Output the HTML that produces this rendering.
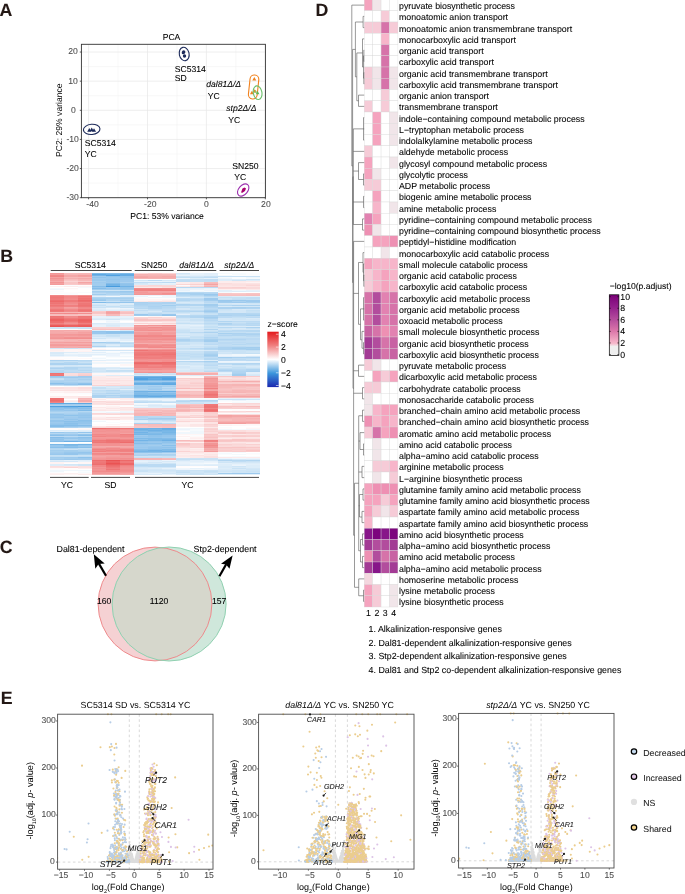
<!DOCTYPE html>
<html><head><meta charset="utf-8"><title>Figure</title><style>
html,body{margin:0;padding:0;background:#fff;width:685px;height:894px;overflow:hidden;}
svg{display:block;font-family:"Liberation Sans",sans-serif;will-change:transform;text-rendering:geometricPrecision;}
text{stroke-width:0.08px;}
</style></head><body>
<svg width="685" height="894" viewBox="0 0 685 894">
<text x="-0.4" y="16.2" font-size="17.8" text-anchor="start" fill="#231815" stroke="#231815" font-weight="bold">A</text>
<text x="0.2" y="262" font-size="17.8" text-anchor="start" fill="#231815" stroke="#231815" font-weight="bold">B</text>
<text x="-0.3" y="552.8" font-size="17.8" text-anchor="start" fill="#231815" stroke="#231815" font-weight="bold">C</text>
<text x="315.6" y="16.2" font-size="17.8" text-anchor="start" fill="#231815" stroke="#231815" font-weight="bold">D</text>
<text x="0.8" y="704" font-size="17.8" text-anchor="start" fill="#231815" stroke="#231815" font-weight="bold">E</text>
<line x1="118.05" y1="44.3" x2="118.05" y2="197.7" stroke="#f0f0f0" stroke-width="0.5"/>
<line x1="176.95" y1="44.3" x2="176.95" y2="197.7" stroke="#f0f0f0" stroke-width="0.5"/>
<line x1="235.85" y1="44.3" x2="235.85" y2="197.7" stroke="#f0f0f0" stroke-width="0.5"/>
<line x1="81.4" y1="66.6" x2="265.4" y2="66.6" stroke="#f0f0f0" stroke-width="0.5"/>
<line x1="81.4" y1="95.73" x2="265.4" y2="95.73" stroke="#f0f0f0" stroke-width="0.5"/>
<line x1="81.4" y1="124.86" x2="265.4" y2="124.86" stroke="#f0f0f0" stroke-width="0.5"/>
<line x1="81.4" y1="154" x2="265.4" y2="154" stroke="#f0f0f0" stroke-width="0.5"/>
<line x1="81.4" y1="183.12" x2="265.4" y2="183.12" stroke="#f0f0f0" stroke-width="0.5"/>
<line x1="88.6" y1="44.3" x2="88.6" y2="197.7" stroke="#e6e6e6" stroke-width="0.7"/>
<line x1="147.5" y1="44.3" x2="147.5" y2="197.7" stroke="#e6e6e6" stroke-width="0.7"/>
<line x1="206.4" y1="44.3" x2="206.4" y2="197.7" stroke="#e6e6e6" stroke-width="0.7"/>
<line x1="265.3" y1="44.3" x2="265.3" y2="197.7" stroke="#e6e6e6" stroke-width="0.7"/>
<line x1="81.4" y1="52.04" x2="265.4" y2="52.04" stroke="#e6e6e6" stroke-width="0.7"/>
<line x1="81.4" y1="81.17" x2="265.4" y2="81.17" stroke="#e6e6e6" stroke-width="0.7"/>
<line x1="81.4" y1="110.3" x2="265.4" y2="110.3" stroke="#e6e6e6" stroke-width="0.7"/>
<line x1="81.4" y1="139.43" x2="265.4" y2="139.43" stroke="#e6e6e6" stroke-width="0.7"/>
<line x1="81.4" y1="168.56" x2="265.4" y2="168.56" stroke="#e6e6e6" stroke-width="0.7"/>
<line x1="81.4" y1="197.69" x2="265.4" y2="197.69" stroke="#e6e6e6" stroke-width="0.7"/>
<rect x="81.4" y="44.3" width="183.99999999999997" height="153.39999999999998" fill="none" stroke="#333" stroke-width="0.9"/>
<line x1="79.8" y1="52.04" x2="81.4" y2="52.04" stroke="#333" stroke-width="0.8"/>
<text x="77.72" y="54.44" font-size="8.6" text-anchor="end" fill="#4d4d4d" stroke="#4d4d4d">20</text>
<line x1="79.8" y1="81.17" x2="81.4" y2="81.17" stroke="#333" stroke-width="0.8"/>
<text x="77.72" y="83.57" font-size="8.6" text-anchor="end" fill="#4d4d4d" stroke="#4d4d4d">10</text>
<line x1="79.8" y1="110.3" x2="81.4" y2="110.3" stroke="#333" stroke-width="0.8"/>
<text x="75.81" y="112.7" font-size="8.6" text-anchor="end" fill="#4d4d4d" stroke="#4d4d4d">0</text>
<line x1="79.8" y1="139.43" x2="81.4" y2="139.43" stroke="#333" stroke-width="0.8"/>
<text x="78.87" y="141.83" font-size="8.6" text-anchor="end" fill="#4d4d4d" stroke="#4d4d4d">-10</text>
<line x1="79.8" y1="168.56" x2="81.4" y2="168.56" stroke="#333" stroke-width="0.8"/>
<text x="78.87" y="170.96" font-size="8.6" text-anchor="end" fill="#4d4d4d" stroke="#4d4d4d">-20</text>
<line x1="79.8" y1="197.69" x2="81.4" y2="197.69" stroke="#333" stroke-width="0.8"/>
<text x="78.87" y="200.09" font-size="8.6" text-anchor="end" fill="#4d4d4d" stroke="#4d4d4d">-30</text>
<line x1="88.6" y1="197.7" x2="88.6" y2="199.3" stroke="#333" stroke-width="0.8"/>
<text x="92.5" y="207.2" font-size="8.6" text-anchor="middle" fill="#4d4d4d" stroke="#4d4d4d">-40</text>
<line x1="147.5" y1="197.7" x2="147.5" y2="199.3" stroke="#333" stroke-width="0.8"/>
<text x="150.3" y="207.2" font-size="8.6" text-anchor="middle" fill="#4d4d4d" stroke="#4d4d4d">-20</text>
<line x1="206.4" y1="197.7" x2="206.4" y2="199.3" stroke="#333" stroke-width="0.8"/>
<text x="206.5" y="207.2" font-size="8.6" text-anchor="middle" fill="#4d4d4d" stroke="#4d4d4d">0</text>
<line x1="265.3" y1="197.7" x2="265.3" y2="199.3" stroke="#333" stroke-width="0.8"/>
<text x="265.9" y="207.2" font-size="8.6" text-anchor="middle" fill="#4d4d4d" stroke="#4d4d4d">20</text>
<text x="171.5" y="40.4" font-size="8.6" text-anchor="middle" fill="#000" stroke="#000">PCA</text>
<text x="167" y="219" font-size="8.6" text-anchor="middle" fill="#000" stroke="#000">PC1: 53% variance</text>
<text transform="translate(61.6,120.2) rotate(-90)" font-size="8.6" text-anchor="middle" fill="#000">PC2: 29% variance</text>
<ellipse cx="184.2" cy="54" rx="4.9" ry="6.8" fill="none" stroke="#1c2a5a" stroke-width="1.1" transform="rotate(-12 184.2 54)"/>
<circle cx="183.7" cy="51.9" r="1.7" fill="#1c2a5a"/><circle cx="184.5" cy="56" r="1.7" fill="#1c2a5a"/><circle cx="183.2" cy="52.8" r="1.5" fill="#1c2a5a"/>
<ellipse cx="91.7" cy="129.4" rx="8.3" ry="5.1" fill="none" stroke="#1c2a5a" stroke-width="1.1" transform="rotate(-5 91.7 129.4)"/>
<path d="M89.3 128.12L87.2 131.75L91.4 131.75Z" fill="#1c2a5a"/>
<path d="M91.7 127.62L89.6 131.25L93.8 131.25Z" fill="#1c2a5a"/>
<path d="M94 128.22L91.9 131.85L96.1 131.85Z" fill="#1c2a5a"/>
<rect x="249.2" y="75" width="8.8" height="24" rx="4.4" fill="none" stroke="#f0821e" stroke-width="1.1" transform="rotate(6 253.6 87)"/>
<path d="M254.3 76.92L252.3 80.39L256.3 80.39Z" fill="#f0821e"/>
<path d="M251.9 90.72L249.9 94.19L253.9 94.19Z" fill="#f0821e"/>
<path d="M254.6 89.13L252.8 92.25L256.4 92.25Z" fill="#f0821e"/>
<ellipse cx="257.6" cy="92.7" rx="4.3" ry="6.9" fill="none" stroke="#6cc06c" stroke-width="1.1" transform="rotate(-10 257.6 92.7)"/>
<path d="M257.6 91.03L255.7 94.32L259.5 94.32Z" fill="#5cb85c"/>
<path d="M255.6 89.83L253.9 92.78L257.3 92.78Z" fill="#9ab860"/>
<ellipse cx="243.2" cy="190" rx="7" ry="4.6" fill="none" stroke="#9b2fae" stroke-width="1.1" transform="rotate(-50 243.2 190)"/>
<path d="M241 192.5 L242.5 188.5 L244.5 187.5 L246 188.5 L245 191 L242.5 192.8Z" fill="#a8006e"/>
<text x="174.8" y="71.9" font-size="8.6" text-anchor="start" fill="#000" stroke="#000">SC5314</text>
<text x="174.8" y="81.1" font-size="8.6" text-anchor="start" fill="#000" stroke="#000">SD</text>
<text x="206.2" y="87.2" font-size="8.6" text-anchor="start" fill="#000" stroke="#000" font-style="italic">dal81Δ/Δ</text>
<text x="207.7" y="98.7" font-size="8.6" text-anchor="start" fill="#000" stroke="#000">YC</text>
<text x="226.3" y="111.3" font-size="8.6" text-anchor="start" fill="#000" stroke="#000" font-style="italic">stp2Δ/Δ</text>
<text x="228.3" y="123.3" font-size="8.6" text-anchor="start" fill="#000" stroke="#000">YC</text>
<text x="84.8" y="146.1" font-size="8.6" text-anchor="start" fill="#000" stroke="#000">SC5314</text>
<text x="84.8" y="156.8" font-size="8.6" text-anchor="start" fill="#000" stroke="#000">YC</text>
<text x="232.3" y="169.1" font-size="8.6" text-anchor="start" fill="#000" stroke="#000">SN250</text>
<text x="234.2" y="179.7" font-size="8.6" text-anchor="start" fill="#000" stroke="#000">YC</text>
<g fill="none" shape-rendering="crispEdges">
<path d="M50.2 273.6h14.03M50.2 334.5h14.03M50.2 337.5h14.03M64.18 334.5h14.03M78.16 335.5h14.03M78.16 345.5h14.03M92.14 432.5h14.03M92.14 433.5h14.03M92.14 437.5h14.03M92.14 458.5h14.03M92.14 472.5h14.03M92.14 473.5h14.03M106.12 432.5h14.03M106.12 437.5h14.03M106.12 457.5h14.03M106.12 473.5h14.03M120.1 431.5h14.03M120.1 432.5h14.03M120.1 438.5h14.03M120.1 472.5h14.03M134.08 292.5h14.03M134.08 325.5h14.03M134.08 327.5h14.03M134.08 340.5h14.03M148.06 293.5h14.03M148.06 294.5h14.03M148.06 328.5h14.03M148.06 329.5h14.03M148.06 332.5h14.03M148.06 344.5h14.03M148.06 349.5h14.03M162.04 330.5h14.03M203.98 383.5h14.03M203.98 384.5h14.03" stroke="#f39898"/>
<path d="M50.2 274.5h14.03M50.2 279.5h14.03M50.2 280.5h14.03M50.2 336.5h14.03M50.2 344.5h14.03M64.18 342.5h14.03M78.16 275.5h14.03M78.16 342.5h14.03M92.14 452.5h14.03M92.14 455.5h14.03M92.14 457.5h14.03M106.12 456.5h14.03M120.1 452.5h14.03M134.08 291.5h14.03M148.06 340.5h14.03M162.04 332.5h14.03M203.98 379.5h14.03M203.98 380.5h14.03M203.98 381.5h14.03M217.96 423.5h14.03M231.94 423.5h14.03" stroke="#f39e9e"/>
<path d="M50.2 275.5h14.03M50.2 295.5h14.03M50.2 308.5h14.03M64.18 297.5h14.03M64.18 302.5h14.03M64.18 313.5h14.03M64.18 322.5h14.03M78.16 307.5h14.03M92.14 434.5h14.03M92.14 450.5h14.03M92.14 453.5h14.03M92.14 465.5h14.03M92.14 466.5h14.03M106.12 451.5h14.03M106.12 454.5h14.03M106.12 470.5h14.03M106.12 471.5h14.03M120.1 435.5h14.03M120.1 436.5h14.03M120.1 439.5h14.03M134.08 335.5h14.03M134.08 351.5h14.03M148.06 335.5h14.03M148.06 336.5h14.03M148.06 347.5h14.03M148.06 365.5h14.03M162.04 335.5h14.03M162.04 347.5h14.03M162.04 351.5h14.03" stroke="#f18888"/>
<path d="M50.2 276.5h14.03M50.2 402.5h14.03M64.18 296.5h14.03M64.18 310.5h14.03M92.14 436.5h14.03M106.12 453.5h14.03M134.08 336.5h14.03M148.06 351.5h14.03M162.04 289.5h14.03M162.04 336.5h14.03M203.98 391.5h14.03M203.98 408.5h14.03" stroke="#f08585"/>
<path d="M50.2 277.5h14.03M50.2 283.5h14.03M50.2 342.5h14.03M64.18 307.5h14.03M64.18 344.5h14.03M78.16 276.5h14.03M78.16 332.5h14.03M78.16 336.5h14.03M106.12 312.5h14.03M106.12 455.5h14.03M120.1 433.5h14.03M120.1 473.5h14.03M134.08 371.5h14.03M148.06 292.5h14.03M148.06 370.5h14.03M148.06 371.5h14.03M162.04 292.5h14.03M162.04 334.5h14.03M162.04 370.5h14.03M162.04 371.5h14.03M203.98 382.5h14.03M203.98 389.5h14.03M217.96 415.5h14.03M245.92 416.5h14.03" stroke="#f4a1a1"/>
<path d="M50.2 278.5h14.03M64.18 304.5h14.03M64.18 323.5h14.03M64.18 337.5h14.03M78.16 295.5h14.03M92.14 431.5h14.03M92.14 443.5h14.03M92.14 444.5h14.03M92.14 445.5h14.03M92.14 448.5h14.03M92.14 470.5h14.03M106.12 430.5h14.03M106.12 444.5h14.03M106.12 445.5h14.03M106.12 458.5h14.03M120.1 429.5h14.03M120.1 437.5h14.03M120.1 445.5h14.03M120.1 448.5h14.03M120.1 459.5h14.03M120.1 468.5h14.03M134.08 330.5h14.03M134.08 338.5h14.03M134.08 347.5h14.03M134.08 369.5h14.03M134.08 372.5h14.03M148.06 337.5h14.03M148.06 359.5h14.03M148.06 360.5h14.03M148.06 368.5h14.03M162.04 329.5h14.03M162.04 338.5h14.03M162.04 344.5h14.03M162.04 346.5h14.03M162.04 359.5h14.03M162.04 368.5h14.03M203.98 385.5h14.03M203.98 386.5h14.03" stroke="#f29292"/>
<path d="M50.2 281.5h14.03M50.2 330.5h14.03M50.2 331.5h14.03M50.2 332.5h14.03M64.18 346.5h14.03M64.18 347.5h14.03M78.16 331.5h14.03M78.16 400.5h14.03M78.16 401.5h14.03M106.12 311.5h14.03M106.12 446.5h14.03M106.12 474.05h14.03M134.08 331.5h14.03M148.06 277.5h14.03M148.06 331.5h14.03M148.06 343.5h14.03M162.04 277.5h14.03M203.98 442.5h14.03M231.94 381.5h14.03" stroke="#f5abab"/>
<path d="M50.2 282.5h14.03M50.2 338.5h14.03M78.16 334.5h14.03M78.16 337.5h14.03M92.14 430.5h14.03M92.14 438.5h14.03M92.14 459.5h14.03M92.14 467.5h14.03M92.14 469.5h14.03M106.12 431.5h14.03M106.12 433.5h14.03M106.12 438.5h14.03M106.12 459.5h14.03M120.1 443.5h14.03M120.1 444.5h14.03M134.08 294.5h14.03M134.08 328.5h14.03M134.08 329.5h14.03M134.08 337.5h14.03M134.08 349.5h14.03M134.08 360.5h14.03M134.08 368.5h14.03M148.06 325.5h14.03M148.06 333.5h14.03M148.06 334.5h14.03M148.06 338.5h14.03M148.06 361.5h14.03M162.04 294.5h14.03M162.04 327.5h14.03M162.04 328.5h14.03M162.04 337.5h14.03M162.04 349.5h14.03M162.04 369.5h14.03M162.04 372.5h14.03M203.98 378.5h14.03M203.98 443.5h14.03M203.98 444.5h14.03M203.98 446.5h14.03M203.98 447.5h14.03" stroke="#f29595"/>
<path d="M50.2 284.5h14.03M50.2 335.5h14.03M50.2 345.5h14.03M64.18 295.5h14.03M64.18 308.5h14.03M64.18 335.5h14.03M64.18 345.5h14.03M106.12 447.5h14.03M106.12 452.5h14.03M106.12 472.5h14.03M120.1 430.5h14.03M120.1 455.5h14.03M120.1 456.5h14.03M120.1 457.5h14.03M134.08 293.5h14.03M134.08 332.5h14.03M134.08 333.5h14.03M134.08 334.5h14.03M134.08 341.5h14.03M134.08 342.5h14.03M148.06 341.5h14.03M148.06 342.5h14.03M162.04 333.5h14.03M162.04 340.5h14.03M162.04 342.5h14.03M203.98 387.5h14.03M203.98 451.5h14.03" stroke="#f39b9b"/>
<path d="M50.2 285.5h14.03M50.2 287.5h14.03M50.2 294.5h14.03M50.2 386.5h14.03M64.18 287.5h14.03M64.18 290.5h14.03M64.18 291.5h14.03M64.18 399.5h14.03M64.18 471.5h14.03M64.18 472.5h14.03M78.16 288.5h14.03M78.16 289.5h14.03M78.16 290.5h14.03M78.16 291.5h14.03M78.16 293.5h14.03M78.16 294.5h14.03M78.16 357.5h14.03M78.16 359.5h14.03M78.16 395.5h14.03M78.16 442.5h14.03M78.16 469.5h14.03M92.14 356.5h14.03M92.14 422.5h14.03M92.14 423.5h14.03M106.12 348.5h14.03M106.12 358.5h14.03M106.12 364.5h14.03M106.12 421.5h14.03M106.12 423.5h14.03M120.1 321.5h14.03M120.1 348.5h14.03M120.1 358.5h14.03M120.1 422.5h14.03M134.08 316.5h14.03M148.06 296.5h14.03M176.02 427.5h14.03M190 427.5h14.03M190 467.5h14.03M217.96 274.5h14.03M217.96 402.5h14.03M217.96 410.5h14.03M217.96 426.5h14.03M217.96 455.5h14.03M231.94 292.5h14.03M231.94 426.5h14.03M231.94 427.5h14.03M231.94 428.5h14.03M231.94 453.5h14.03M231.94 455.5h14.03M245.92 292.5h14.03M245.92 410.5h14.03M245.92 426.5h14.03M245.92 452.5h14.03M245.92 455.5h14.03" stroke="#ffffff"/>
<path d="M50.2 286.5h14.03M50.2 349.5h14.03M50.2 351.5h14.03M50.2 392.5h14.03M50.2 462.5h14.03M50.2 463.5h14.03M50.2 473.5h14.03M64.18 391.5h14.03M78.16 286.5h14.03M78.16 349.5h14.03M78.16 351.5h14.03M78.16 391.5h14.03M92.14 349.5h14.03M92.14 408.5h14.03M106.12 400.5h14.03M106.12 406.5h14.03M120.1 416.5h14.03M148.06 322.5h14.03M176.02 423.5h14.03M176.02 436.5h14.03M190 422.5h14.03M190 423.5h14.03M190 437.5h14.03M190 454.5h14.03M217.96 425.5h14.03M245.92 282.5h14.03" stroke="#fef2f2"/>
<path d="M50.2 288.5h14.03M50.2 443.5h14.03M78.16 287.5h14.03M78.16 472.5h14.03M92.14 320.5h14.03M92.14 351.5h14.03M92.14 411.5h14.03M92.14 412.5h14.03M106.12 352.5h14.03M120.1 320.5h14.03M120.1 354.5h14.03M134.08 403.5h14.03M148.06 403.5h14.03M162.04 403.5h14.03M176.02 430.5h14.03M190 290.5h14.03M190 399.5h14.03M190 429.5h14.03M190 430.5h14.03M203.98 291.5h14.03M203.98 398.5h14.03M203.98 463.5h14.03M217.96 273.6h14.03M217.96 275.5h14.03M217.96 277.5h14.03M217.96 292.5h14.03M217.96 400.5h14.03M217.96 453.5h14.03M231.94 273.6h14.03M231.94 274.5h14.03M231.94 402.5h14.03M231.94 429.5h14.03M231.94 452.5h14.03M231.94 454.5h14.03M231.94 456.5h14.03M245.92 278.5h14.03M245.92 354.5h14.03M245.92 400.5h14.03M245.92 401.5h14.03M245.92 402.5h14.03M245.92 413.5h14.03" stroke="#f5fafd"/>
<path d="M50.2 289.5h14.03M50.2 442.5h14.03M50.2 470.5h14.03M50.2 471.5h14.03M64.18 353.5h14.03M64.18 356.5h14.03M64.18 470.5h14.03M78.16 353.5h14.03M78.16 443.5h14.03M78.16 470.5h14.03M92.14 353.5h14.03M92.14 355.5h14.03M92.14 358.5h14.03M92.14 362.5h14.03M92.14 363.5h14.03M92.14 421.5h14.03M106.12 296.5h14.03M106.12 308.5h14.03M106.12 320.5h14.03M106.12 322.5h14.03M106.12 356.5h14.03M106.12 359.5h14.03M106.12 362.5h14.03M120.1 341.5h14.03M120.1 356.5h14.03M120.1 363.5h14.03M120.1 411.5h14.03M134.08 295.5h14.03M134.08 404.5h14.03M134.08 406.5h14.03M148.06 297.5h14.03M162.04 296.5h14.03M162.04 297.5h14.03M162.04 404.5h14.03M176.02 291.5h14.03M176.02 398.5h14.03M176.02 399.5h14.03M176.02 428.5h14.03M176.02 432.5h14.03M176.02 433.5h14.03M176.02 468.5h14.03M190 291.5h14.03M190 428.5h14.03M190 431.5h14.03M190 432.5h14.03M190 433.5h14.03M190 463.5h14.03M190 469.5h14.03M203.98 289.5h14.03M203.98 399.5h14.03M217.96 429.5h14.03M231.94 290.5h14.03M231.94 354.5h14.03M231.94 355.5h14.03M231.94 458.5h14.03M245.92 277.5h14.03M245.92 355.5h14.03M245.92 429.5h14.03" stroke="#f0f7fc"/>
<path d="M50.2 290.5h14.03M50.2 292.5h14.03M50.2 329.5h14.03M50.2 357.5h14.03M50.2 358.5h14.03M50.2 393.5h14.03M50.2 394.5h14.03M50.2 395.5h14.03M50.2 428.5h14.03M50.2 429.5h14.03M64.18 289.5h14.03M64.18 292.5h14.03M64.18 329.5h14.03M64.18 357.5h14.03M64.18 359.5h14.03M64.18 394.5h14.03M64.18 395.5h14.03M64.18 429.5h14.03M64.18 463.5h14.03M64.18 468.5h14.03M64.18 469.5h14.03M78.16 285.5h14.03M78.16 394.5h14.03M92.14 348.5h14.03M92.14 364.5h14.03M92.14 365.5h14.03M92.14 366.5h14.03M92.14 424.5h14.03M92.14 425.5h14.03M106.12 361.5h14.03M106.12 365.5h14.03M106.12 366.5h14.03M106.12 399.5h14.03M106.12 415.5h14.03M106.12 420.5h14.03M106.12 425.5h14.03M120.1 361.5h14.03M120.1 366.5h14.03M120.1 374.5h14.03M120.1 406.5h14.03M120.1 420.5h14.03M120.1 424.5h14.03M120.1 425.5h14.03M148.06 298.5h14.03M162.04 298.5h14.03M176.02 431.5h14.03M176.02 435.5h14.03M176.02 437.5h14.03M176.02 466.5h14.03M176.02 467.5h14.03M190 466.5h14.03M203.98 466.5h14.03M217.96 413.5h14.03M217.96 428.5h14.03M231.94 409.5h14.03M231.94 410.5h14.03M245.92 427.5h14.03M245.92 454.5h14.03" stroke="#fffcfc"/>
<path d="M50.2 291.5h14.03M50.2 293.5h14.03M50.2 469.5h14.03M50.2 472.5h14.03M64.18 285.5h14.03M64.18 293.5h14.03M64.18 294.5h14.03M64.18 358.5h14.03M64.18 386.5h14.03M64.18 442.5h14.03M64.18 443.5h14.03M78.16 292.5h14.03M78.16 393.5h14.03M78.16 471.5h14.03M92.14 321.5h14.03M92.14 322.5h14.03M92.14 357.5h14.03M92.14 359.5h14.03M92.14 420.5h14.03M106.12 351.5h14.03M106.12 357.5h14.03M106.12 411.5h14.03M106.12 422.5h14.03M120.1 322.5h14.03M120.1 351.5h14.03M120.1 355.5h14.03M120.1 357.5h14.03M120.1 405.5h14.03M120.1 421.5h14.03M134.08 279.5h14.03M134.08 297.5h14.03M148.06 279.5h14.03M162.04 279.5h14.03M190 398.5h14.03M190 435.5h14.03M203.98 467.5h14.03M217.96 401.5h14.03M217.96 409.5h14.03M217.96 427.5h14.03M217.96 452.5h14.03M217.96 454.5h14.03M217.96 456.5h14.03M231.94 275.5h14.03M231.94 277.5h14.03M231.94 278.5h14.03M231.94 401.5h14.03M231.94 413.5h14.03M245.92 273.6h14.03M245.92 274.5h14.03M245.92 275.5h14.03M245.92 409.5h14.03M245.92 453.5h14.03M245.92 456.5h14.03" stroke="#fafcfe"/>
<path d="M50.2 296.5h14.03M50.2 298.5h14.03M50.2 309.5h14.03M50.2 311.5h14.03M50.2 374.5h14.03M64.18 300.5h14.03M64.18 301.5h14.03M78.16 309.5h14.03M78.16 311.5h14.03M78.16 317.5h14.03M92.14 461.5h14.03M106.12 467.5h14.03M120.1 461.5h14.03M120.1 462.5h14.03M134.08 353.5h14.03M134.08 355.5h14.03M134.08 364.5h14.03M148.06 353.5h14.03M148.06 364.5h14.03M162.04 352.5h14.03M203.98 404.5h14.03" stroke="#ef7a7a"/>
<path d="M50.2 297.5h14.03M50.2 302.5h14.03M50.2 317.5h14.03M50.2 375.5h14.03M64.18 321.5h14.03M78.16 299.5h14.03M78.16 303.5h14.03M78.16 304.5h14.03M78.16 306.5h14.03M78.16 316.5h14.03M78.16 318.5h14.03M92.14 440.5h14.03M92.14 442.5h14.03M92.14 462.5h14.03M106.12 469.5h14.03M120.1 428.5h14.03M120.1 440.5h14.03M120.1 441.5h14.03M134.08 354.5h14.03M162.04 353.5h14.03M203.98 395.5h14.03M203.98 405.5h14.03M203.98 411.5h14.03" stroke="#ee7777"/>
<path d="M50.2 299.5h14.03M50.2 306.5h14.03M64.18 318.5h14.03M78.16 297.5h14.03M92.14 441.5h14.03M134.08 352.5h14.03M134.08 357.5h14.03M148.06 352.5h14.03M148.06 355.5h14.03M162.04 355.5h14.03M162.04 356.5h14.03M162.04 366.5h14.03" stroke="#ef7c7c"/>
<path d="M50.2 300.5h14.03M50.2 318.5h14.03M50.2 322.5h14.03M64.18 320.5h14.03M78.16 301.5h14.03M78.16 324.5h14.03M92.14 428.5h14.03M92.14 460.5h14.03M92.14 464.5h14.03M134.08 362.5h14.03M148.06 362.5h14.03M162.04 363.5h14.03" stroke="#ed6f6f"/>
<path d="M50.2 301.5h14.03M78.16 300.5h14.03M120.1 460.5h14.03M120.1 463.5h14.03M120.1 464.5h14.03M134.08 363.5h14.03M148.06 363.5h14.03" stroke="#ed6969"/>
<path d="M50.2 303.5h14.03M50.2 305.5h14.03M50.2 310.5h14.03M50.2 316.5h14.03M50.2 324.5h14.03M50.2 373.5h14.03M50.2 399.5h14.03M78.16 296.5h14.03M78.16 298.5h14.03M78.16 310.5h14.03M92.14 463.5h14.03M106.12 428.5h14.03M106.12 441.5h14.03M106.12 442.5h14.03M134.08 350.5h14.03M148.06 354.5h14.03M162.04 364.5h14.03M203.98 407.5h14.03" stroke="#ee7474"/>
<path d="M50.2 304.5h14.03M64.18 305.5h14.03M64.18 324.5h14.03M78.16 302.5h14.03M78.16 323.5h14.03M92.14 451.5h14.03M106.12 450.5h14.03M120.1 450.5h14.03M134.08 365.5h14.03M134.08 366.5h14.03M134.08 367.5h14.03M148.06 289.5h14.03M148.06 290.5h14.03M148.06 350.5h14.03M148.06 357.5h14.03M148.06 358.5h14.03M148.06 367.5h14.03M162.04 290.5h14.03M162.04 350.5h14.03M162.04 357.5h14.03M162.04 365.5h14.03M203.98 393.5h14.03M203.98 396.5h14.03M203.98 397.5h14.03M203.98 440.5h14.03" stroke="#f07f7f"/>
<path d="M50.2 307.5h14.03M50.2 313.5h14.03M64.18 298.5h14.03M64.18 303.5h14.03M64.18 309.5h14.03M64.18 311.5h14.03M64.18 316.5h14.03M64.18 317.5h14.03M78.16 308.5h14.03M92.14 454.5h14.03M92.14 471.5h14.03M106.12 435.5h14.03M106.12 436.5h14.03M106.12 448.5h14.03M106.12 449.5h14.03M120.1 466.5h14.03M120.1 470.5h14.03M134.08 288.5h14.03M134.08 345.5h14.03M134.08 346.5h14.03M148.06 288.5h14.03M148.06 339.5h14.03M148.06 346.5h14.03M162.04 288.5h14.03M162.04 339.5h14.03M162.04 345.5h14.03M203.98 445.5h14.03" stroke="#f18b8b"/>
<path d="M50.2 312.5h14.03M64.18 274.5h14.03M64.18 312.5h14.03M64.18 340.5h14.03M78.16 273.6h14.03M78.16 280.5h14.03M78.16 339.5h14.03M134.08 410.5h14.03M134.08 415.5h14.03M134.08 424.5h14.03M148.06 274.5h14.03M148.06 413.5h14.03M148.06 415.5h14.03M162.04 274.5h14.03M162.04 415.5h14.03M162.04 424.5h14.03M162.04 459.5h14.03M176.02 409.5h14.03M203.98 283.5h14.03M203.98 376.5h14.03M217.96 384.5h14.03M217.96 385.5h14.03M217.96 392.5h14.03M217.96 394.5h14.03M217.96 418.5h14.03M231.94 390.5h14.03M231.94 391.5h14.03M231.94 418.5h14.03M231.94 419.5h14.03M231.94 420.5h14.03M245.92 390.5h14.03M245.92 391.5h14.03M245.92 394.5h14.03M245.92 395.5h14.03M245.92 419.5h14.03" stroke="#f6b7b7"/>
<path d="M50.2 314.5h14.03M50.2 315.5h14.03M50.2 340.5h14.03M64.18 279.5h14.03M78.16 312.5h14.03M78.16 315.5h14.03M134.08 412.5h14.03M148.06 410.5h14.03M148.06 425.5h14.03M148.06 426.5h14.03M162.04 412.5h14.03M162.04 426.5h14.03M176.02 391.5h14.03M176.02 397.5h14.03M190 394.5h14.03M190 397.5h14.03M190 406.5h14.03M203.98 282.5h14.03M217.96 419.5h14.03M217.96 420.5h14.03M231.94 386.5h14.03M231.94 394.5h14.03M245.92 295.5h14.03M245.92 386.5h14.03M245.92 406.5h14.03" stroke="#f7bdbd"/>
<path d="M50.2 319.5h14.03M50.2 320.5h14.03M64.18 325.5h14.03M78.16 320.5h14.03M106.12 462.5h14.03" stroke="#ec6161"/>
<path d="M50.2 321.5h14.03M50.2 400.5h14.03M78.16 322.5h14.03M106.12 465.5h14.03M120.1 442.5h14.03M162.04 362.5h14.03M203.98 410.5h14.03" stroke="#ed6c6c"/>
<path d="M50.2 323.5h14.03M64.18 306.5h14.03M92.14 449.5h14.03M106.12 439.5h14.03M106.12 468.5h14.03M120.1 434.5h14.03M120.1 449.5h14.03M120.1 451.5h14.03M120.1 453.5h14.03M120.1 454.5h14.03M120.1 465.5h14.03M134.08 289.5h14.03M134.08 290.5h14.03M134.08 356.5h14.03M134.08 358.5h14.03M148.06 356.5h14.03M148.06 366.5h14.03M162.04 358.5h14.03M162.04 367.5h14.03M203.98 388.5h14.03M203.98 392.5h14.03M203.98 441.5h14.03" stroke="#f08282"/>
<path d="M50.2 325.5h14.03M78.16 326.5h14.03" stroke="#eb5c5c"/>
<path d="M50.2 326.5h14.03M106.12 460.5h14.03M106.12 463.5h14.03" stroke="#ea5353"/>
<path d="M50.2 327.5h14.03M50.2 348.5h14.03M50.2 461.5h14.03M64.18 328.5h14.03M64.18 365.5h14.03M64.18 461.5h14.03M64.18 464.5h14.03M78.16 348.5h14.03M92.14 304.5h14.03M92.14 306.5h14.03M92.14 335.5h14.03M92.14 350.5h14.03M92.14 369.5h14.03M92.14 370.5h14.03M92.14 389.5h14.03M106.12 303.5h14.03M106.12 307.5h14.03M106.12 350.5h14.03M106.12 386.5h14.03M106.12 389.5h14.03M120.1 336.5h14.03M120.1 337.5h14.03M120.1 338.5h14.03M120.1 350.5h14.03M120.1 386.5h14.03M120.1 387.5h14.03M134.08 283.5h14.03M134.08 400.5h14.03M134.08 463.5h14.03M134.08 467.5h14.03M134.08 469.5h14.03M148.06 421.5h14.03M148.06 422.5h14.03M148.06 462.5h14.03M148.06 467.5h14.03M148.06 469.5h14.03M148.06 471.5h14.03M162.04 280.5h14.03M162.04 467.5h14.03M162.04 471.5h14.03M162.04 473.5h14.03M176.02 273.6h14.03M176.02 308.5h14.03M176.02 309.5h14.03M176.02 313.5h14.03M176.02 319.5h14.03M176.02 322.5h14.03M176.02 333.5h14.03M176.02 346.5h14.03M176.02 347.5h14.03M176.02 366.5h14.03M176.02 367.5h14.03M176.02 460.5h14.03M176.02 473.5h14.03M190 276.5h14.03M190 297.5h14.03M190 302.5h14.03M190 303.5h14.03M190 313.5h14.03M190 321.5h14.03M190 329.5h14.03M190 330.5h14.03M190 331.5h14.03M190 334.5h14.03M190 335.5h14.03M190 344.5h14.03M190 347.5h14.03M190 363.5h14.03M190 369.5h14.03M190 370.5h14.03M190 371.5h14.03M203.98 402.5h14.03M203.98 403.5h14.03M203.98 460.5h14.03M203.98 473.5h14.03M217.96 303.5h14.03M217.96 311.5h14.03M217.96 312.5h14.03M217.96 318.5h14.03M217.96 319.5h14.03M217.96 320.5h14.03M217.96 329.5h14.03M217.96 352.5h14.03M217.96 367.5h14.03M217.96 461.5h14.03M217.96 470.5h14.03M231.94 304.5h14.03M231.94 306.5h14.03M231.94 310.5h14.03M231.94 311.5h14.03M231.94 312.5h14.03M231.94 320.5h14.03M231.94 329.5h14.03M231.94 459.5h14.03M231.94 462.5h14.03M245.92 304.5h14.03M245.92 306.5h14.03M245.92 309.5h14.03M245.92 319.5h14.03M245.92 320.5h14.03M245.92 329.5h14.03M245.92 356.5h14.03M245.92 367.5h14.03M245.92 375.5h14.03M245.92 462.5h14.03M245.92 468.5h14.03" stroke="#d3e7f7"/>
<path d="M50.2 328.5h14.03M50.2 365.5h14.03M64.18 366.5h14.03M78.16 327.5h14.03M78.16 366.5h14.03M78.16 385.5h14.03M78.16 464.5h14.03M78.16 465.5h14.03M92.14 301.5h14.03M92.14 336.5h14.03M92.14 338.5h14.03M92.14 344.5h14.03M92.14 368.5h14.03M92.14 371.5h14.03M106.12 290.5h14.03M106.12 319.5h14.03M106.12 388.5h14.03M120.1 306.5h14.03M120.1 334.5h14.03M120.1 335.5h14.03M120.1 368.5h14.03M134.08 280.5h14.03M134.08 309.5h14.03M134.08 311.5h14.03M134.08 312.5h14.03M134.08 373.5h14.03M134.08 456.5h14.03M148.06 456.5h14.03M148.06 470.5h14.03M162.04 373.5h14.03M162.04 401.5h14.03M162.04 421.5h14.03M162.04 463.5h14.03M162.04 470.5h14.03M176.02 276.5h14.03M176.02 303.5h14.03M176.02 318.5h14.03M176.02 320.5h14.03M176.02 329.5h14.03M176.02 335.5h14.03M176.02 342.5h14.03M176.02 362.5h14.03M176.02 363.5h14.03M176.02 364.5h14.03M176.02 403.5h14.03M176.02 474.05h14.03M190 306.5h14.03M190 309.5h14.03M190 312.5h14.03M190 314.5h14.03M190 318.5h14.03M190 333.5h14.03M190 342.5h14.03M190 343.5h14.03M190 346.5h14.03M190 359.5h14.03M190 364.5h14.03M190 402.5h14.03M190 471.5h14.03M190 472.5h14.03M203.98 325.5h14.03M203.98 328.5h14.03M203.98 330.5h14.03M203.98 345.5h14.03M203.98 369.5h14.03M203.98 474.05h14.03M217.96 298.5h14.03M217.96 304.5h14.03M217.96 310.5h14.03M217.96 328.5h14.03M217.96 353.5h14.03M217.96 462.5h14.03M217.96 471.5h14.03M231.94 280.5h14.03M231.94 318.5h14.03M231.94 319.5h14.03M231.94 365.5h14.03M231.94 366.5h14.03M231.94 466.5h14.03M231.94 470.5h14.03M231.94 471.5h14.03M231.94 472.5h14.03M245.92 279.5h14.03M245.92 303.5h14.03M245.92 351.5h14.03M245.92 352.5h14.03M245.92 365.5h14.03M245.92 399.5h14.03M245.92 469.5h14.03M245.92 470.5h14.03M245.92 472.5h14.03" stroke="#cee5f6"/>
<path d="M50.2 333.5h14.03M50.2 346.5h14.03M50.2 347.5h14.03M64.18 275.5h14.03M64.18 276.5h14.03M64.18 330.5h14.03M64.18 332.5h14.03M64.18 333.5h14.03M78.16 278.5h14.03M92.14 446.5h14.03M120.1 446.5h14.03M120.1 474.05h14.03M134.08 276.5h14.03M162.04 276.5h14.03M162.04 331.5h14.03M203.98 390.5h14.03M203.98 449.5h14.03M217.96 396.5h14.03M231.94 415.5h14.03M231.94 416.5h14.03M245.92 415.5h14.03" stroke="#f4a8a8"/>
<path d="M50.2 339.5h14.03M64.18 331.5h14.03M134.08 274.5h14.03M134.08 458.5h14.03M148.06 278.5h14.03M148.06 348.5h14.03M148.06 412.5h14.03M176.02 374.5h14.03M176.02 406.5h14.03M176.02 410.5h14.03M190 373.5h14.03M190 395.5h14.03M203.98 286.5h14.03M203.98 374.5h14.03M217.96 421.5h14.03M231.94 421.5h14.03M245.92 384.5h14.03M245.92 385.5h14.03M245.92 418.5h14.03M245.92 423.5h14.03" stroke="#f6b1b1"/>
<path d="M50.2 341.5h14.03M64.18 339.5h14.03M64.18 341.5h14.03M78.16 274.5h14.03M78.16 279.5h14.03M78.16 283.5h14.03M78.16 341.5h14.03M78.16 398.5h14.03M134.08 275.5h14.03M134.08 278.5h14.03M134.08 413.5h14.03M134.08 414.5h14.03M134.08 459.5h14.03M148.06 275.5h14.03M148.06 458.5h14.03M148.06 459.5h14.03M162.04 275.5h14.03M162.04 413.5h14.03M176.02 394.5h14.03M176.02 396.5h14.03M176.02 405.5h14.03M176.02 407.5h14.03M190 407.5h14.03M217.96 381.5h14.03M231.94 384.5h14.03M231.94 385.5h14.03M231.94 392.5h14.03M231.94 395.5h14.03M231.94 417.5h14.03" stroke="#f6b4b4"/>
<path d="M50.2 343.5h14.03M64.18 278.5h14.03M64.18 343.5h14.03M78.16 330.5h14.03M78.16 340.5h14.03M78.16 343.5h14.03M78.16 346.5h14.03M92.14 474.05h14.03M134.08 343.5h14.03M148.06 276.5h14.03M148.06 326.5h14.03M148.06 414.5h14.03M162.04 278.5h14.03M162.04 343.5h14.03M162.04 348.5h14.03M176.02 373.5h14.03M176.02 395.5h14.03M190 374.5h14.03M203.98 373.5h14.03M203.98 377.5h14.03M203.98 448.5h14.03M203.98 450.5h14.03M217.96 417.5h14.03M245.92 381.5h14.03M245.92 421.5h14.03" stroke="#f5aeae"/>
<path d="M50.2 350.5h14.03M50.2 397.5h14.03M50.2 474.05h14.03M64.18 392.5h14.03M64.18 398.5h14.03M64.18 400.5h14.03M64.18 473.5h14.03M78.16 468.5h14.03M106.12 377.5h14.03M106.12 398.5h14.03M106.12 407.5h14.03M106.12 409.5h14.03M120.1 399.5h14.03M134.08 322.5h14.03M134.08 324.5h14.03M162.04 300.5h14.03M176.02 418.5h14.03M176.02 422.5h14.03M176.02 424.5h14.03M176.02 426.5h14.03M176.02 454.5h14.03M176.02 457.5h14.03M190 438.5h14.03M190 442.5h14.03M190 448.5h14.03M217.96 289.5h14.03M231.94 289.5h14.03M245.92 412.5h14.03" stroke="#fdefef"/>
<path d="M50.2 352.5h14.03M50.2 353.5h14.03M50.2 355.5h14.03M50.2 366.5h14.03M64.18 465.5h14.03M78.16 365.5h14.03M92.14 310.5h14.03M92.14 319.5h14.03M92.14 323.5h14.03M106.12 305.5h14.03M106.12 325.5h14.03M106.12 337.5h14.03M106.12 344.5h14.03M106.12 368.5h14.03M106.12 387.5h14.03M120.1 310.5h14.03M120.1 330.5h14.03M134.08 284.5h14.03M134.08 375.5h14.03M134.08 398.5h14.03M134.08 468.5h14.03M134.08 474.05h14.03M148.06 311.5h14.03M148.06 374.5h14.03M148.06 375.5h14.03M148.06 405.5h14.03M148.06 463.5h14.03M148.06 472.5h14.03M148.06 474.05h14.03M162.04 406.5h14.03M162.04 461.5h14.03M162.04 469.5h14.03M162.04 472.5h14.03M176.02 302.5h14.03M176.02 321.5h14.03M176.02 328.5h14.03M176.02 334.5h14.03M176.02 336.5h14.03M176.02 345.5h14.03M176.02 350.5h14.03M176.02 368.5h14.03M176.02 370.5h14.03M176.02 371.5h14.03M190 322.5h14.03M190 324.5h14.03M190 327.5h14.03M190 345.5h14.03M190 365.5h14.03M190 367.5h14.03M190 368.5h14.03M203.98 350.5h14.03M217.96 296.5h14.03M217.96 306.5h14.03M217.96 326.5h14.03M217.96 365.5h14.03M217.96 374.5h14.03M217.96 466.5h14.03M217.96 467.5h14.03M217.96 469.5h14.03M217.96 472.5h14.03M231.94 303.5h14.03M231.94 309.5h14.03M231.94 326.5h14.03M231.94 328.5h14.03M231.94 467.5h14.03M231.94 469.5h14.03M245.92 318.5h14.03M245.92 366.5h14.03M245.92 374.5h14.03M245.92 459.5h14.03" stroke="#d8eaf8"/>
<path d="M50.2 354.5h14.03M50.2 430.5h14.03M50.2 460.5h14.03M50.2 464.5h14.03M50.2 465.5h14.03M64.18 352.5h14.03M64.18 430.5h14.03M78.16 431.5h14.03M92.14 303.5h14.03M92.14 309.5h14.03M92.14 318.5h14.03M92.14 330.5h14.03M92.14 337.5h14.03M92.14 372.5h14.03M92.14 386.5h14.03M106.12 304.5h14.03M106.12 310.5h14.03M106.12 316.5h14.03M106.12 318.5h14.03M106.12 323.5h14.03M106.12 324.5h14.03M106.12 326.5h14.03M106.12 338.5h14.03M106.12 345.5h14.03M106.12 367.5h14.03M106.12 375.5h14.03M120.1 295.5h14.03M120.1 303.5h14.03M120.1 304.5h14.03M120.1 318.5h14.03M120.1 323.5h14.03M120.1 375.5h14.03M134.08 405.5h14.03M134.08 420.5h14.03M134.08 422.5h14.03M134.08 462.5h14.03M134.08 472.5h14.03M148.06 284.5h14.03M148.06 398.5h14.03M148.06 400.5h14.03M148.06 406.5h14.03M148.06 460.5h14.03M148.06 468.5h14.03M162.04 375.5h14.03M162.04 398.5h14.03M162.04 405.5h14.03M162.04 407.5h14.03M162.04 422.5h14.03M176.02 274.5h14.03M176.02 297.5h14.03M176.02 324.5h14.03M176.02 326.5h14.03M176.02 327.5h14.03M176.02 365.5h14.03M176.02 369.5h14.03M176.02 465.5h14.03M190 278.5h14.03M190 326.5h14.03M190 328.5h14.03M190 350.5h14.03M190 366.5h14.03M190 375.5h14.03M203.98 360.5h14.03M203.98 465.5h14.03M217.96 279.5h14.03M217.96 280.5h14.03M217.96 375.5h14.03M217.96 464.5h14.03M217.96 465.5h14.03M217.96 468.5h14.03M217.96 474.05h14.03M231.94 279.5h14.03M231.94 291.5h14.03M231.94 296.5h14.03M231.94 463.5h14.03M231.94 474.05h14.03M245.92 280.5h14.03M245.92 326.5h14.03M245.92 463.5h14.03M245.92 465.5h14.03M245.92 466.5h14.03M245.92 467.5h14.03" stroke="#ddedf9"/>
<path d="M50.2 356.5h14.03M64.18 402.5h14.03M92.14 341.5h14.03M92.14 375.5h14.03M106.12 321.5h14.03M106.12 330.5h14.03M106.12 339.5h14.03M106.12 347.5h14.03M106.12 354.5h14.03M106.12 355.5h14.03M106.12 363.5h14.03M106.12 412.5h14.03M120.1 308.5h14.03M120.1 347.5h14.03M120.1 353.5h14.03M120.1 359.5h14.03M120.1 362.5h14.03M120.1 412.5h14.03M134.08 296.5h14.03M134.08 399.5h14.03M148.06 281.5h14.03M148.06 295.5h14.03M148.06 399.5h14.03M162.04 295.5h14.03M162.04 399.5h14.03M162.04 400.5h14.03M162.04 460.5h14.03M176.02 278.5h14.03M176.02 289.5h14.03M176.02 360.5h14.03M176.02 429.5h14.03M176.02 469.5h14.03M190 289.5h14.03M190 360.5h14.03M203.98 288.5h14.03M203.98 290.5h14.03M203.98 462.5h14.03M203.98 468.5h14.03M217.96 278.5h14.03M217.96 355.5h14.03M217.96 361.5h14.03M217.96 458.5h14.03M231.94 361.5h14.03M231.94 400.5h14.03M231.94 465.5h14.03M245.92 458.5h14.03" stroke="#ecf4fc"/>
<path d="M50.2 359.5h14.03M50.2 391.5h14.03M64.18 288.5h14.03M64.18 349.5h14.03M64.18 350.5h14.03M64.18 351.5h14.03M64.18 462.5h14.03M64.18 474.05h14.03M78.16 350.5h14.03M78.16 429.5h14.03M78.16 462.5h14.03M78.16 463.5h14.03M78.16 473.5h14.03M92.14 373.5h14.03M92.14 374.5h14.03M92.14 398.5h14.03M92.14 400.5h14.03M92.14 416.5h14.03M106.12 373.5h14.03M106.12 374.5h14.03M106.12 424.5h14.03M120.1 349.5h14.03M120.1 364.5h14.03M120.1 365.5h14.03M120.1 400.5h14.03M120.1 423.5h14.03M134.08 299.5h14.03M134.08 300.5h14.03M148.06 299.5h14.03M148.06 300.5h14.03M148.06 316.5h14.03M162.04 299.5h14.03M176.02 376.5h14.03M176.02 377.5h14.03M176.02 434.5h14.03M190 376.5h14.03M190 418.5h14.03M190 434.5h14.03M190 439.5h14.03M217.96 424.5h14.03M231.94 425.5h14.03M245.92 424.5h14.03M245.92 428.5h14.03" stroke="#fef6f6"/>
<path d="M50.2 360.5h14.03M50.2 363.5h14.03M50.2 364.5h14.03M50.2 368.5h14.03M50.2 381.5h14.03M50.2 405.5h14.03M64.18 360.5h14.03M64.18 364.5h14.03M64.18 380.5h14.03M64.18 411.5h14.03M64.18 413.5h14.03M64.18 427.5h14.03M78.16 364.5h14.03M78.16 382.5h14.03M78.16 450.5h14.03M92.14 292.5h14.03M92.14 346.5h14.03M92.14 395.5h14.03M92.14 396.5h14.03M106.12 342.5h14.03M106.12 395.5h14.03M120.1 282.5h14.03M120.1 293.5h14.03M120.1 396.5h14.03M134.08 303.5h14.03M134.08 304.5h14.03M134.08 385.5h14.03M134.08 423.5h14.03M134.08 455.5h14.03M148.06 303.5h14.03M148.06 306.5h14.03M148.06 314.5h14.03M148.06 385.5h14.03M148.06 390.5h14.03M148.06 419.5h14.03M148.06 423.5h14.03M162.04 302.5h14.03M162.04 303.5h14.03M162.04 385.5h14.03M162.04 388.5h14.03M162.04 419.5h14.03M162.04 454.5h14.03M176.02 304.5h14.03M176.02 339.5h14.03M176.02 340.5h14.03M203.98 306.5h14.03M203.98 315.5h14.03M203.98 316.5h14.03M203.98 318.5h14.03M203.98 332.5h14.03M203.98 356.5h14.03M217.96 307.5h14.03M217.96 308.5h14.03M217.96 315.5h14.03M217.96 323.5h14.03M217.96 347.5h14.03M217.96 348.5h14.03M217.96 349.5h14.03M217.96 370.5h14.03M231.94 301.5h14.03M231.94 305.5h14.03M231.94 308.5h14.03M231.94 333.5h14.03M231.94 349.5h14.03M231.94 357.5h14.03M231.94 373.5h14.03M245.92 305.5h14.03M245.92 307.5h14.03M245.92 327.5h14.03M245.92 334.5h14.03M245.92 357.5h14.03M245.92 371.5h14.03" stroke="#acd2f0"/>
<path d="M50.2 361.5h14.03M50.2 362.5h14.03M50.2 378.5h14.03M50.2 455.5h14.03M64.18 327.5h14.03M64.18 455.5h14.03M64.18 456.5h14.03M78.16 371.5h14.03M78.16 433.5h14.03M78.16 448.5h14.03M92.14 305.5h14.03M92.14 334.5h14.03M92.14 343.5h14.03M92.14 387.5h14.03M92.14 388.5h14.03M92.14 391.5h14.03M106.12 306.5h14.03M106.12 335.5h14.03M106.12 346.5h14.03M106.12 370.5h14.03M106.12 371.5h14.03M106.12 394.5h14.03M120.1 305.5h14.03M120.1 307.5h14.03M120.1 342.5h14.03M120.1 345.5h14.03M120.1 370.5h14.03M120.1 390.5h14.03M134.08 401.5h14.03M134.08 457.5h14.03M148.06 373.5h14.03M148.06 401.5h14.03M148.06 402.5h14.03M148.06 457.5h14.03M176.02 277.5h14.03M176.02 279.5h14.03M176.02 296.5h14.03M176.02 301.5h14.03M176.02 312.5h14.03M176.02 323.5h14.03M176.02 332.5h14.03M176.02 348.5h14.03M176.02 354.5h14.03M176.02 356.5h14.03M176.02 358.5h14.03M176.02 359.5h14.03M176.02 459.5h14.03M176.02 472.5h14.03M190 277.5h14.03M190 279.5h14.03M190 280.5h14.03M190 281.5h14.03M190 296.5h14.03M190 307.5h14.03M190 337.5h14.03M190 349.5h14.03M190 353.5h14.03M190 355.5h14.03M190 357.5h14.03M190 459.5h14.03M203.98 281.5h14.03M203.98 297.5h14.03M203.98 303.5h14.03M203.98 313.5h14.03M203.98 322.5h14.03M203.98 324.5h14.03M203.98 326.5h14.03M203.98 327.5h14.03M203.98 331.5h14.03M203.98 334.5h14.03M203.98 346.5h14.03M203.98 363.5h14.03M203.98 367.5h14.03M203.98 368.5h14.03M203.98 471.5h14.03M217.96 297.5h14.03M217.96 332.5h14.03M217.96 337.5h14.03M217.96 341.5h14.03M217.96 368.5h14.03M231.94 297.5h14.03M231.94 298.5h14.03M231.94 317.5h14.03M231.94 332.5h14.03M231.94 336.5h14.03M231.94 337.5h14.03M231.94 345.5h14.03M231.94 367.5h14.03M231.94 368.5h14.03M245.92 299.5h14.03M245.92 310.5h14.03M245.92 337.5h14.03M245.92 345.5h14.03M245.92 350.5h14.03M245.92 353.5h14.03M245.92 359.5h14.03M245.92 368.5h14.03" stroke="#c4e0f4"/>
<path d="M50.2 367.5h14.03M50.2 436.5h14.03M64.18 436.5h14.03M78.16 449.5h14.03M92.14 293.5h14.03M92.14 393.5h14.03M106.12 343.5h14.03M106.12 396.5h14.03M120.1 301.5h14.03M120.1 343.5h14.03M120.1 346.5h14.03M120.1 392.5h14.03M120.1 394.5h14.03M134.08 307.5h14.03M134.08 402.5h14.03M134.08 464.5h14.03M148.06 280.5h14.03M148.06 313.5h14.03M148.06 416.5h14.03M148.06 453.5h14.03M148.06 464.5h14.03M148.06 465.5h14.03M148.06 466.5h14.03M162.04 282.5h14.03M162.04 304.5h14.03M162.04 308.5h14.03M162.04 387.5h14.03M162.04 389.5h14.03M162.04 417.5h14.03M162.04 423.5h14.03M162.04 464.5h14.03M162.04 465.5h14.03M162.04 466.5h14.03M176.02 298.5h14.03M176.02 310.5h14.03M176.02 315.5h14.03M176.02 317.5h14.03M190 287.5h14.03M190 300.5h14.03M190 332.5h14.03M190 341.5h14.03M190 348.5h14.03M190 401.5h14.03M203.98 287.5h14.03M203.98 301.5h14.03M203.98 302.5h14.03M203.98 308.5h14.03M203.98 319.5h14.03M203.98 323.5h14.03M203.98 344.5h14.03M203.98 351.5h14.03M203.98 362.5h14.03M203.98 365.5h14.03M203.98 371.5h14.03M203.98 401.5h14.03M217.96 316.5h14.03M217.96 317.5h14.03M217.96 334.5h14.03M217.96 340.5h14.03M217.96 342.5h14.03M217.96 343.5h14.03M217.96 346.5h14.03M217.96 358.5h14.03M217.96 360.5h14.03M217.96 371.5h14.03M231.94 316.5h14.03M231.94 321.5h14.03M231.94 324.5h14.03M231.94 327.5h14.03M231.94 331.5h14.03M231.94 338.5h14.03M231.94 340.5h14.03M231.94 342.5h14.03M231.94 346.5h14.03M231.94 359.5h14.03M231.94 369.5h14.03M245.92 317.5h14.03M245.92 321.5h14.03M245.92 324.5h14.03M245.92 336.5h14.03M245.92 338.5h14.03M245.92 339.5h14.03M245.92 344.5h14.03M245.92 360.5h14.03M245.92 364.5h14.03" stroke="#bbdaf3"/>
<path d="M50.2 369.5h14.03M50.2 456.5h14.03M64.18 370.5h14.03M64.18 371.5h14.03M64.18 385.5h14.03M78.16 361.5h14.03M78.16 368.5h14.03M78.16 369.5h14.03M78.16 456.5h14.03M92.14 390.5h14.03M92.14 394.5h14.03M106.12 391.5h14.03M106.12 392.5h14.03M120.1 391.5h14.03M120.1 393.5h14.03M134.08 282.5h14.03M134.08 310.5h14.03M134.08 466.5h14.03M148.06 282.5h14.03M148.06 309.5h14.03M162.04 309.5h14.03M162.04 310.5h14.03M162.04 402.5h14.03M162.04 420.5h14.03M162.04 453.5h14.03M176.02 280.5h14.03M176.02 281.5h14.03M176.02 307.5h14.03M176.02 338.5h14.03M176.02 353.5h14.03M176.02 355.5h14.03M176.02 400.5h14.03M190 298.5h14.03M190 310.5h14.03M190 354.5h14.03M190 356.5h14.03M203.98 277.5h14.03M203.98 279.5h14.03M203.98 280.5h14.03M203.98 321.5h14.03M203.98 335.5h14.03M203.98 336.5h14.03M203.98 342.5h14.03M203.98 343.5h14.03M203.98 347.5h14.03M203.98 357.5h14.03M203.98 364.5h14.03M217.96 325.5h14.03M217.96 330.5h14.03M217.96 336.5h14.03M217.96 338.5h14.03M217.96 344.5h14.03M217.96 345.5h14.03M217.96 359.5h14.03M217.96 364.5h14.03M231.94 299.5h14.03M231.94 323.5h14.03M231.94 325.5h14.03M231.94 341.5h14.03M231.94 343.5h14.03M231.94 358.5h14.03M231.94 360.5h14.03M231.94 461.5h14.03M245.92 297.5h14.03M245.92 298.5h14.03M245.92 316.5h14.03M245.92 322.5h14.03M245.92 340.5h14.03M245.92 341.5h14.03M245.92 342.5h14.03M245.92 346.5h14.03M245.92 358.5h14.03" stroke="#c0ddf4"/>
<path d="M50.2 370.5h14.03M50.2 371.5h14.03M50.2 412.5h14.03M50.2 433.5h14.03M50.2 449.5h14.03M64.18 362.5h14.03M64.18 369.5h14.03M64.18 372.5h14.03M64.18 448.5h14.03M78.16 360.5h14.03M78.16 363.5h14.03M78.16 367.5h14.03M78.16 370.5h14.03M78.16 372.5h14.03M78.16 381.5h14.03M78.16 411.5h14.03M78.16 427.5h14.03M78.16 436.5h14.03M106.12 390.5h14.03M106.12 397.5h14.03M134.08 306.5h14.03M134.08 308.5h14.03M134.08 418.5h14.03M134.08 453.5h14.03M134.08 465.5h14.03M148.06 417.5h14.03M162.04 306.5h14.03M162.04 307.5h14.03M162.04 311.5h14.03M162.04 416.5h14.03M176.02 287.5h14.03M176.02 292.5h14.03M176.02 295.5h14.03M176.02 299.5h14.03M176.02 311.5h14.03M176.02 316.5h14.03M176.02 341.5h14.03M176.02 361.5h14.03M176.02 401.5h14.03M190 292.5h14.03M190 295.5h14.03M190 299.5h14.03M190 315.5h14.03M190 339.5h14.03M190 340.5h14.03M203.98 292.5h14.03M203.98 296.5h14.03M203.98 309.5h14.03M203.98 320.5h14.03M203.98 338.5h14.03M203.98 349.5h14.03M203.98 352.5h14.03M203.98 358.5h14.03M203.98 359.5h14.03M217.96 305.5h14.03M217.96 327.5h14.03M217.96 331.5h14.03M217.96 363.5h14.03M217.96 369.5h14.03M231.94 330.5h14.03M231.94 344.5h14.03M231.94 363.5h14.03M231.94 370.5h14.03M231.94 460.5h14.03M245.92 313.5h14.03M245.92 323.5h14.03M245.92 325.5h14.03M245.92 330.5h14.03M245.92 331.5h14.03M245.92 335.5h14.03M245.92 343.5h14.03" stroke="#b6d8f2"/>
<path d="M50.2 372.5h14.03M50.2 380.5h14.03M50.2 448.5h14.03M64.18 363.5h14.03M64.18 367.5h14.03M64.18 368.5h14.03M64.18 376.5h14.03M64.18 378.5h14.03M64.18 379.5h14.03M64.18 381.5h14.03M64.18 412.5h14.03M64.18 433.5h14.03M78.16 378.5h14.03M78.16 380.5h14.03M92.14 297.5h14.03M92.14 397.5h14.03M106.12 293.5h14.03M106.12 294.5h14.03M106.12 297.5h14.03M106.12 299.5h14.03M106.12 300.5h14.03M106.12 393.5h14.03M120.1 297.5h14.03M120.1 299.5h14.03M120.1 397.5h14.03M134.08 305.5h14.03M134.08 389.5h14.03M134.08 416.5h14.03M134.08 417.5h14.03M134.08 454.5h14.03M148.06 302.5h14.03M148.06 304.5h14.03M148.06 305.5h14.03M148.06 307.5h14.03M148.06 308.5h14.03M148.06 455.5h14.03M162.04 390.5h14.03M162.04 455.5h14.03M176.02 294.5h14.03M176.02 300.5h14.03M176.02 305.5h14.03M190 304.5h14.03M190 305.5h14.03M190 311.5h14.03M190 316.5h14.03M190 317.5h14.03M190 361.5h14.03M190 400.5h14.03M203.98 293.5h14.03M203.98 307.5h14.03M203.98 312.5h14.03M203.98 329.5h14.03M203.98 337.5h14.03M203.98 348.5h14.03M203.98 353.5h14.03M203.98 400.5h14.03M217.96 313.5h14.03M217.96 314.5h14.03M217.96 321.5h14.03M217.96 324.5h14.03M217.96 335.5h14.03M217.96 339.5h14.03M217.96 460.5h14.03M231.94 313.5h14.03M231.94 314.5h14.03M231.94 315.5h14.03M231.94 334.5h14.03M231.94 335.5h14.03M231.94 339.5h14.03M231.94 364.5h14.03M231.94 371.5h14.03M231.94 372.5h14.03M245.92 308.5h14.03M245.92 314.5h14.03M245.92 333.5h14.03M245.92 363.5h14.03M245.92 369.5h14.03M245.92 370.5h14.03M245.92 460.5h14.03" stroke="#b1d5f1"/>
<path d="M50.2 376.5h14.03M50.2 410.5h14.03M50.2 415.5h14.03M50.2 416.5h14.03M50.2 423.5h14.03M50.2 432.5h14.03M50.2 434.5h14.03M50.2 445.5h14.03M50.2 446.5h14.03M50.2 454.5h14.03M64.18 437.5h14.03M64.18 452.5h14.03M64.18 459.5h14.03M78.16 414.5h14.03M78.16 416.5h14.03M78.16 426.5h14.03M78.16 439.5h14.03M78.16 446.5h14.03M78.16 453.5h14.03M92.14 279.5h14.03M92.14 280.5h14.03M92.14 287.5h14.03M92.14 300.5h14.03M92.14 332.5h14.03M92.14 333.5h14.03M106.12 277.5h14.03M106.12 278.5h14.03M106.12 280.5h14.03M106.12 281.5h14.03M120.1 278.5h14.03M120.1 279.5h14.03M120.1 289.5h14.03M120.1 291.5h14.03M120.1 333.5h14.03M134.08 314.5h14.03M134.08 381.5h14.03M134.08 437.5h14.03M134.08 444.5h14.03M134.08 447.5h14.03M148.06 442.5h14.03M148.06 444.5h14.03M148.06 446.5h14.03M162.04 314.5h14.03M162.04 437.5h14.03M162.04 443.5h14.03M162.04 448.5h14.03M203.98 294.5h14.03M217.96 300.5h14.03M231.94 300.5h14.03" stroke="#99c8ed"/>
<path d="M50.2 377.5h14.03M50.2 418.5h14.03M50.2 450.5h14.03M50.2 452.5h14.03M50.2 457.5h14.03M64.18 404.5h14.03M64.18 414.5h14.03M64.18 416.5h14.03M64.18 432.5h14.03M64.18 450.5h14.03M64.18 451.5h14.03M64.18 458.5h14.03M78.16 377.5h14.03M78.16 404.5h14.03M92.14 283.5h14.03M92.14 284.5h14.03M92.14 285.5h14.03M92.14 289.5h14.03M92.14 291.5h14.03M92.14 294.5h14.03M92.14 299.5h14.03M92.14 342.5h14.03M106.12 291.5h14.03M120.1 292.5h14.03M120.1 294.5h14.03M120.1 300.5h14.03M134.08 315.5h14.03M134.08 390.5h14.03M148.06 388.5h14.03M148.06 418.5h14.03M148.06 445.5h14.03M162.04 305.5h14.03M162.04 418.5h14.03M162.04 444.5h14.03M203.98 295.5h14.03M203.98 300.5h14.03M203.98 304.5h14.03M203.98 305.5h14.03M203.98 317.5h14.03M203.98 340.5h14.03M203.98 341.5h14.03M203.98 355.5h14.03M217.96 302.5h14.03M217.96 357.5h14.03M217.96 473.5h14.03M231.94 348.5h14.03M231.94 374.5h14.03M231.94 375.5h14.03M245.92 347.5h14.03M245.92 349.5h14.03" stroke="#a2cdee"/>
<path d="M50.2 379.5h14.03M50.2 385.5h14.03M64.18 348.5h14.03M64.18 361.5h14.03M64.18 449.5h14.03M78.16 328.5h14.03M78.16 362.5h14.03M78.16 455.5h14.03M92.14 290.5h14.03M92.14 295.5h14.03M92.14 307.5h14.03M92.14 345.5h14.03M92.14 392.5h14.03M106.12 295.5h14.03M106.12 301.5h14.03M106.12 334.5h14.03M106.12 336.5h14.03M120.1 290.5h14.03M120.1 344.5h14.03M120.1 371.5h14.03M120.1 388.5h14.03M134.08 313.5h14.03M134.08 374.5h14.03M134.08 470.5h14.03M134.08 471.5h14.03M148.06 310.5h14.03M148.06 312.5h14.03M148.06 420.5h14.03M162.04 312.5h14.03M162.04 313.5h14.03M162.04 374.5h14.03M162.04 456.5h14.03M162.04 457.5h14.03M176.02 306.5h14.03M176.02 330.5h14.03M176.02 331.5h14.03M176.02 337.5h14.03M176.02 343.5h14.03M176.02 344.5h14.03M176.02 349.5h14.03M176.02 351.5h14.03M176.02 352.5h14.03M176.02 357.5h14.03M176.02 402.5h14.03M176.02 458.5h14.03M176.02 470.5h14.03M176.02 471.5h14.03M190 301.5h14.03M190 308.5h14.03M190 319.5h14.03M190 320.5h14.03M190 323.5h14.03M190 336.5h14.03M190 338.5h14.03M190 351.5h14.03M190 352.5h14.03M190 358.5h14.03M190 362.5h14.03M190 403.5h14.03M190 458.5h14.03M190 470.5h14.03M190 473.5h14.03M190 474.05h14.03M203.98 276.5h14.03M203.98 314.5h14.03M203.98 333.5h14.03M203.98 366.5h14.03M203.98 370.5h14.03M203.98 458.5h14.03M203.98 459.5h14.03M203.98 470.5h14.03M203.98 472.5h14.03M217.96 276.5h14.03M217.96 299.5h14.03M217.96 309.5h14.03M217.96 322.5h14.03M217.96 350.5h14.03M217.96 351.5h14.03M217.96 366.5h14.03M217.96 399.5h14.03M217.96 459.5h14.03M231.94 276.5h14.03M231.94 322.5h14.03M231.94 350.5h14.03M231.94 351.5h14.03M231.94 352.5h14.03M231.94 353.5h14.03M231.94 399.5h14.03M231.94 468.5h14.03M245.92 276.5h14.03M245.92 311.5h14.03M245.92 312.5h14.03M245.92 328.5h14.03M245.92 332.5h14.03M245.92 461.5h14.03M245.92 471.5h14.03" stroke="#c9e2f5"/>
<path d="M50.2 382.5h14.03M50.2 411.5h14.03M50.2 413.5h14.03M50.2 419.5h14.03M50.2 427.5h14.03M50.2 451.5h14.03M50.2 458.5h14.03M64.18 382.5h14.03M64.18 405.5h14.03M64.18 439.5h14.03M78.16 379.5h14.03M78.16 405.5h14.03M78.16 412.5h14.03M78.16 451.5h14.03M78.16 454.5h14.03M92.14 281.5h14.03M92.14 298.5h14.03M106.12 292.5h14.03M106.12 298.5h14.03M120.1 298.5h14.03M120.1 395.5h14.03M134.08 302.5h14.03M134.08 386.5h14.03M134.08 387.5h14.03M134.08 388.5h14.03M134.08 419.5h14.03M148.06 315.5h14.03M148.06 387.5h14.03M148.06 454.5h14.03M162.04 386.5h14.03M176.02 293.5h14.03M190 293.5h14.03M190 294.5h14.03M203.98 310.5h14.03M203.98 339.5h14.03M203.98 354.5h14.03M203.98 361.5h14.03M217.96 333.5h14.03M231.94 307.5h14.03M231.94 347.5h14.03M245.92 302.5h14.03M245.92 315.5h14.03M245.92 348.5h14.03" stroke="#a7d0ef"/>
<path d="M50.2 383.5h14.03M50.2 435.5h14.03M50.2 447.5h14.03M64.18 408.5h14.03M64.18 421.5h14.03M64.18 423.5h14.03M78.16 407.5h14.03M78.16 420.5h14.03M78.16 437.5h14.03M78.16 447.5h14.03M120.1 332.5h14.03M134.08 449.5h14.03M148.06 397.5h14.03M148.06 432.5h14.03M148.06 443.5h14.03M148.06 449.5h14.03M162.04 445.5h14.03" stroke="#8ac0ea"/>
<path d="M50.2 384.5h14.03M50.2 404.5h14.03M50.2 422.5h14.03M50.2 453.5h14.03M50.2 459.5h14.03M64.18 377.5h14.03M64.18 383.5h14.03M64.18 409.5h14.03M64.18 417.5h14.03M64.18 418.5h14.03M64.18 420.5h14.03M64.18 434.5h14.03M64.18 440.5h14.03M64.18 457.5h14.03M78.16 376.5h14.03M78.16 413.5h14.03M78.16 418.5h14.03M78.16 419.5h14.03M78.16 424.5h14.03M78.16 440.5h14.03M78.16 458.5h14.03M78.16 459.5h14.03M92.14 276.5h14.03M92.14 278.5h14.03M92.14 282.5h14.03M106.12 282.5h14.03M106.12 287.5h14.03M106.12 289.5h14.03M120.1 280.5h14.03M120.1 281.5h14.03M134.08 435.5h14.03M134.08 445.5h14.03M134.08 446.5h14.03M134.08 448.5h14.03M148.06 381.5h14.03M148.06 386.5h14.03M148.06 389.5h14.03M162.04 381.5h14.03M162.04 446.5h14.03M162.04 452.5h14.03M203.98 298.5h14.03M203.98 299.5h14.03M203.98 311.5h14.03M217.96 301.5h14.03M231.94 302.5h14.03M231.94 473.5h14.03M245.92 300.5h14.03M245.92 301.5h14.03M245.92 473.5h14.03" stroke="#9ecaee"/>
<path d="M50.2 387.5h14.03M50.2 388.5h14.03M50.2 390.5h14.03M50.2 467.5h14.03M64.18 390.5h14.03M78.16 390.5h14.03M78.16 466.5h14.03M78.16 467.5h14.03M92.14 314.5h14.03M92.14 380.5h14.03M92.14 403.5h14.03M106.12 380.5h14.03M106.12 383.5h14.03M106.12 401.5h14.03M106.12 417.5h14.03M106.12 419.5h14.03M120.1 427.5h14.03M148.06 301.5h14.03M162.04 287.5h14.03M162.04 317.5h14.03M162.04 321.5h14.03M176.02 390.5h14.03M176.02 415.5h14.03M190 389.5h14.03M190 390.5h14.03M203.98 418.5h14.03M203.98 456.5h14.03M203.98 457.5h14.03M217.96 284.5h14.03M217.96 377.5h14.03M217.96 430.5h14.03M217.96 437.5h14.03M217.96 442.5h14.03M217.96 443.5h14.03M231.94 284.5h14.03M231.94 285.5h14.03M231.94 378.5h14.03M245.92 405.5h14.03M245.92 434.5h14.03" stroke="#fbe0e0"/>
<path d="M50.2 389.5h14.03M64.18 396.5h14.03M64.18 401.5h14.03M78.16 474.05h14.03M92.14 377.5h14.03M92.14 378.5h14.03M92.14 379.5h14.03M92.14 384.5h14.03M92.14 407.5h14.03M92.14 418.5h14.03M106.12 376.5h14.03M106.12 379.5h14.03M106.12 410.5h14.03M120.1 378.5h14.03M120.1 381.5h14.03M120.1 382.5h14.03M120.1 383.5h14.03M120.1 408.5h14.03M120.1 418.5h14.03M134.08 287.5h14.03M134.08 301.5h14.03M148.06 287.5h14.03M162.04 322.5h14.03M176.02 414.5h14.03M176.02 452.5h14.03M176.02 453.5h14.03M176.02 455.5h14.03M176.02 456.5h14.03M190 285.5h14.03M190 412.5h14.03M190 414.5h14.03M190 426.5h14.03M190 449.5h14.03M190 456.5h14.03M190 457.5h14.03M203.98 427.5h14.03M203.98 452.5h14.03M203.98 455.5h14.03M217.96 412.5h14.03M217.96 434.5h14.03M217.96 457.5h14.03M231.94 281.5h14.03M231.94 412.5h14.03M245.92 281.5h14.03M245.92 289.5h14.03M245.92 443.5h14.03" stroke="#fce9e9"/>
<path d="M50.2 396.5h14.03M64.18 286.5h14.03M64.18 397.5h14.03M78.16 392.5h14.03M92.14 376.5h14.03M92.14 399.5h14.03M92.14 409.5h14.03M92.14 417.5h14.03M106.12 382.5h14.03M106.12 418.5h14.03M120.1 376.5h14.03M120.1 377.5h14.03M120.1 379.5h14.03M120.1 398.5h14.03M120.1 410.5h14.03M120.1 419.5h14.03M176.02 282.5h14.03M176.02 283.5h14.03M176.02 425.5h14.03M176.02 442.5h14.03M190 450.5h14.03M190 453.5h14.03M203.98 453.5h14.03M217.96 281.5h14.03M217.96 282.5h14.03M217.96 438.5h14.03M231.94 282.5h14.03M231.94 457.5h14.03M245.92 457.5h14.03" stroke="#fdecec"/>
<path d="M50.2 398.5h14.03M50.2 401.5h14.03M64.18 319.5h14.03M78.16 305.5h14.03M106.12 440.5h14.03M106.12 466.5h14.03M162.04 354.5h14.03M203.98 394.5h14.03M203.98 406.5h14.03M203.98 409.5h14.03" stroke="#ee7272"/>
<path d="M50.2 403.5h14.03M78.16 403.5h14.03M92.14 274.5h14.03M134.08 377.5h14.03M148.06 379.5h14.03M162.04 384.5h14.03" stroke="#5ea8e2"/>
<path d="M50.2 406.5h14.03M64.18 406.5h14.03M106.12 275.5h14.03M134.08 378.5h14.03M134.08 379.5h14.03M162.04 378.5h14.03M162.04 379.5h14.03" stroke="#50a0e0"/>
<path d="M50.2 407.5h14.03M50.2 425.5h14.03M50.2 426.5h14.03M50.2 437.5h14.03M50.2 441.5h14.03M64.18 425.5h14.03M64.18 447.5h14.03M78.16 384.5h14.03M78.16 408.5h14.03M78.16 425.5h14.03M78.16 435.5h14.03M92.14 286.5h14.03M92.14 288.5h14.03M106.12 273.6h14.03M106.12 283.5h14.03M134.08 392.5h14.03M134.08 397.5h14.03M134.08 431.5h14.03M134.08 443.5h14.03M162.04 393.5h14.03M162.04 394.5h14.03M162.04 434.5h14.03M162.04 438.5h14.03" stroke="#85bde9"/>
<path d="M50.2 408.5h14.03M50.2 409.5h14.03M50.2 439.5h14.03M64.18 415.5h14.03M64.18 424.5h14.03M64.18 446.5h14.03M78.16 383.5h14.03M78.16 421.5h14.03M78.16 457.5h14.03M92.14 277.5h14.03M106.12 276.5h14.03M106.12 331.5h14.03M106.12 332.5h14.03M120.1 276.5h14.03M120.1 277.5h14.03M120.1 284.5h14.03M120.1 285.5h14.03M120.1 287.5h14.03M120.1 288.5h14.03M120.1 331.5h14.03M134.08 439.5h14.03M134.08 441.5h14.03M134.08 452.5h14.03M148.06 435.5h14.03M148.06 436.5h14.03M148.06 452.5h14.03M162.04 397.5h14.03M162.04 441.5h14.03M162.04 442.5h14.03M162.04 447.5h14.03" stroke="#8fc3eb"/>
<path d="M50.2 414.5h14.03M50.2 417.5h14.03M50.2 420.5h14.03M50.2 421.5h14.03M50.2 424.5h14.03M50.2 438.5h14.03M50.2 440.5h14.03M64.18 384.5h14.03M64.18 410.5h14.03M64.18 419.5h14.03M64.18 422.5h14.03M64.18 426.5h14.03M64.18 435.5h14.03M64.18 438.5h14.03M64.18 453.5h14.03M64.18 454.5h14.03M78.16 409.5h14.03M78.16 415.5h14.03M78.16 417.5h14.03M78.16 422.5h14.03M78.16 423.5h14.03M78.16 432.5h14.03M78.16 434.5h14.03M78.16 438.5h14.03M78.16 445.5h14.03M78.16 452.5h14.03M92.14 331.5h14.03M106.12 279.5h14.03M106.12 288.5h14.03M106.12 302.5h14.03M106.12 333.5h14.03M120.1 283.5h14.03M120.1 302.5h14.03M134.08 436.5h14.03M134.08 442.5h14.03M148.06 392.5h14.03M148.06 437.5h14.03M148.06 441.5h14.03M148.06 447.5h14.03M148.06 448.5h14.03M162.04 315.5h14.03M162.04 392.5h14.03M162.04 435.5h14.03M162.04 436.5h14.03" stroke="#94c5ec"/>
<path d="M50.2 431.5h14.03M64.18 354.5h14.03M64.18 460.5h14.03M78.16 352.5h14.03M78.16 356.5h14.03M78.16 461.5h14.03M92.14 316.5h14.03M92.14 317.5h14.03M92.14 325.5h14.03M92.14 326.5h14.03M92.14 339.5h14.03M92.14 340.5h14.03M106.12 309.5h14.03M106.12 317.5h14.03M106.12 340.5h14.03M106.12 353.5h14.03M106.12 360.5h14.03M120.1 316.5h14.03M120.1 317.5h14.03M120.1 326.5h14.03M120.1 360.5h14.03M120.1 367.5h14.03M120.1 372.5h14.03M134.08 281.5h14.03M134.08 461.5h14.03M148.06 473.5h14.03M162.04 281.5h14.03M162.04 283.5h14.03M162.04 468.5h14.03M162.04 474.05h14.03M176.02 275.5h14.03M176.02 288.5h14.03M176.02 290.5h14.03M176.02 462.5h14.03M176.02 463.5h14.03M190 273.6h14.03M190 274.5h14.03M190 288.5h14.03M190 325.5h14.03M190 462.5h14.03M190 464.5h14.03M190 468.5h14.03M203.98 278.5h14.03M203.98 461.5h14.03M203.98 469.5h14.03M217.96 354.5h14.03M217.96 362.5h14.03M217.96 373.5h14.03M217.96 398.5h14.03M231.94 362.5h14.03M231.94 398.5h14.03M231.94 464.5h14.03M245.92 290.5h14.03M245.92 361.5h14.03M245.92 362.5h14.03M245.92 398.5h14.03" stroke="#e7f2fb"/>
<path d="M50.2 444.5h14.03M64.18 407.5h14.03M148.06 431.5h14.03M148.06 434.5h14.03M148.06 440.5h14.03M162.04 380.5h14.03M162.04 431.5h14.03M162.04 439.5h14.03" stroke="#7bb8e7"/>
<path d="M50.2 466.5h14.03M64.18 373.5h14.03M64.18 374.5h14.03M78.16 387.5h14.03M78.16 388.5h14.03M92.14 414.5h14.03M106.12 413.5h14.03M120.1 314.5h14.03M120.1 401.5h14.03M120.1 402.5h14.03M120.1 404.5h14.03M120.1 426.5h14.03M134.08 285.5h14.03M148.06 318.5h14.03M148.06 321.5h14.03M176.02 379.5h14.03M176.02 381.5h14.03M190 416.5h14.03M190 421.5h14.03M190 451.5h14.03M203.98 432.5h14.03M217.96 283.5h14.03M217.96 405.5h14.03M217.96 411.5h14.03M231.94 430.5h14.03M231.94 431.5h14.03M231.94 443.5h14.03M245.92 284.5h14.03M245.92 404.5h14.03M245.92 414.5h14.03M245.92 445.5h14.03" stroke="#fbdddd"/>
<path d="M50.2 468.5h14.03M64.18 393.5h14.03M64.18 428.5h14.03M78.16 329.5h14.03M78.16 358.5h14.03M78.16 386.5h14.03M78.16 428.5h14.03M92.14 361.5h14.03M92.14 405.5h14.03M92.14 406.5h14.03M92.14 415.5h14.03M106.12 349.5h14.03M106.12 405.5h14.03M106.12 416.5h14.03M120.1 373.5h14.03M120.1 415.5h14.03M134.08 298.5h14.03M162.04 316.5h14.03M176.02 285.5h14.03M176.02 438.5h14.03M176.02 439.5h14.03M190 377.5h14.03M190 436.5h14.03M231.94 424.5h14.03M245.92 425.5h14.03" stroke="#fef9f9"/>
<path d="M64.18 273.6h14.03M64.18 277.5h14.03M64.18 314.5h14.03M78.16 277.5h14.03M78.16 399.5h14.03M106.12 314.5h14.03M106.12 315.5h14.03M120.1 329.5h14.03M134.08 348.5h14.03M148.06 424.5h14.03M162.04 410.5h14.03M162.04 411.5h14.03M162.04 414.5h14.03M162.04 425.5h14.03M162.04 458.5h14.03M176.02 388.5h14.03M176.02 411.5h14.03M176.02 440.5h14.03M190 396.5h14.03M190 405.5h14.03M190 409.5h14.03M217.96 386.5h14.03M217.96 387.5h14.03M217.96 391.5h14.03M217.96 395.5h14.03M217.96 397.5h14.03M231.94 397.5h14.03M245.92 392.5h14.03M245.92 397.5h14.03M245.92 417.5h14.03M245.92 420.5h14.03" stroke="#f7baba"/>
<path d="M64.18 280.5h14.03M64.18 282.5h14.03M64.18 283.5h14.03M78.16 314.5h14.03M92.14 312.5h14.03M134.08 319.5h14.03M134.08 320.5h14.03M134.08 426.5h14.03M134.08 427.5h14.03M148.06 320.5h14.03M148.06 411.5h14.03M176.02 393.5h14.03M176.02 404.5h14.03M176.02 408.5h14.03M176.02 443.5h14.03M190 392.5h14.03M190 393.5h14.03M190 404.5h14.03M190 440.5h14.03M203.98 417.5h14.03M203.98 421.5h14.03M203.98 434.5h14.03M203.98 439.5h14.03M217.96 294.5h14.03M217.96 389.5h14.03M217.96 406.5h14.03M217.96 440.5h14.03M217.96 447.5h14.03M231.94 294.5h14.03M231.94 406.5h14.03M231.94 439.5h14.03M231.94 440.5h14.03M231.94 447.5h14.03M245.92 293.5h14.03M245.92 388.5h14.03M245.92 450.5h14.03" stroke="#f8c4c4"/>
<path d="M64.18 281.5h14.03M64.18 467.5h14.03M78.16 373.5h14.03M92.14 385.5h14.03M106.12 385.5h14.03M120.1 385.5h14.03M120.1 413.5h14.03M134.08 323.5h14.03M148.06 317.5h14.03M162.04 273.6h14.03M162.04 323.5h14.03M176.02 386.5h14.03M176.02 387.5h14.03M176.02 416.5h14.03M176.02 446.5h14.03M176.02 451.5h14.03M190 382.5h14.03M190 386.5h14.03M190 408.5h14.03M190 443.5h14.03M190 444.5h14.03M190 447.5h14.03M203.98 414.5h14.03M203.98 428.5h14.03M217.96 287.5h14.03M217.96 380.5h14.03M217.96 403.5h14.03M245.92 411.5h14.03M245.92 448.5h14.03" stroke="#fad3d3"/>
<path d="M64.18 284.5h14.03M78.16 281.5h14.03M78.16 375.5h14.03M120.1 311.5h14.03M120.1 328.5h14.03M134.08 408.5h14.03M148.06 273.6h14.03M148.06 319.5h14.03M148.06 408.5h14.03M190 441.5h14.03M203.98 372.5h14.03M203.98 419.5h14.03M203.98 435.5h14.03M217.96 382.5h14.03M217.96 432.5h14.03M217.96 450.5h14.03M231.94 293.5h14.03M231.94 393.5h14.03M231.94 436.5h14.03M231.94 451.5h14.03M245.92 376.5h14.03M245.92 382.5h14.03M245.92 439.5h14.03M245.92 441.5h14.03M245.92 451.5h14.03" stroke="#f9caca"/>
<path d="M64.18 299.5h14.03M64.18 338.5h14.03M78.16 313.5h14.03M78.16 338.5h14.03M92.14 429.5h14.03M92.14 435.5h14.03M92.14 439.5h14.03M92.14 468.5h14.03M106.12 429.5h14.03M106.12 434.5h14.03M106.12 443.5h14.03M120.1 458.5h14.03M120.1 467.5h14.03M120.1 469.5h14.03M120.1 471.5h14.03M134.08 339.5h14.03M134.08 344.5h14.03M134.08 359.5h14.03M134.08 361.5h14.03M148.06 327.5h14.03M148.06 330.5h14.03M148.06 345.5h14.03M148.06 369.5h14.03M148.06 372.5h14.03M162.04 293.5h14.03M162.04 325.5h14.03M162.04 360.5h14.03M162.04 361.5h14.03" stroke="#f28e8e"/>
<path d="M64.18 315.5h14.03M78.16 284.5h14.03M92.14 329.5h14.03M106.12 329.5h14.03M120.1 312.5h14.03M120.1 313.5h14.03M134.08 411.5h14.03M134.08 425.5h14.03M162.04 427.5h14.03M176.02 392.5h14.03M190 388.5h14.03M190 391.5h14.03M190 410.5h14.03M203.98 285.5h14.03M203.98 416.5h14.03M203.98 437.5h14.03M217.96 295.5h14.03M217.96 388.5h14.03M217.96 390.5h14.03M231.94 295.5h14.03M231.94 387.5h14.03M231.94 389.5h14.03M245.92 294.5h14.03" stroke="#f8c0c0"/>
<path d="M64.18 326.5h14.03M106.12 461.5h14.03" stroke="#ec6464"/>
<path d="M64.18 336.5h14.03M78.16 282.5h14.03M78.16 333.5h14.03M78.16 344.5h14.03M78.16 347.5h14.03M92.14 447.5h14.03M92.14 456.5h14.03M106.12 313.5h14.03M120.1 447.5h14.03M134.08 277.5h14.03M134.08 326.5h14.03M134.08 370.5h14.03M148.06 291.5h14.03M162.04 291.5h14.03M162.04 326.5h14.03M162.04 341.5h14.03M203.98 284.5h14.03M217.96 416.5h14.03M217.96 422.5h14.03M231.94 396.5h14.03M231.94 422.5h14.03M245.92 396.5h14.03M245.92 422.5h14.03" stroke="#f4a4a4"/>
<path d="M64.18 355.5h14.03M64.18 431.5h14.03M78.16 354.5h14.03M78.16 355.5h14.03M78.16 430.5h14.03M78.16 460.5h14.03M92.14 296.5h14.03M92.14 308.5h14.03M92.14 324.5h14.03M92.14 347.5h14.03M92.14 352.5h14.03M92.14 354.5h14.03M92.14 360.5h14.03M92.14 367.5h14.03M106.12 341.5h14.03M106.12 369.5h14.03M106.12 372.5h14.03M120.1 296.5h14.03M120.1 309.5h14.03M120.1 319.5h14.03M120.1 324.5h14.03M120.1 325.5h14.03M120.1 339.5h14.03M120.1 340.5h14.03M120.1 352.5h14.03M120.1 369.5h14.03M120.1 389.5h14.03M134.08 407.5h14.03M134.08 421.5h14.03M134.08 460.5h14.03M134.08 473.5h14.03M148.06 283.5h14.03M148.06 404.5h14.03M148.06 407.5h14.03M148.06 461.5h14.03M162.04 284.5h14.03M162.04 462.5h14.03M176.02 314.5h14.03M176.02 325.5h14.03M176.02 375.5h14.03M176.02 461.5h14.03M176.02 464.5h14.03M190 275.5h14.03M190 460.5h14.03M190 461.5h14.03M190 465.5h14.03M203.98 273.6h14.03M203.98 274.5h14.03M203.98 275.5h14.03M203.98 375.5h14.03M203.98 464.5h14.03M217.96 290.5h14.03M217.96 291.5h14.03M217.96 356.5h14.03M217.96 372.5h14.03M217.96 463.5h14.03M231.94 356.5h14.03M245.92 291.5h14.03M245.92 296.5h14.03M245.92 372.5h14.03M245.92 373.5h14.03M245.92 464.5h14.03M245.92 474.05h14.03" stroke="#e2effa"/>
<path d="M64.18 375.5h14.03M92.14 315.5h14.03M92.14 401.5h14.03M92.14 427.5h14.03M106.12 402.5h14.03M106.12 404.5h14.03M106.12 426.5h14.03M106.12 427.5h14.03M134.08 321.5h14.03M148.06 286.5h14.03M162.04 285.5h14.03M162.04 318.5h14.03M176.02 382.5h14.03M176.02 383.5h14.03M176.02 447.5h14.03M190 380.5h14.03M190 381.5h14.03M190 387.5h14.03M203.98 433.5h14.03M217.96 446.5h14.03M231.94 379.5h14.03M231.94 404.5h14.03M231.94 405.5h14.03M231.94 411.5h14.03M231.94 414.5h14.03M231.94 445.5h14.03M245.92 287.5h14.03M245.92 288.5h14.03M245.92 446.5h14.03" stroke="#fadada"/>
<path d="M64.18 387.5h14.03M64.18 388.5h14.03M64.18 466.5h14.03M78.16 389.5h14.03M92.14 402.5h14.03M92.14 404.5h14.03M120.1 380.5h14.03M120.1 407.5h14.03M148.06 324.5h14.03M162.04 301.5h14.03M176.02 389.5h14.03M176.02 412.5h14.03M176.02 413.5h14.03M190 283.5h14.03M190 413.5h14.03M190 419.5h14.03M190 452.5h14.03M190 455.5h14.03M203.98 422.5h14.03M203.98 423.5h14.03M217.96 285.5h14.03M217.96 378.5h14.03M231.94 283.5h14.03M231.94 437.5h14.03M231.94 438.5h14.03M245.92 283.5h14.03M245.92 286.5h14.03M245.92 378.5h14.03M245.92 379.5h14.03M245.92 430.5h14.03M245.92 431.5h14.03M245.92 438.5h14.03" stroke="#fce3e3"/>
<path d="M64.18 389.5h14.03M78.16 396.5h14.03M78.16 397.5h14.03M92.14 381.5h14.03M92.14 382.5h14.03M92.14 383.5h14.03M92.14 410.5h14.03M92.14 419.5h14.03M92.14 426.5h14.03M106.12 378.5h14.03M106.12 381.5h14.03M106.12 384.5h14.03M106.12 403.5h14.03M106.12 408.5h14.03M120.1 384.5h14.03M120.1 403.5h14.03M120.1 409.5h14.03M120.1 417.5h14.03M162.04 324.5h14.03M176.02 286.5h14.03M176.02 419.5h14.03M176.02 420.5h14.03M176.02 448.5h14.03M176.02 449.5h14.03M176.02 450.5h14.03M190 282.5h14.03M190 420.5h14.03M190 424.5h14.03M190 425.5h14.03M203.98 454.5h14.03M217.96 286.5h14.03M217.96 404.5h14.03M231.94 286.5h14.03M231.94 434.5h14.03M231.94 442.5h14.03M245.92 377.5h14.03M245.92 437.5h14.03M245.92 442.5h14.03" stroke="#fce6e6"/>
<path d="M64.18 403.5h14.03M120.1 274.5h14.03M120.1 275.5h14.03M148.06 378.5h14.03M148.06 396.5h14.03M162.04 383.5h14.03M162.04 428.5h14.03" stroke="#63abe3"/>
<path d="M64.18 441.5h14.03M106.12 274.5h14.03M134.08 384.5h14.03M134.08 396.5h14.03M134.08 429.5h14.03M148.06 391.5h14.03M148.06 428.5h14.03M148.06 430.5h14.03M162.04 376.5h14.03M162.04 391.5h14.03M162.04 396.5h14.03M162.04 440.5h14.03M162.04 451.5h14.03" stroke="#6db0e5"/>
<path d="M64.18 444.5h14.03M78.16 441.5h14.03M134.08 380.5h14.03M134.08 430.5h14.03M134.08 434.5h14.03M134.08 451.5h14.03M148.06 376.5h14.03M148.06 429.5h14.03M148.06 451.5h14.03M162.04 430.5h14.03M162.04 432.5h14.03" stroke="#76b6e6"/>
<path d="M64.18 445.5h14.03M78.16 410.5h14.03M92.14 273.6h14.03M92.14 302.5h14.03M120.1 273.6h14.03M134.08 382.5h14.03M134.08 393.5h14.03M134.08 394.5h14.03M134.08 433.5h14.03M134.08 438.5h14.03M134.08 450.5h14.03M148.06 380.5h14.03M148.06 382.5h14.03M148.06 393.5h14.03M148.06 394.5h14.03M148.06 433.5h14.03M148.06 438.5h14.03M148.06 439.5h14.03M162.04 433.5h14.03M162.04 449.5h14.03M162.04 450.5h14.03" stroke="#80bbe8"/>
<path d="M78.16 319.5h14.03M78.16 321.5h14.03" stroke="#ec6666"/>
<path d="M78.16 325.5h14.03M106.12 464.5h14.03" stroke="#eb5e5e"/>
<path d="M78.16 374.5h14.03M92.14 327.5h14.03M106.12 327.5h14.03M106.12 328.5h14.03M120.1 327.5h14.03M134.08 318.5h14.03M176.02 378.5h14.03M176.02 385.5h14.03M176.02 441.5h14.03M190 284.5h14.03M190 385.5h14.03M190 417.5h14.03M203.98 413.5h14.03M203.98 415.5h14.03M203.98 424.5h14.03M203.98 429.5h14.03M203.98 431.5h14.03M217.96 383.5h14.03M217.96 408.5h14.03M217.96 433.5h14.03M217.96 435.5h14.03M217.96 436.5h14.03M217.96 439.5h14.03M217.96 444.5h14.03M217.96 449.5h14.03M231.94 287.5h14.03M231.94 380.5h14.03M231.94 407.5h14.03M231.94 448.5h14.03M231.94 450.5h14.03M245.92 380.5h14.03M245.92 433.5h14.03M245.92 435.5h14.03M245.92 444.5h14.03" stroke="#f9d0d0"/>
<path d="M78.16 402.5h14.03M92.14 311.5h14.03M92.14 328.5h14.03M162.04 409.5h14.03M176.02 372.5h14.03M176.02 417.5h14.03M176.02 445.5h14.03M190 378.5h14.03M190 383.5h14.03M203.98 412.5h14.03M203.98 420.5h14.03M203.98 438.5h14.03M217.96 393.5h14.03M217.96 448.5h14.03M217.96 451.5h14.03M231.94 382.5h14.03M231.94 383.5h14.03M231.94 408.5h14.03M231.94 435.5h14.03M231.94 441.5h14.03M231.94 449.5h14.03M245.92 407.5h14.03M245.92 408.5h14.03M245.92 432.5h14.03M245.92 436.5h14.03M245.92 449.5h14.03" stroke="#f9cdcd"/>
<path d="M78.16 406.5h14.03M106.12 286.5h14.03" stroke="#469bde"/>
<path d="M78.16 444.5h14.03M92.14 275.5h14.03M106.12 284.5h14.03M106.12 285.5h14.03M120.1 286.5h14.03M134.08 376.5h14.03M134.08 391.5h14.03M134.08 428.5h14.03M134.08 432.5h14.03M134.08 440.5h14.03M148.06 395.5h14.03M148.06 450.5h14.03M162.04 382.5h14.03" stroke="#72b3e6"/>
<path d="M92.14 313.5h14.03M134.08 409.5h14.03M148.06 409.5h14.03M148.06 427.5h14.03M162.04 319.5h14.03M162.04 320.5h14.03M162.04 408.5h14.03M176.02 444.5h14.03M190 372.5h14.03M190 411.5h14.03M203.98 436.5h14.03M217.96 293.5h14.03M217.96 376.5h14.03M217.96 407.5h14.03M217.96 441.5h14.03M231.94 376.5h14.03M231.94 388.5h14.03M231.94 432.5h14.03M231.94 433.5h14.03M245.92 387.5h14.03M245.92 389.5h14.03M245.92 393.5h14.03M245.92 440.5h14.03M245.92 447.5h14.03" stroke="#f8c7c7"/>
<path d="M92.14 413.5h14.03M106.12 414.5h14.03M120.1 315.5h14.03M120.1 414.5h14.03M134.08 273.6h14.03M134.08 286.5h14.03M134.08 317.5h14.03M148.06 285.5h14.03M148.06 323.5h14.03M162.04 286.5h14.03M176.02 284.5h14.03M176.02 380.5h14.03M176.02 384.5h14.03M176.02 421.5h14.03M190 286.5h14.03M190 379.5h14.03M190 384.5h14.03M190 415.5h14.03M190 445.5h14.03M190 446.5h14.03M203.98 425.5h14.03M203.98 426.5h14.03M203.98 430.5h14.03M217.96 288.5h14.03M217.96 379.5h14.03M217.96 414.5h14.03M217.96 431.5h14.03M217.96 445.5h14.03M231.94 288.5h14.03M231.94 377.5h14.03M231.94 403.5h14.03M231.94 444.5h14.03M231.94 446.5h14.03M245.92 285.5h14.03M245.92 383.5h14.03M245.92 403.5h14.03" stroke="#fad6d6"/>
<path d="M134.08 383.5h14.03M134.08 395.5h14.03M148.06 383.5h14.03M148.06 384.5h14.03M162.04 395.5h14.03M162.04 429.5h14.03" stroke="#68aee4"/>
<path d="M148.06 377.5h14.03M162.04 377.5h14.03" stroke="#59a6e1"/>
</g>
<line x1="50.7" y1="270.5" x2="131.7" y2="270.5" stroke="#333" stroke-width="0.9"/>
<text x="90.2" y="268.4" font-size="8.6" text-anchor="middle" fill="#000" stroke="#000">SC5314</text>
<line x1="134.7" y1="270.5" x2="173.6" y2="270.5" stroke="#333" stroke-width="0.9"/>
<text x="154.15" y="268.4" font-size="8.6" text-anchor="middle" fill="#000" stroke="#000">SN250</text>
<line x1="177" y1="270.5" x2="216.3" y2="270.5" stroke="#333" stroke-width="0.9"/>
<text x="196.65" y="268.4" font-size="8.6" text-anchor="middle" fill="#000" stroke="#000" font-style="italic">dal81Δ/Δ</text>
<line x1="219.6" y1="270.5" x2="259" y2="270.5" stroke="#333" stroke-width="0.9"/>
<text x="239.3" y="268.4" font-size="8.6" text-anchor="middle" fill="#000" stroke="#000" font-style="italic">stp2Δ/Δ</text>
<line x1="50" y1="477.4" x2="88.7" y2="477.4" stroke="#333" stroke-width="0.9"/>
<line x1="91" y1="477.4" x2="130" y2="477.4" stroke="#333" stroke-width="0.9"/>
<line x1="135" y1="477.4" x2="259" y2="477.4" stroke="#333" stroke-width="0.9"/>
<text x="66.9" y="487.7" font-size="8.6" text-anchor="middle" fill="#000" stroke="#000">YC</text>
<text x="110.5" y="487.7" font-size="8.6" text-anchor="middle" fill="#000" stroke="#000">SD</text>
<text x="187.4" y="487.7" font-size="8.6" text-anchor="middle" fill="#000" stroke="#000">YC</text>
<defs><linearGradient id="zg" x1="0" y1="0" x2="0" y2="1"><stop offset="0" stop-color="#e31a1c"/><stop offset="0.25" stop-color="#f07f7f"/><stop offset="0.5" stop-color="#ffffff"/><stop offset="0.75" stop-color="#3c96dc"/><stop offset="1" stop-color="#1a28b0"/></linearGradient></defs>
<rect x="267.3" y="331.7" width="11.4" height="55.4" fill="url(#zg)"/>
<line x1="275.9" y1="334.2" x2="278.7" y2="334.2" stroke="#ffffff" stroke-width="0.6"/>
<text x="281" y="337.3" font-size="8.6" text-anchor="start" fill="#000" stroke="#000">4</text>
<line x1="275.9" y1="347.1" x2="278.7" y2="347.1" stroke="#ffffff" stroke-width="0.6"/>
<text x="281" y="350.2" font-size="8.6" text-anchor="start" fill="#000" stroke="#000">2</text>
<line x1="275.9" y1="360.1" x2="278.7" y2="360.1" stroke="#ffffff" stroke-width="0.6"/>
<text x="281" y="363.2" font-size="8.6" text-anchor="start" fill="#000" stroke="#000">0</text>
<line x1="275.9" y1="372.8" x2="278.7" y2="372.8" stroke="#ffffff" stroke-width="0.6"/>
<text x="281" y="375.9" font-size="8.6" text-anchor="start" fill="#000" stroke="#000">−2</text>
<line x1="275.9" y1="385.5" x2="278.7" y2="385.5" stroke="#ffffff" stroke-width="0.6"/>
<text x="281" y="388.6" font-size="8.6" text-anchor="start" fill="#000" stroke="#000">−4</text>
<text x="267.5" y="327.4" font-size="8.6" text-anchor="start" fill="#000" stroke="#000">z−score</text>
<circle cx="155" cy="604" r="56.9" fill="#f3c9cb" fill-opacity="0.85" stroke="none"/>
<circle cx="169.1" cy="604" r="57" fill="#cfe7db" fill-opacity="1" stroke="none"/>
<defs><clipPath id="cr"><circle cx="155" cy="604" r="56.9"/></clipPath></defs>
<circle cx="169.1" cy="604" r="57" fill="#d6d7cc" clip-path="url(#cr)"/>
<circle cx="155" cy="604" r="56.9" fill="none" stroke="#ee8a8c" stroke-width="1"/>
<circle cx="169.1" cy="604" r="57" fill="none" stroke="#8fd0b0" stroke-width="1"/>
<text x="104.2" y="604" font-size="8.6" text-anchor="middle" fill="#000" stroke="#000">160</text>
<text x="159" y="604" font-size="8.6" text-anchor="middle" fill="#000" stroke="#000">1120</text>
<text x="219.2" y="604" font-size="8.6" text-anchor="middle" fill="#000" stroke="#000">157</text>
<text x="90.5" y="551.8" font-size="8.85" text-anchor="middle" fill="#000" stroke="#000">Dal81-dependent</text>
<text x="225.1" y="551.8" font-size="8.85" text-anchor="middle" fill="#000" stroke="#000">Stp2-dependent</text>
<line x1="106" y1="575.8" x2="98.9" y2="563.6" stroke="#000" stroke-width="2.2"/>
<path d="M93.8 554.2L104.7 563.4L98.6 564L95.3 568.8Z" fill="#000"/>
<line x1="219.4" y1="576.3" x2="226.2" y2="564.2" stroke="#000" stroke-width="2.2"/>
<path d="M232.6 555.5L229.5 568.8L226 564.5L221 563.8Z" fill="#000"/>
<rect x="364.2" y="-0.5" width="8.43" height="11.25" fill="#f5a3be" stroke="#d8d8d8" stroke-width="0.35"/>
<rect x="372.63" y="-0.5" width="8.43" height="11.25" fill="#f1e5e9" stroke="#d8d8d8" stroke-width="0.35"/>
<rect x="381.06" y="-0.5" width="8.43" height="11.25" fill="#ffffff" stroke="#d8d8d8" stroke-width="0.35"/>
<rect x="389.49" y="-0.5" width="8.43" height="11.25" fill="#ffffff" stroke="#d8d8d8" stroke-width="0.35"/>
<rect x="364.2" y="10.75" width="8.43" height="11.25" fill="#ffffff" stroke="#d8d8d8" stroke-width="0.35"/>
<rect x="372.63" y="10.75" width="8.43" height="11.25" fill="#ffffff" stroke="#d8d8d8" stroke-width="0.35"/>
<rect x="381.06" y="10.75" width="8.43" height="11.25" fill="#f6cbd7" stroke="#d8d8d8" stroke-width="0.35"/>
<rect x="389.49" y="10.75" width="8.43" height="11.25" fill="#ffffff" stroke="#d8d8d8" stroke-width="0.35"/>
<rect x="364.2" y="22" width="8.43" height="11.25" fill="#f6cbd7" stroke="#d8d8d8" stroke-width="0.35"/>
<rect x="372.63" y="22" width="8.43" height="11.25" fill="#f6cbd7" stroke="#d8d8d8" stroke-width="0.35"/>
<rect x="381.06" y="22" width="8.43" height="11.25" fill="#d673a9" stroke="#d8d8d8" stroke-width="0.35"/>
<rect x="389.49" y="22" width="8.43" height="11.25" fill="#f6cbd7" stroke="#d8d8d8" stroke-width="0.35"/>
<rect x="364.2" y="33.25" width="8.43" height="11.25" fill="#ffffff" stroke="#d8d8d8" stroke-width="0.35"/>
<rect x="372.63" y="33.25" width="8.43" height="11.25" fill="#ffffff" stroke="#d8d8d8" stroke-width="0.35"/>
<rect x="381.06" y="33.25" width="8.43" height="11.25" fill="#f7b5ca" stroke="#d8d8d8" stroke-width="0.35"/>
<rect x="389.49" y="33.25" width="8.43" height="11.25" fill="#ffffff" stroke="#d8d8d8" stroke-width="0.35"/>
<rect x="364.2" y="44.5" width="8.43" height="11.25" fill="#ffffff" stroke="#d8d8d8" stroke-width="0.35"/>
<rect x="372.63" y="44.5" width="8.43" height="11.25" fill="#ffffff" stroke="#d8d8d8" stroke-width="0.35"/>
<rect x="381.06" y="44.5" width="8.43" height="11.25" fill="#d673a9" stroke="#d8d8d8" stroke-width="0.35"/>
<rect x="389.49" y="44.5" width="8.43" height="11.25" fill="#ffffff" stroke="#d8d8d8" stroke-width="0.35"/>
<rect x="364.2" y="55.75" width="8.43" height="11.25" fill="#ffffff" stroke="#d8d8d8" stroke-width="0.35"/>
<rect x="372.63" y="55.75" width="8.43" height="11.25" fill="#ffffff" stroke="#d8d8d8" stroke-width="0.35"/>
<rect x="381.06" y="55.75" width="8.43" height="11.25" fill="#d673a9" stroke="#d8d8d8" stroke-width="0.35"/>
<rect x="389.49" y="55.75" width="8.43" height="11.25" fill="#ffffff" stroke="#d8d8d8" stroke-width="0.35"/>
<rect x="364.2" y="67" width="8.43" height="11.25" fill="#f6cbd7" stroke="#d8d8d8" stroke-width="0.35"/>
<rect x="372.63" y="67" width="8.43" height="11.25" fill="#f1e5e9" stroke="#d8d8d8" stroke-width="0.35"/>
<rect x="381.06" y="67" width="8.43" height="11.25" fill="#d673a9" stroke="#d8d8d8" stroke-width="0.35"/>
<rect x="389.49" y="67" width="8.43" height="11.25" fill="#f1e5e9" stroke="#d8d8d8" stroke-width="0.35"/>
<rect x="364.2" y="78.25" width="8.43" height="11.25" fill="#f6cbd7" stroke="#d8d8d8" stroke-width="0.35"/>
<rect x="372.63" y="78.25" width="8.43" height="11.25" fill="#f1e5e9" stroke="#d8d8d8" stroke-width="0.35"/>
<rect x="381.06" y="78.25" width="8.43" height="11.25" fill="#d673a9" stroke="#d8d8d8" stroke-width="0.35"/>
<rect x="389.49" y="78.25" width="8.43" height="11.25" fill="#f1e5e9" stroke="#d8d8d8" stroke-width="0.35"/>
<rect x="364.2" y="89.5" width="8.43" height="11.25" fill="#ffffff" stroke="#d8d8d8" stroke-width="0.35"/>
<rect x="372.63" y="89.5" width="8.43" height="11.25" fill="#ffffff" stroke="#d8d8d8" stroke-width="0.35"/>
<rect x="381.06" y="89.5" width="8.43" height="11.25" fill="#f6cbd7" stroke="#d8d8d8" stroke-width="0.35"/>
<rect x="389.49" y="89.5" width="8.43" height="11.25" fill="#ffffff" stroke="#d8d8d8" stroke-width="0.35"/>
<rect x="364.2" y="100.75" width="8.43" height="11.25" fill="#f6cbd7" stroke="#d8d8d8" stroke-width="0.35"/>
<rect x="372.63" y="100.75" width="8.43" height="11.25" fill="#ffffff" stroke="#d8d8d8" stroke-width="0.35"/>
<rect x="381.06" y="100.75" width="8.43" height="11.25" fill="#f6cbd7" stroke="#d8d8d8" stroke-width="0.35"/>
<rect x="389.49" y="100.75" width="8.43" height="11.25" fill="#ffffff" stroke="#d8d8d8" stroke-width="0.35"/>
<rect x="364.2" y="112" width="8.43" height="11.25" fill="#ffffff" stroke="#d8d8d8" stroke-width="0.35"/>
<rect x="372.63" y="112" width="8.43" height="11.25" fill="#f5a3be" stroke="#d8d8d8" stroke-width="0.35"/>
<rect x="381.06" y="112" width="8.43" height="11.25" fill="#ffffff" stroke="#d8d8d8" stroke-width="0.35"/>
<rect x="389.49" y="112" width="8.43" height="11.25" fill="#f1e5e9" stroke="#d8d8d8" stroke-width="0.35"/>
<rect x="364.2" y="123.25" width="8.43" height="11.25" fill="#ffffff" stroke="#d8d8d8" stroke-width="0.35"/>
<rect x="372.63" y="123.25" width="8.43" height="11.25" fill="#f5a3be" stroke="#d8d8d8" stroke-width="0.35"/>
<rect x="381.06" y="123.25" width="8.43" height="11.25" fill="#ffffff" stroke="#d8d8d8" stroke-width="0.35"/>
<rect x="389.49" y="123.25" width="8.43" height="11.25" fill="#f1e5e9" stroke="#d8d8d8" stroke-width="0.35"/>
<rect x="364.2" y="134.5" width="8.43" height="11.25" fill="#ffffff" stroke="#d8d8d8" stroke-width="0.35"/>
<rect x="372.63" y="134.5" width="8.43" height="11.25" fill="#f5a3be" stroke="#d8d8d8" stroke-width="0.35"/>
<rect x="381.06" y="134.5" width="8.43" height="11.25" fill="#ffffff" stroke="#d8d8d8" stroke-width="0.35"/>
<rect x="389.49" y="134.5" width="8.43" height="11.25" fill="#f1e5e9" stroke="#d8d8d8" stroke-width="0.35"/>
<rect x="364.2" y="145.75" width="8.43" height="11.25" fill="#f6cbd7" stroke="#d8d8d8" stroke-width="0.35"/>
<rect x="372.63" y="145.75" width="8.43" height="11.25" fill="#ffffff" stroke="#d8d8d8" stroke-width="0.35"/>
<rect x="381.06" y="145.75" width="8.43" height="11.25" fill="#ffffff" stroke="#d8d8d8" stroke-width="0.35"/>
<rect x="389.49" y="145.75" width="8.43" height="11.25" fill="#ffffff" stroke="#d8d8d8" stroke-width="0.35"/>
<rect x="364.2" y="157" width="8.43" height="11.25" fill="#f5a3be" stroke="#d8d8d8" stroke-width="0.35"/>
<rect x="372.63" y="157" width="8.43" height="11.25" fill="#ffffff" stroke="#d8d8d8" stroke-width="0.35"/>
<rect x="381.06" y="157" width="8.43" height="11.25" fill="#ffffff" stroke="#d8d8d8" stroke-width="0.35"/>
<rect x="389.49" y="157" width="8.43" height="11.25" fill="#f1e5e9" stroke="#d8d8d8" stroke-width="0.35"/>
<rect x="364.2" y="168.25" width="8.43" height="11.25" fill="#f5a3be" stroke="#d8d8d8" stroke-width="0.35"/>
<rect x="372.63" y="168.25" width="8.43" height="11.25" fill="#f1e5e9" stroke="#d8d8d8" stroke-width="0.35"/>
<rect x="381.06" y="168.25" width="8.43" height="11.25" fill="#ffffff" stroke="#d8d8d8" stroke-width="0.35"/>
<rect x="389.49" y="168.25" width="8.43" height="11.25" fill="#ffffff" stroke="#d8d8d8" stroke-width="0.35"/>
<rect x="364.2" y="179.5" width="8.43" height="11.25" fill="#f6cbd7" stroke="#d8d8d8" stroke-width="0.35"/>
<rect x="372.63" y="179.5" width="8.43" height="11.25" fill="#f6cbd7" stroke="#d8d8d8" stroke-width="0.35"/>
<rect x="381.06" y="179.5" width="8.43" height="11.25" fill="#ffffff" stroke="#d8d8d8" stroke-width="0.35"/>
<rect x="389.49" y="179.5" width="8.43" height="11.25" fill="#ffffff" stroke="#d8d8d8" stroke-width="0.35"/>
<rect x="364.2" y="190.75" width="8.43" height="11.25" fill="#ffffff" stroke="#d8d8d8" stroke-width="0.35"/>
<rect x="372.63" y="190.75" width="8.43" height="11.25" fill="#f5a3be" stroke="#d8d8d8" stroke-width="0.35"/>
<rect x="381.06" y="190.75" width="8.43" height="11.25" fill="#ffffff" stroke="#d8d8d8" stroke-width="0.35"/>
<rect x="389.49" y="190.75" width="8.43" height="11.25" fill="#ffffff" stroke="#d8d8d8" stroke-width="0.35"/>
<rect x="364.2" y="202" width="8.43" height="11.25" fill="#ffffff" stroke="#d8d8d8" stroke-width="0.35"/>
<rect x="372.63" y="202" width="8.43" height="11.25" fill="#f7b5ca" stroke="#d8d8d8" stroke-width="0.35"/>
<rect x="381.06" y="202" width="8.43" height="11.25" fill="#ffffff" stroke="#d8d8d8" stroke-width="0.35"/>
<rect x="389.49" y="202" width="8.43" height="11.25" fill="#f1e5e9" stroke="#d8d8d8" stroke-width="0.35"/>
<rect x="364.2" y="213.25" width="8.43" height="11.25" fill="#e282b1" stroke="#d8d8d8" stroke-width="0.35"/>
<rect x="372.63" y="213.25" width="8.43" height="11.25" fill="#f5a3be" stroke="#d8d8d8" stroke-width="0.35"/>
<rect x="381.06" y="213.25" width="8.43" height="11.25" fill="#ffffff" stroke="#d8d8d8" stroke-width="0.35"/>
<rect x="389.49" y="213.25" width="8.43" height="11.25" fill="#ffffff" stroke="#d8d8d8" stroke-width="0.35"/>
<rect x="364.2" y="224.5" width="8.43" height="11.25" fill="#ee90b3" stroke="#d8d8d8" stroke-width="0.35"/>
<rect x="372.63" y="224.5" width="8.43" height="11.25" fill="#f1e5e9" stroke="#d8d8d8" stroke-width="0.35"/>
<rect x="381.06" y="224.5" width="8.43" height="11.25" fill="#ffffff" stroke="#d8d8d8" stroke-width="0.35"/>
<rect x="389.49" y="224.5" width="8.43" height="11.25" fill="#ffffff" stroke="#d8d8d8" stroke-width="0.35"/>
<rect x="364.2" y="235.75" width="8.43" height="11.25" fill="#ffffff" stroke="#d8d8d8" stroke-width="0.35"/>
<rect x="372.63" y="235.75" width="8.43" height="11.25" fill="#f5a3be" stroke="#d8d8d8" stroke-width="0.35"/>
<rect x="381.06" y="235.75" width="8.43" height="11.25" fill="#f5a3be" stroke="#d8d8d8" stroke-width="0.35"/>
<rect x="389.49" y="235.75" width="8.43" height="11.25" fill="#ee90b3" stroke="#d8d8d8" stroke-width="0.35"/>
<rect x="364.2" y="247" width="8.43" height="11.25" fill="#ffffff" stroke="#d8d8d8" stroke-width="0.35"/>
<rect x="372.63" y="247" width="8.43" height="11.25" fill="#ffffff" stroke="#d8d8d8" stroke-width="0.35"/>
<rect x="381.06" y="247" width="8.43" height="11.25" fill="#f1e5e9" stroke="#d8d8d8" stroke-width="0.35"/>
<rect x="389.49" y="247" width="8.43" height="11.25" fill="#ffffff" stroke="#d8d8d8" stroke-width="0.35"/>
<rect x="364.2" y="258.25" width="8.43" height="11.25" fill="#f5a3be" stroke="#d8d8d8" stroke-width="0.35"/>
<rect x="372.63" y="258.25" width="8.43" height="11.25" fill="#f7b5ca" stroke="#d8d8d8" stroke-width="0.35"/>
<rect x="381.06" y="258.25" width="8.43" height="11.25" fill="#f7b5ca" stroke="#d8d8d8" stroke-width="0.35"/>
<rect x="389.49" y="258.25" width="8.43" height="11.25" fill="#f7b5ca" stroke="#d8d8d8" stroke-width="0.35"/>
<rect x="364.2" y="269.5" width="8.43" height="11.25" fill="#f6cbd7" stroke="#d8d8d8" stroke-width="0.35"/>
<rect x="372.63" y="269.5" width="8.43" height="11.25" fill="#f7b5ca" stroke="#d8d8d8" stroke-width="0.35"/>
<rect x="381.06" y="269.5" width="8.43" height="11.25" fill="#f5a3be" stroke="#d8d8d8" stroke-width="0.35"/>
<rect x="389.49" y="269.5" width="8.43" height="11.25" fill="#f7b5ca" stroke="#d8d8d8" stroke-width="0.35"/>
<rect x="364.2" y="280.75" width="8.43" height="11.25" fill="#f6cbd7" stroke="#d8d8d8" stroke-width="0.35"/>
<rect x="372.63" y="280.75" width="8.43" height="11.25" fill="#f7b5ca" stroke="#d8d8d8" stroke-width="0.35"/>
<rect x="381.06" y="280.75" width="8.43" height="11.25" fill="#f5a3be" stroke="#d8d8d8" stroke-width="0.35"/>
<rect x="389.49" y="280.75" width="8.43" height="11.25" fill="#f7b5ca" stroke="#d8d8d8" stroke-width="0.35"/>
<rect x="364.2" y="292" width="8.43" height="11.25" fill="#d673a9" stroke="#d8d8d8" stroke-width="0.35"/>
<rect x="372.63" y="292" width="8.43" height="11.25" fill="#b24d9d" stroke="#d8d8d8" stroke-width="0.35"/>
<rect x="381.06" y="292" width="8.43" height="11.25" fill="#e282b1" stroke="#d8d8d8" stroke-width="0.35"/>
<rect x="389.49" y="292" width="8.43" height="11.25" fill="#d673a9" stroke="#d8d8d8" stroke-width="0.35"/>
<rect x="364.2" y="303.25" width="8.43" height="11.25" fill="#d673a9" stroke="#d8d8d8" stroke-width="0.35"/>
<rect x="372.63" y="303.25" width="8.43" height="11.25" fill="#b24d9d" stroke="#d8d8d8" stroke-width="0.35"/>
<rect x="381.06" y="303.25" width="8.43" height="11.25" fill="#e282b1" stroke="#d8d8d8" stroke-width="0.35"/>
<rect x="389.49" y="303.25" width="8.43" height="11.25" fill="#d673a9" stroke="#d8d8d8" stroke-width="0.35"/>
<rect x="364.2" y="314.5" width="8.43" height="11.25" fill="#d673a9" stroke="#d8d8d8" stroke-width="0.35"/>
<rect x="372.63" y="314.5" width="8.43" height="11.25" fill="#b24d9d" stroke="#d8d8d8" stroke-width="0.35"/>
<rect x="381.06" y="314.5" width="8.43" height="11.25" fill="#e282b1" stroke="#d8d8d8" stroke-width="0.35"/>
<rect x="389.49" y="314.5" width="8.43" height="11.25" fill="#d673a9" stroke="#d8d8d8" stroke-width="0.35"/>
<rect x="364.2" y="325.75" width="8.43" height="11.25" fill="#c862a3" stroke="#d8d8d8" stroke-width="0.35"/>
<rect x="372.63" y="325.75" width="8.43" height="11.25" fill="#d673a9" stroke="#d8d8d8" stroke-width="0.35"/>
<rect x="381.06" y="325.75" width="8.43" height="11.25" fill="#ee90b3" stroke="#d8d8d8" stroke-width="0.35"/>
<rect x="389.49" y="325.75" width="8.43" height="11.25" fill="#e282b1" stroke="#d8d8d8" stroke-width="0.35"/>
<rect x="364.2" y="337" width="8.43" height="11.25" fill="#a33b95" stroke="#d8d8d8" stroke-width="0.35"/>
<rect x="372.63" y="337" width="8.43" height="11.25" fill="#b24d9d" stroke="#d8d8d8" stroke-width="0.35"/>
<rect x="381.06" y="337" width="8.43" height="11.25" fill="#d673a9" stroke="#d8d8d8" stroke-width="0.35"/>
<rect x="389.49" y="337" width="8.43" height="11.25" fill="#c862a3" stroke="#d8d8d8" stroke-width="0.35"/>
<rect x="364.2" y="348.25" width="8.43" height="11.25" fill="#a33b95" stroke="#d8d8d8" stroke-width="0.35"/>
<rect x="372.63" y="348.25" width="8.43" height="11.25" fill="#b24d9d" stroke="#d8d8d8" stroke-width="0.35"/>
<rect x="381.06" y="348.25" width="8.43" height="11.25" fill="#d673a9" stroke="#d8d8d8" stroke-width="0.35"/>
<rect x="389.49" y="348.25" width="8.43" height="11.25" fill="#c862a3" stroke="#d8d8d8" stroke-width="0.35"/>
<rect x="364.2" y="359.5" width="8.43" height="11.25" fill="#f6cbd7" stroke="#d8d8d8" stroke-width="0.35"/>
<rect x="372.63" y="359.5" width="8.43" height="11.25" fill="#f1e5e9" stroke="#d8d8d8" stroke-width="0.35"/>
<rect x="381.06" y="359.5" width="8.43" height="11.25" fill="#ffffff" stroke="#d8d8d8" stroke-width="0.35"/>
<rect x="389.49" y="359.5" width="8.43" height="11.25" fill="#ffffff" stroke="#d8d8d8" stroke-width="0.35"/>
<rect x="364.2" y="370.75" width="8.43" height="11.25" fill="#ffffff" stroke="#d8d8d8" stroke-width="0.35"/>
<rect x="372.63" y="370.75" width="8.43" height="11.25" fill="#f5a3be" stroke="#d8d8d8" stroke-width="0.35"/>
<rect x="381.06" y="370.75" width="8.43" height="11.25" fill="#f6cbd7" stroke="#d8d8d8" stroke-width="0.35"/>
<rect x="389.49" y="370.75" width="8.43" height="11.25" fill="#f5a3be" stroke="#d8d8d8" stroke-width="0.35"/>
<rect x="364.2" y="382" width="8.43" height="11.25" fill="#f6cbd7" stroke="#d8d8d8" stroke-width="0.35"/>
<rect x="372.63" y="382" width="8.43" height="11.25" fill="#f6cbd7" stroke="#d8d8d8" stroke-width="0.35"/>
<rect x="381.06" y="382" width="8.43" height="11.25" fill="#ffffff" stroke="#d8d8d8" stroke-width="0.35"/>
<rect x="389.49" y="382" width="8.43" height="11.25" fill="#ffffff" stroke="#d8d8d8" stroke-width="0.35"/>
<rect x="364.2" y="393.25" width="8.43" height="11.25" fill="#f1e5e9" stroke="#d8d8d8" stroke-width="0.35"/>
<rect x="372.63" y="393.25" width="8.43" height="11.25" fill="#ffffff" stroke="#d8d8d8" stroke-width="0.35"/>
<rect x="381.06" y="393.25" width="8.43" height="11.25" fill="#ffffff" stroke="#d8d8d8" stroke-width="0.35"/>
<rect x="389.49" y="393.25" width="8.43" height="11.25" fill="#ffffff" stroke="#d8d8d8" stroke-width="0.35"/>
<rect x="364.2" y="404.5" width="8.43" height="11.25" fill="#f1e5e9" stroke="#d8d8d8" stroke-width="0.35"/>
<rect x="372.63" y="404.5" width="8.43" height="11.25" fill="#f7b5ca" stroke="#d8d8d8" stroke-width="0.35"/>
<rect x="381.06" y="404.5" width="8.43" height="11.25" fill="#f5a3be" stroke="#d8d8d8" stroke-width="0.35"/>
<rect x="389.49" y="404.5" width="8.43" height="11.25" fill="#f5a3be" stroke="#d8d8d8" stroke-width="0.35"/>
<rect x="364.2" y="415.75" width="8.43" height="11.25" fill="#ee90b3" stroke="#d8d8d8" stroke-width="0.35"/>
<rect x="372.63" y="415.75" width="8.43" height="11.25" fill="#f7b5ca" stroke="#d8d8d8" stroke-width="0.35"/>
<rect x="381.06" y="415.75" width="8.43" height="11.25" fill="#f5a3be" stroke="#d8d8d8" stroke-width="0.35"/>
<rect x="389.49" y="415.75" width="8.43" height="11.25" fill="#f7b5ca" stroke="#d8d8d8" stroke-width="0.35"/>
<rect x="364.2" y="427" width="8.43" height="11.25" fill="#f6cbd7" stroke="#d8d8d8" stroke-width="0.35"/>
<rect x="372.63" y="427" width="8.43" height="11.25" fill="#d673a9" stroke="#d8d8d8" stroke-width="0.35"/>
<rect x="381.06" y="427" width="8.43" height="11.25" fill="#f5a3be" stroke="#d8d8d8" stroke-width="0.35"/>
<rect x="389.49" y="427" width="8.43" height="11.25" fill="#ee90b3" stroke="#d8d8d8" stroke-width="0.35"/>
<rect x="364.2" y="438.25" width="8.43" height="11.25" fill="#ffffff" stroke="#d8d8d8" stroke-width="0.35"/>
<rect x="372.63" y="438.25" width="8.43" height="11.25" fill="#f1e5e9" stroke="#d8d8d8" stroke-width="0.35"/>
<rect x="381.06" y="438.25" width="8.43" height="11.25" fill="#ffffff" stroke="#d8d8d8" stroke-width="0.35"/>
<rect x="389.49" y="438.25" width="8.43" height="11.25" fill="#ffffff" stroke="#d8d8d8" stroke-width="0.35"/>
<rect x="364.2" y="449.5" width="8.43" height="11.25" fill="#ffffff" stroke="#d8d8d8" stroke-width="0.35"/>
<rect x="372.63" y="449.5" width="8.43" height="11.25" fill="#f1e5e9" stroke="#d8d8d8" stroke-width="0.35"/>
<rect x="381.06" y="449.5" width="8.43" height="11.25" fill="#ffffff" stroke="#d8d8d8" stroke-width="0.35"/>
<rect x="389.49" y="449.5" width="8.43" height="11.25" fill="#ffffff" stroke="#d8d8d8" stroke-width="0.35"/>
<rect x="364.2" y="460.75" width="8.43" height="11.25" fill="#ffffff" stroke="#d8d8d8" stroke-width="0.35"/>
<rect x="372.63" y="460.75" width="8.43" height="11.25" fill="#f6cbd7" stroke="#d8d8d8" stroke-width="0.35"/>
<rect x="381.06" y="460.75" width="8.43" height="11.25" fill="#f6cbd7" stroke="#d8d8d8" stroke-width="0.35"/>
<rect x="389.49" y="460.75" width="8.43" height="11.25" fill="#f7b5ca" stroke="#d8d8d8" stroke-width="0.35"/>
<rect x="364.2" y="472" width="8.43" height="11.25" fill="#ffffff" stroke="#d8d8d8" stroke-width="0.35"/>
<rect x="372.63" y="472" width="8.43" height="11.25" fill="#f1e5e9" stroke="#d8d8d8" stroke-width="0.35"/>
<rect x="381.06" y="472" width="8.43" height="11.25" fill="#ffffff" stroke="#d8d8d8" stroke-width="0.35"/>
<rect x="389.49" y="472" width="8.43" height="11.25" fill="#f6cbd7" stroke="#d8d8d8" stroke-width="0.35"/>
<rect x="364.2" y="483.25" width="8.43" height="11.25" fill="#f5a3be" stroke="#d8d8d8" stroke-width="0.35"/>
<rect x="372.63" y="483.25" width="8.43" height="11.25" fill="#ee90b3" stroke="#d8d8d8" stroke-width="0.35"/>
<rect x="381.06" y="483.25" width="8.43" height="11.25" fill="#ee90b3" stroke="#d8d8d8" stroke-width="0.35"/>
<rect x="389.49" y="483.25" width="8.43" height="11.25" fill="#ee90b3" stroke="#d8d8d8" stroke-width="0.35"/>
<rect x="364.2" y="494.5" width="8.43" height="11.25" fill="#f5a3be" stroke="#d8d8d8" stroke-width="0.35"/>
<rect x="372.63" y="494.5" width="8.43" height="11.25" fill="#f5a3be" stroke="#d8d8d8" stroke-width="0.35"/>
<rect x="381.06" y="494.5" width="8.43" height="11.25" fill="#f6cbd7" stroke="#d8d8d8" stroke-width="0.35"/>
<rect x="389.49" y="494.5" width="8.43" height="11.25" fill="#f5a3be" stroke="#d8d8d8" stroke-width="0.35"/>
<rect x="364.2" y="505.75" width="8.43" height="11.25" fill="#f5a3be" stroke="#d8d8d8" stroke-width="0.35"/>
<rect x="372.63" y="505.75" width="8.43" height="11.25" fill="#f6cbd7" stroke="#d8d8d8" stroke-width="0.35"/>
<rect x="381.06" y="505.75" width="8.43" height="11.25" fill="#f1e5e9" stroke="#d8d8d8" stroke-width="0.35"/>
<rect x="389.49" y="505.75" width="8.43" height="11.25" fill="#f6cbd7" stroke="#d8d8d8" stroke-width="0.35"/>
<rect x="364.2" y="517" width="8.43" height="11.25" fill="#f7b5ca" stroke="#d8d8d8" stroke-width="0.35"/>
<rect x="372.63" y="517" width="8.43" height="11.25" fill="#ffffff" stroke="#d8d8d8" stroke-width="0.35"/>
<rect x="381.06" y="517" width="8.43" height="11.25" fill="#ffffff" stroke="#d8d8d8" stroke-width="0.35"/>
<rect x="389.49" y="517" width="8.43" height="11.25" fill="#ffffff" stroke="#d8d8d8" stroke-width="0.35"/>
<rect x="364.2" y="528.25" width="8.43" height="11.25" fill="#871689" stroke="#d8d8d8" stroke-width="0.35"/>
<rect x="372.63" y="528.25" width="8.43" height="11.25" fill="#7c057d" stroke="#d8d8d8" stroke-width="0.35"/>
<rect x="381.06" y="528.25" width="8.43" height="11.25" fill="#871689" stroke="#d8d8d8" stroke-width="0.35"/>
<rect x="389.49" y="528.25" width="8.43" height="11.25" fill="#7c057d" stroke="#d8d8d8" stroke-width="0.35"/>
<rect x="364.2" y="539.5" width="8.43" height="11.25" fill="#a33b95" stroke="#d8d8d8" stroke-width="0.35"/>
<rect x="372.63" y="539.5" width="8.43" height="11.25" fill="#b24d9d" stroke="#d8d8d8" stroke-width="0.35"/>
<rect x="381.06" y="539.5" width="8.43" height="11.25" fill="#b24d9d" stroke="#d8d8d8" stroke-width="0.35"/>
<rect x="389.49" y="539.5" width="8.43" height="11.25" fill="#a33b95" stroke="#d8d8d8" stroke-width="0.35"/>
<rect x="364.2" y="550.75" width="8.43" height="11.25" fill="#ee90b3" stroke="#d8d8d8" stroke-width="0.35"/>
<rect x="372.63" y="550.75" width="8.43" height="11.25" fill="#b24d9d" stroke="#d8d8d8" stroke-width="0.35"/>
<rect x="381.06" y="550.75" width="8.43" height="11.25" fill="#d673a9" stroke="#d8d8d8" stroke-width="0.35"/>
<rect x="389.49" y="550.75" width="8.43" height="11.25" fill="#c862a3" stroke="#d8d8d8" stroke-width="0.35"/>
<rect x="364.2" y="562" width="8.43" height="11.25" fill="#a33b95" stroke="#d8d8d8" stroke-width="0.35"/>
<rect x="372.63" y="562" width="8.43" height="11.25" fill="#871689" stroke="#d8d8d8" stroke-width="0.35"/>
<rect x="381.06" y="562" width="8.43" height="11.25" fill="#b24d9d" stroke="#d8d8d8" stroke-width="0.35"/>
<rect x="389.49" y="562" width="8.43" height="11.25" fill="#a33b95" stroke="#d8d8d8" stroke-width="0.35"/>
<rect x="364.2" y="573.25" width="8.43" height="11.25" fill="#f4d7df" stroke="#d8d8d8" stroke-width="0.35"/>
<rect x="372.63" y="573.25" width="8.43" height="11.25" fill="#ffffff" stroke="#d8d8d8" stroke-width="0.35"/>
<rect x="381.06" y="573.25" width="8.43" height="11.25" fill="#ffffff" stroke="#d8d8d8" stroke-width="0.35"/>
<rect x="389.49" y="573.25" width="8.43" height="11.25" fill="#ffffff" stroke="#d8d8d8" stroke-width="0.35"/>
<rect x="364.2" y="584.5" width="8.43" height="11.25" fill="#f5a3be" stroke="#d8d8d8" stroke-width="0.35"/>
<rect x="372.63" y="584.5" width="8.43" height="11.25" fill="#f6cbd7" stroke="#d8d8d8" stroke-width="0.35"/>
<rect x="381.06" y="584.5" width="8.43" height="11.25" fill="#ffffff" stroke="#d8d8d8" stroke-width="0.35"/>
<rect x="389.49" y="584.5" width="8.43" height="11.25" fill="#f1e5e9" stroke="#d8d8d8" stroke-width="0.35"/>
<rect x="364.2" y="595.75" width="8.43" height="11.25" fill="#f5a3be" stroke="#d8d8d8" stroke-width="0.35"/>
<rect x="372.63" y="595.75" width="8.43" height="11.25" fill="#f6cbd7" stroke="#d8d8d8" stroke-width="0.35"/>
<rect x="381.06" y="595.75" width="8.43" height="11.25" fill="#ffffff" stroke="#d8d8d8" stroke-width="0.35"/>
<rect x="389.49" y="595.75" width="8.43" height="11.25" fill="#f1e5e9" stroke="#d8d8d8" stroke-width="0.35"/>
<text x="399" y="9.12" font-size="8.8" text-anchor="start" fill="#000" stroke="#000">pyruvate biosynthetic process</text>
<text x="399" y="20.38" font-size="8.8" text-anchor="start" fill="#000" stroke="#000">monoatomic anion transport</text>
<text x="399" y="31.62" font-size="8.8" text-anchor="start" fill="#000" stroke="#000">monoatomic anion transmembrane transport</text>
<text x="399" y="42.88" font-size="8.8" text-anchor="start" fill="#000" stroke="#000">monocarboxylic acid transport</text>
<text x="399" y="54.12" font-size="8.8" text-anchor="start" fill="#000" stroke="#000">organic acid transport</text>
<text x="399" y="65.38" font-size="8.8" text-anchor="start" fill="#000" stroke="#000">carboxylic acid transport</text>
<text x="399" y="76.62" font-size="8.8" text-anchor="start" fill="#000" stroke="#000">organic acid transmembrane transport</text>
<text x="399" y="87.88" font-size="8.8" text-anchor="start" fill="#000" stroke="#000">carboxylic acid transmembrane transport</text>
<text x="399" y="99.12" font-size="8.8" text-anchor="start" fill="#000" stroke="#000">organic anion transport</text>
<text x="399" y="110.38" font-size="8.8" text-anchor="start" fill="#000" stroke="#000">transmembrane transport</text>
<text x="399" y="121.62" font-size="8.8" text-anchor="start" fill="#000" stroke="#000">indole−containing compound metabolic process</text>
<text x="399" y="132.88" font-size="8.8" text-anchor="start" fill="#000" stroke="#000">L−tryptophan metabolic process</text>
<text x="399" y="144.12" font-size="8.8" text-anchor="start" fill="#000" stroke="#000">indolalkylamine metabolic process</text>
<text x="399" y="155.38" font-size="8.8" text-anchor="start" fill="#000" stroke="#000">aldehyde metabolic process</text>
<text x="399" y="166.62" font-size="8.8" text-anchor="start" fill="#000" stroke="#000">glycosyl compound metabolic process</text>
<text x="399" y="177.88" font-size="8.8" text-anchor="start" fill="#000" stroke="#000">glycolytic process</text>
<text x="399" y="189.12" font-size="8.8" text-anchor="start" fill="#000" stroke="#000">ADP metabolic process</text>
<text x="399" y="200.38" font-size="8.8" text-anchor="start" fill="#000" stroke="#000">biogenic amine metabolic process</text>
<text x="399" y="211.62" font-size="8.8" text-anchor="start" fill="#000" stroke="#000">amine metabolic process</text>
<text x="399" y="222.88" font-size="8.8" text-anchor="start" fill="#000" stroke="#000">pyridine−containing compound metabolic process</text>
<text x="399" y="234.12" font-size="8.8" text-anchor="start" fill="#000" stroke="#000">pyridine−containing compound biosynthetic process</text>
<text x="399" y="245.38" font-size="8.8" text-anchor="start" fill="#000" stroke="#000">peptidyl−histidine modification</text>
<text x="399" y="256.62" font-size="8.8" text-anchor="start" fill="#000" stroke="#000">monocarboxylic acid catabolic process</text>
<text x="399" y="267.88" font-size="8.8" text-anchor="start" fill="#000" stroke="#000">small molecule catabolic process</text>
<text x="399" y="279.12" font-size="8.8" text-anchor="start" fill="#000" stroke="#000">organic acid catabolic process</text>
<text x="399" y="290.38" font-size="8.8" text-anchor="start" fill="#000" stroke="#000">carboxylic acid catabolic process</text>
<text x="399" y="301.62" font-size="8.8" text-anchor="start" fill="#000" stroke="#000">carboxylic acid metabolic process</text>
<text x="399" y="312.88" font-size="8.8" text-anchor="start" fill="#000" stroke="#000">organic acid metabolic process</text>
<text x="399" y="324.12" font-size="8.8" text-anchor="start" fill="#000" stroke="#000">oxoacid metabolic process</text>
<text x="399" y="335.38" font-size="8.8" text-anchor="start" fill="#000" stroke="#000">small molecule biosynthetic process</text>
<text x="399" y="346.62" font-size="8.8" text-anchor="start" fill="#000" stroke="#000">organic acid biosynthetic process</text>
<text x="399" y="357.88" font-size="8.8" text-anchor="start" fill="#000" stroke="#000">carboxylic acid biosynthetic process</text>
<text x="399" y="369.12" font-size="8.8" text-anchor="start" fill="#000" stroke="#000">pyruvate metabolic process</text>
<text x="399" y="380.38" font-size="8.8" text-anchor="start" fill="#000" stroke="#000">dicarboxylic acid metabolic process</text>
<text x="399" y="391.62" font-size="8.8" text-anchor="start" fill="#000" stroke="#000">carbohydrate catabolic process</text>
<text x="399" y="402.88" font-size="8.8" text-anchor="start" fill="#000" stroke="#000">monosaccharide catabolic process</text>
<text x="399" y="414.12" font-size="8.8" text-anchor="start" fill="#000" stroke="#000">branched−chain amino acid metabolic process</text>
<text x="399" y="425.38" font-size="8.8" text-anchor="start" fill="#000" stroke="#000">branched−chain amino acid biosynthetic process</text>
<text x="399" y="436.62" font-size="8.8" text-anchor="start" fill="#000" stroke="#000">aromatic amino acid metabolic process</text>
<text x="399" y="447.88" font-size="8.8" text-anchor="start" fill="#000" stroke="#000">amino acid catabolic process</text>
<text x="399" y="459.12" font-size="8.8" text-anchor="start" fill="#000" stroke="#000">alpha−amino acid catabolic process</text>
<text x="399" y="470.38" font-size="8.8" text-anchor="start" fill="#000" stroke="#000">arginine metabolic process</text>
<text x="399" y="481.62" font-size="8.8" text-anchor="start" fill="#000" stroke="#000">L−arginine biosynthetic process</text>
<text x="399" y="492.88" font-size="8.8" text-anchor="start" fill="#000" stroke="#000">glutamine family amino acid metabolic process</text>
<text x="399" y="504.12" font-size="8.8" text-anchor="start" fill="#000" stroke="#000">glutamine family amino acid biosynthetic process</text>
<text x="399" y="515.38" font-size="8.8" text-anchor="start" fill="#000" stroke="#000">aspartate family amino acid metabolic process</text>
<text x="399" y="526.62" font-size="8.8" text-anchor="start" fill="#000" stroke="#000">aspartate family amino acid biosynthetic process</text>
<text x="399" y="537.88" font-size="8.8" text-anchor="start" fill="#000" stroke="#000">amino acid biosynthetic process</text>
<text x="399" y="549.12" font-size="8.8" text-anchor="start" fill="#000" stroke="#000">alpha−amino acid biosynthetic process</text>
<text x="399" y="560.38" font-size="8.8" text-anchor="start" fill="#000" stroke="#000">amino acid metabolic process</text>
<text x="399" y="571.62" font-size="8.8" text-anchor="start" fill="#000" stroke="#000">alpha−amino acid metabolic process</text>
<text x="399" y="582.88" font-size="8.8" text-anchor="start" fill="#000" stroke="#000">homoserine metabolic process</text>
<text x="399" y="594.12" font-size="8.8" text-anchor="start" fill="#000" stroke="#000">lysine metabolic process</text>
<text x="399" y="605.38" font-size="8.8" text-anchor="start" fill="#000" stroke="#000">lysine biosynthetic process</text>
<text x="368.41" y="616.1" font-size="8.75" text-anchor="middle" fill="#000" stroke="#000">1</text>
<text x="376.84" y="616.1" font-size="8.75" text-anchor="middle" fill="#000" stroke="#000">2</text>
<text x="385.27" y="616.1" font-size="8.75" text-anchor="middle" fill="#000" stroke="#000">3</text>
<text x="393.7" y="616.1" font-size="8.75" text-anchor="middle" fill="#000" stroke="#000">4</text>
<line x1="363.1" y1="16.38" x2="364.2" y2="16.38" stroke="#555" stroke-width="0.6"/>
<line x1="363.1" y1="27.62" x2="364.2" y2="27.62" stroke="#555" stroke-width="0.6"/>
<line x1="363.1" y1="16.38" x2="363.1" y2="27.62" stroke="#555" stroke-width="0.6"/>
<line x1="363.8" y1="50.12" x2="364.2" y2="50.12" stroke="#555" stroke-width="0.6"/>
<line x1="363.8" y1="61.38" x2="364.2" y2="61.38" stroke="#555" stroke-width="0.6"/>
<line x1="363.8" y1="50.12" x2="363.8" y2="61.38" stroke="#555" stroke-width="0.6"/>
<line x1="363.8" y1="72.62" x2="364.2" y2="72.62" stroke="#555" stroke-width="0.6"/>
<line x1="363.8" y1="83.88" x2="364.2" y2="83.88" stroke="#555" stroke-width="0.6"/>
<line x1="363.8" y1="72.62" x2="363.8" y2="83.88" stroke="#555" stroke-width="0.6"/>
<line x1="363.5" y1="55.75" x2="363.8" y2="55.75" stroke="#555" stroke-width="0.6"/>
<line x1="363.5" y1="78.25" x2="363.8" y2="78.25" stroke="#555" stroke-width="0.6"/>
<line x1="363.5" y1="55.75" x2="363.5" y2="78.25" stroke="#555" stroke-width="0.6"/>
<line x1="362.5" y1="38.88" x2="364.2" y2="38.88" stroke="#555" stroke-width="0.6"/>
<line x1="362.5" y1="67" x2="363.5" y2="67" stroke="#555" stroke-width="0.6"/>
<line x1="362.5" y1="38.88" x2="362.5" y2="67" stroke="#555" stroke-width="0.6"/>
<line x1="358.5" y1="95.12" x2="364.2" y2="95.12" stroke="#555" stroke-width="0.6"/>
<line x1="358.5" y1="106.38" x2="364.2" y2="106.38" stroke="#555" stroke-width="0.6"/>
<line x1="358.5" y1="95.12" x2="358.5" y2="106.38" stroke="#555" stroke-width="0.6"/>
<line x1="356.8" y1="52.94" x2="362.5" y2="52.94" stroke="#555" stroke-width="0.6"/>
<line x1="356.8" y1="100.75" x2="358.5" y2="100.75" stroke="#555" stroke-width="0.6"/>
<line x1="356.8" y1="52.94" x2="356.8" y2="100.75" stroke="#555" stroke-width="0.6"/>
<line x1="355.4" y1="22" x2="363.1" y2="22" stroke="#555" stroke-width="0.6"/>
<line x1="355.4" y1="76.84" x2="356.8" y2="76.84" stroke="#555" stroke-width="0.6"/>
<line x1="355.4" y1="22" x2="355.4" y2="76.84" stroke="#555" stroke-width="0.6"/>
<line x1="363.5" y1="117.62" x2="364.2" y2="117.62" stroke="#555" stroke-width="0.6"/>
<line x1="363.5" y1="128.88" x2="364.2" y2="128.88" stroke="#555" stroke-width="0.6"/>
<line x1="363.5" y1="140.12" x2="364.2" y2="140.12" stroke="#555" stroke-width="0.6"/>
<line x1="363.5" y1="117.62" x2="363.5" y2="140.12" stroke="#555" stroke-width="0.6"/>
<line x1="363.5" y1="173.88" x2="364.2" y2="173.88" stroke="#555" stroke-width="0.6"/>
<line x1="363.5" y1="185.12" x2="364.2" y2="185.12" stroke="#555" stroke-width="0.6"/>
<line x1="363.5" y1="173.88" x2="363.5" y2="185.12" stroke="#555" stroke-width="0.6"/>
<line x1="358.5" y1="162.62" x2="364.2" y2="162.62" stroke="#555" stroke-width="0.6"/>
<line x1="358.5" y1="179.5" x2="363.5" y2="179.5" stroke="#555" stroke-width="0.6"/>
<line x1="358.5" y1="162.62" x2="358.5" y2="179.5" stroke="#555" stroke-width="0.6"/>
<line x1="363.5" y1="196.38" x2="364.2" y2="196.38" stroke="#555" stroke-width="0.6"/>
<line x1="363.5" y1="207.62" x2="364.2" y2="207.62" stroke="#555" stroke-width="0.6"/>
<line x1="363.5" y1="196.38" x2="363.5" y2="207.62" stroke="#555" stroke-width="0.6"/>
<line x1="362.5" y1="218.88" x2="364.2" y2="218.88" stroke="#555" stroke-width="0.6"/>
<line x1="362.5" y1="230.12" x2="364.2" y2="230.12" stroke="#555" stroke-width="0.6"/>
<line x1="362.5" y1="218.88" x2="362.5" y2="230.12" stroke="#555" stroke-width="0.6"/>
<line x1="353.3" y1="128.88" x2="363.5" y2="128.88" stroke="#555" stroke-width="0.6"/>
<line x1="353.3" y1="151.38" x2="364.2" y2="151.38" stroke="#555" stroke-width="0.6"/>
<line x1="353.3" y1="171.06" x2="358.5" y2="171.06" stroke="#555" stroke-width="0.6"/>
<line x1="353.3" y1="202" x2="363.5" y2="202" stroke="#555" stroke-width="0.6"/>
<line x1="353.3" y1="224.5" x2="362.5" y2="224.5" stroke="#555" stroke-width="0.6"/>
<line x1="353.3" y1="128.88" x2="353.3" y2="224.5" stroke="#555" stroke-width="0.6"/>
<line x1="363.8" y1="275.12" x2="364.2" y2="275.12" stroke="#555" stroke-width="0.6"/>
<line x1="363.8" y1="286.38" x2="364.2" y2="286.38" stroke="#555" stroke-width="0.6"/>
<line x1="363.8" y1="275.12" x2="363.8" y2="286.38" stroke="#555" stroke-width="0.6"/>
<line x1="363.5" y1="263.88" x2="364.2" y2="263.88" stroke="#555" stroke-width="0.6"/>
<line x1="363.5" y1="280.75" x2="363.8" y2="280.75" stroke="#555" stroke-width="0.6"/>
<line x1="363.5" y1="263.88" x2="363.5" y2="280.75" stroke="#555" stroke-width="0.6"/>
<line x1="363" y1="252.62" x2="364.2" y2="252.62" stroke="#555" stroke-width="0.6"/>
<line x1="363" y1="272.31" x2="363.5" y2="272.31" stroke="#555" stroke-width="0.6"/>
<line x1="363" y1="252.62" x2="363" y2="272.31" stroke="#555" stroke-width="0.6"/>
<line x1="363.5" y1="297.62" x2="364.2" y2="297.62" stroke="#555" stroke-width="0.6"/>
<line x1="363.5" y1="308.88" x2="364.2" y2="308.88" stroke="#555" stroke-width="0.6"/>
<line x1="363.5" y1="320.12" x2="364.2" y2="320.12" stroke="#555" stroke-width="0.6"/>
<line x1="363.5" y1="297.62" x2="363.5" y2="320.12" stroke="#555" stroke-width="0.6"/>
<line x1="363.5" y1="342.62" x2="364.2" y2="342.62" stroke="#555" stroke-width="0.6"/>
<line x1="363.5" y1="353.88" x2="364.2" y2="353.88" stroke="#555" stroke-width="0.6"/>
<line x1="363.5" y1="342.62" x2="363.5" y2="353.88" stroke="#555" stroke-width="0.6"/>
<line x1="362" y1="331.38" x2="364.2" y2="331.38" stroke="#555" stroke-width="0.6"/>
<line x1="362" y1="348.25" x2="363.5" y2="348.25" stroke="#555" stroke-width="0.6"/>
<line x1="362" y1="331.38" x2="362" y2="348.25" stroke="#555" stroke-width="0.6"/>
<line x1="360.5" y1="308.88" x2="363.5" y2="308.88" stroke="#555" stroke-width="0.6"/>
<line x1="360.5" y1="339.81" x2="362" y2="339.81" stroke="#555" stroke-width="0.6"/>
<line x1="360.5" y1="308.88" x2="360.5" y2="339.81" stroke="#555" stroke-width="0.6"/>
<line x1="358.5" y1="262.47" x2="363" y2="262.47" stroke="#555" stroke-width="0.6"/>
<line x1="358.5" y1="324.34" x2="360.5" y2="324.34" stroke="#555" stroke-width="0.6"/>
<line x1="358.5" y1="262.47" x2="358.5" y2="324.34" stroke="#555" stroke-width="0.6"/>
<line x1="358.5" y1="365.12" x2="364.2" y2="365.12" stroke="#555" stroke-width="0.6"/>
<line x1="358.5" y1="376.38" x2="364.2" y2="376.38" stroke="#555" stroke-width="0.6"/>
<line x1="358.5" y1="365.12" x2="358.5" y2="376.38" stroke="#555" stroke-width="0.6"/>
<line x1="362.5" y1="387.62" x2="364.2" y2="387.62" stroke="#555" stroke-width="0.6"/>
<line x1="362.5" y1="398.88" x2="364.2" y2="398.88" stroke="#555" stroke-width="0.6"/>
<line x1="362.5" y1="387.62" x2="362.5" y2="398.88" stroke="#555" stroke-width="0.6"/>
<line x1="362.5" y1="410.12" x2="364.2" y2="410.12" stroke="#555" stroke-width="0.6"/>
<line x1="362.5" y1="421.38" x2="364.2" y2="421.38" stroke="#555" stroke-width="0.6"/>
<line x1="362.5" y1="410.12" x2="362.5" y2="421.38" stroke="#555" stroke-width="0.6"/>
<line x1="363.5" y1="443.88" x2="364.2" y2="443.88" stroke="#555" stroke-width="0.6"/>
<line x1="363.5" y1="455.12" x2="364.2" y2="455.12" stroke="#555" stroke-width="0.6"/>
<line x1="363.5" y1="443.88" x2="363.5" y2="455.12" stroke="#555" stroke-width="0.6"/>
<line x1="360" y1="432.62" x2="364.2" y2="432.62" stroke="#555" stroke-width="0.6"/>
<line x1="360" y1="449.5" x2="363.5" y2="449.5" stroke="#555" stroke-width="0.6"/>
<line x1="360" y1="432.62" x2="360" y2="449.5" stroke="#555" stroke-width="0.6"/>
<line x1="362" y1="466.38" x2="364.2" y2="466.38" stroke="#555" stroke-width="0.6"/>
<line x1="362" y1="477.62" x2="364.2" y2="477.62" stroke="#555" stroke-width="0.6"/>
<line x1="362" y1="466.38" x2="362" y2="477.62" stroke="#555" stroke-width="0.6"/>
<line x1="363" y1="488.88" x2="364.2" y2="488.88" stroke="#555" stroke-width="0.6"/>
<line x1="363" y1="500.12" x2="364.2" y2="500.12" stroke="#555" stroke-width="0.6"/>
<line x1="363" y1="488.88" x2="363" y2="500.12" stroke="#555" stroke-width="0.6"/>
<line x1="362" y1="511.38" x2="364.2" y2="511.38" stroke="#555" stroke-width="0.6"/>
<line x1="362" y1="522.62" x2="364.2" y2="522.62" stroke="#555" stroke-width="0.6"/>
<line x1="362" y1="511.38" x2="362" y2="522.62" stroke="#555" stroke-width="0.6"/>
<line x1="359.5" y1="494.5" x2="363" y2="494.5" stroke="#555" stroke-width="0.6"/>
<line x1="359.5" y1="517" x2="362" y2="517" stroke="#555" stroke-width="0.6"/>
<line x1="359.5" y1="494.5" x2="359.5" y2="517" stroke="#555" stroke-width="0.6"/>
<line x1="362.5" y1="533.88" x2="364.2" y2="533.88" stroke="#555" stroke-width="0.6"/>
<line x1="362.5" y1="545.12" x2="364.2" y2="545.12" stroke="#555" stroke-width="0.6"/>
<line x1="362.5" y1="533.88" x2="362.5" y2="545.12" stroke="#555" stroke-width="0.6"/>
<line x1="362.5" y1="556.38" x2="364.2" y2="556.38" stroke="#555" stroke-width="0.6"/>
<line x1="362.5" y1="567.62" x2="364.2" y2="567.62" stroke="#555" stroke-width="0.6"/>
<line x1="362.5" y1="556.38" x2="362.5" y2="567.62" stroke="#555" stroke-width="0.6"/>
<line x1="360.5" y1="539.5" x2="362.5" y2="539.5" stroke="#555" stroke-width="0.6"/>
<line x1="360.5" y1="562" x2="362.5" y2="562" stroke="#555" stroke-width="0.6"/>
<line x1="360.5" y1="539.5" x2="360.5" y2="562" stroke="#555" stroke-width="0.6"/>
<line x1="358.7" y1="415.75" x2="362.5" y2="415.75" stroke="#555" stroke-width="0.6"/>
<line x1="358.7" y1="441.06" x2="360" y2="441.06" stroke="#555" stroke-width="0.6"/>
<line x1="358.7" y1="472" x2="362" y2="472" stroke="#555" stroke-width="0.6"/>
<line x1="358.7" y1="505.75" x2="359.5" y2="505.75" stroke="#555" stroke-width="0.6"/>
<line x1="358.7" y1="550.75" x2="360.5" y2="550.75" stroke="#555" stroke-width="0.6"/>
<line x1="358.7" y1="415.75" x2="358.7" y2="550.75" stroke="#555" stroke-width="0.6"/>
<line x1="363.5" y1="590.12" x2="364.2" y2="590.12" stroke="#555" stroke-width="0.6"/>
<line x1="363.5" y1="601.38" x2="364.2" y2="601.38" stroke="#555" stroke-width="0.6"/>
<line x1="363.5" y1="590.12" x2="363.5" y2="601.38" stroke="#555" stroke-width="0.6"/>
<line x1="358.7" y1="578.88" x2="364.2" y2="578.88" stroke="#555" stroke-width="0.6"/>
<line x1="358.7" y1="595.75" x2="363.5" y2="595.75" stroke="#555" stroke-width="0.6"/>
<line x1="358.7" y1="578.88" x2="358.7" y2="595.75" stroke="#555" stroke-width="0.6"/>
<line x1="354.5" y1="483.25" x2="358.7" y2="483.25" stroke="#555" stroke-width="0.6"/>
<line x1="354.5" y1="587.31" x2="358.7" y2="587.31" stroke="#555" stroke-width="0.6"/>
<line x1="354.5" y1="483.25" x2="354.5" y2="587.31" stroke="#555" stroke-width="0.6"/>
<line x1="353.6" y1="241.38" x2="364.2" y2="241.38" stroke="#555" stroke-width="0.6"/>
<line x1="353.6" y1="293.41" x2="358.5" y2="293.41" stroke="#555" stroke-width="0.6"/>
<line x1="353.6" y1="370.75" x2="358.5" y2="370.75" stroke="#555" stroke-width="0.6"/>
<line x1="353.6" y1="393.25" x2="362.5" y2="393.25" stroke="#555" stroke-width="0.6"/>
<line x1="353.6" y1="535.28" x2="354.5" y2="535.28" stroke="#555" stroke-width="0.6"/>
<line x1="353.6" y1="241.38" x2="353.6" y2="535.28" stroke="#555" stroke-width="0.6"/>
<line x1="353" y1="176.69" x2="353.3" y2="176.69" stroke="#555" stroke-width="0.6"/>
<line x1="353" y1="388.33" x2="353.6" y2="388.33" stroke="#555" stroke-width="0.6"/>
<line x1="353" y1="176.69" x2="353" y2="388.33" stroke="#555" stroke-width="0.6"/>
<line x1="352.6" y1="49.42" x2="355.4" y2="49.42" stroke="#555" stroke-width="0.6"/>
<line x1="352.6" y1="282.51" x2="353" y2="282.51" stroke="#555" stroke-width="0.6"/>
<line x1="352.6" y1="49.42" x2="352.6" y2="282.51" stroke="#555" stroke-width="0.6"/>
<line x1="351.8" y1="5.12" x2="364.2" y2="5.12" stroke="#555" stroke-width="0.6"/>
<line x1="351.8" y1="165.96" x2="352.6" y2="165.96" stroke="#555" stroke-width="0.6"/>
<line x1="351.8" y1="5.12" x2="351.8" y2="165.96" stroke="#555" stroke-width="0.6"/>
<defs><linearGradient id="pg" x1="0" y1="1" x2="0" y2="0"><stop offset="0" stop-color="#efefef"/><stop offset="0.15" stop-color="#efefef"/><stop offset="0.2" stop-color="#f7b9cb"/><stop offset="0.4" stop-color="#dd78aa"/><stop offset="0.6" stop-color="#b44c9c"/><stop offset="0.8" stop-color="#931f8c"/><stop offset="1" stop-color="#7a0077"/></linearGradient></defs>
<rect x="609.3" y="294.8" width="9.6" height="60.8" fill="url(#pg)" stroke="#000" stroke-width="0.7"/>
<line x1="609.3" y1="296.7" x2="610.8" y2="296.7" stroke="#000" stroke-width="0.6"/>
<line x1="617.4" y1="296.7" x2="618.9" y2="296.7" stroke="#000" stroke-width="0.6"/>
<text x="620.3" y="299.8" font-size="8.75" text-anchor="start" fill="#000" stroke="#000">10</text>
<line x1="609.3" y1="308.26" x2="610.8" y2="308.26" stroke="#000" stroke-width="0.6"/>
<line x1="617.4" y1="308.26" x2="618.9" y2="308.26" stroke="#000" stroke-width="0.6"/>
<text x="620.3" y="311.36" font-size="8.75" text-anchor="start" fill="#000" stroke="#000">8</text>
<line x1="609.3" y1="319.82" x2="610.8" y2="319.82" stroke="#000" stroke-width="0.6"/>
<line x1="617.4" y1="319.82" x2="618.9" y2="319.82" stroke="#000" stroke-width="0.6"/>
<text x="620.3" y="322.92" font-size="8.75" text-anchor="start" fill="#000" stroke="#000">6</text>
<line x1="609.3" y1="331.38" x2="610.8" y2="331.38" stroke="#000" stroke-width="0.6"/>
<line x1="617.4" y1="331.38" x2="618.9" y2="331.38" stroke="#000" stroke-width="0.6"/>
<text x="620.3" y="334.48" font-size="8.75" text-anchor="start" fill="#000" stroke="#000">4</text>
<line x1="609.3" y1="342.94" x2="610.8" y2="342.94" stroke="#000" stroke-width="0.6"/>
<line x1="617.4" y1="342.94" x2="618.9" y2="342.94" stroke="#000" stroke-width="0.6"/>
<text x="620.3" y="346.04" font-size="8.75" text-anchor="start" fill="#000" stroke="#000">2</text>
<line x1="609.3" y1="354.5" x2="610.8" y2="354.5" stroke="#000" stroke-width="0.6"/>
<line x1="617.4" y1="354.5" x2="618.9" y2="354.5" stroke="#000" stroke-width="0.6"/>
<text x="620.3" y="357.6" font-size="8.75" text-anchor="start" fill="#000" stroke="#000">0</text>
<text x="609.7" y="289.2" font-size="8.6" text-anchor="start" fill="#000" stroke="#000">−log10(p.adjust)</text>
<text x="368.6" y="632" font-size="8.85" text-anchor="start" fill="#000" stroke="#000">1. Alkalinization-responsive genes</text>
<text x="368.6" y="645.5" font-size="8.85" text-anchor="start" fill="#000" stroke="#000">2. Dal81-dependent alkalinization-responsive genes</text>
<text x="368.6" y="659.3" font-size="8.85" text-anchor="start" fill="#000" stroke="#000">3. Stp2-dependent alkalinization-responsive genes</text>
<text x="368.6" y="672.5" font-size="8.85" text-anchor="start" fill="#000" stroke="#000">4. Dal81 and Stp2 co-dependent alkalinization-responsive genes</text>
<clipPath id="v1"><rect x="57.6" y="713" width="155.4" height="156.2"/></clipPath>
<g clip-path="url(#v1)">
<line x1="129.3" y1="714.2" x2="129.3" y2="869.2" stroke="#c8c8c8" stroke-width="0.7" stroke-dasharray="2.6 2.5"/>
<line x1="139.3" y1="714.2" x2="139.3" y2="869.2" stroke="#c8c8c8" stroke-width="0.7" stroke-dasharray="2.6 2.5"/>
<line x1="57.6" y1="862.1" x2="213" y2="862.1" stroke="#c8c8c8" stroke-width="0.7" stroke-dasharray="2.6 2.5"/>
<path d="M135.83 858.53h.01M137.98 848.28h.01M137.29 851.75h.01M128.44 859.44h.01M136.15 856.64h.01M129.48 851.62h.01M131.14 855.19h.01M135.22 862.05h.01M130.77 857.71h.01M139.48 861.65h.01M138 859.61h.01M135.76 861.41h.01M128.1 861.51h.01M130.76 848.42h.01M138.94 855.64h.01M140.05 860.19h.01M130.62 848.29h.01M136.67 854.09h.01M139.2 854.95h.01M132.57 861.01h.01M129.89 860.52h.01M131.83 856.57h.01M128.12 861.15h.01M131.93 855.23h.01M134.06 861.95h.01M134.07 861.8h.01M128.78 862.04h.01M137.41 852.02h.01M128.3 861.07h.01M135.28 862.06h.01M128.66 859.4h.01M130.52 850.35h.01M139.65 861.13h.01M132.49 858.86h.01M137.73 860.3h.01M137.39 852.6h.01M138.78 861.14h.01M139.85 861.14h.01M135.68 858.32h.01M132.31 855.97h.01M134.86 861.65h.01M132.02 860.45h.01M129.05 860.15h.01M140.48 861.96h.01M140.36 860.95h.01M131.03 854.26h.01M138.36 853.91h.01M133.33 861.91h.01M139.48 860.71h.01M138.51 859.31h.01M137.18 851.94h.01M135.92 858.03h.01M129.4 852.1h.01M129.93 846.43h.01M131.75 857.64h.01M140.52 859.34h.01M133.72 861.41h.01M137.16 856.68h.01M131.7 857.99h.01M129.9 854.44h.01M140.38 860.33h.01M134.29 862.1h.01M129.18 859.89h.01M138.87 854.35h.01M137.86 850.98h.01M136.72 856.23h.01M137.53 857.14h.01M136.85 859.22h.01M134.12 861.87h.01M136.68 859.35h.01M139.85 860.46h.01M128.22 861.39h.01M136.44 858.5h.01M138.24 851.3h.01M138.01 856.4h.01M136.09 857.74h.01M138.39 855.59h.01M138.57 846.47h.01M136.64 854.15h.01M139.98 860.61h.01M130.14 847.53h.01M139.75 860.15h.01M137.04 854.62h.01M130.21 848.71h.01M135.31 860.22h.01M133.31 860.38h.01M137.72 853.25h.01M137.04 861.71h.01M130.07 853.71h.01M136.17 860.56h.01M136.62 856.82h.01M128.6 861.46h.01M128.75 861.2h.01M130.34 858.43h.01M128.52 861.03h.01M135.69 859.53h.01M131.04 850.7h.01M128.08 861.31h.01M133.18 861.66h.01M138.43 855.11h.01M128.52 861.83h.01M134.86 861.62h.01M135.31 859.49h.01M138.27 854.74h.01M138.2 851.54h.01M132.67 861.23h.01M135.49 860.08h.01M139.99 860.38h.01M132.45 856.69h.01M128.09 860.5h.01M135.73 861.37h.01M135.91 857.6h.01M132.75 859.88h.01M130.89 857.74h.01M140.18 859.39h.01M139.45 861.37h.01M140.29 860.93h.01M132.05 854.5h.01M134.2 862.05h.01M134.01 862.02h.01M135.81 859.88h.01M131.72 854.74h.01M138.37 861.76h.01M134.71 861.84h.01M139.72 861.41h.01M131.41 860.11h.01M140.39 860.38h.01M133.98 861.7h.01M135.59 859.23h.01M129.55 846.18h.01M131.82 857.13h.01M132.26 859.83h.01M134.67 861.73h.01M132.57 857.9h.01M135.43 861.94h.01M131.22 856.38h.01M139.49 860.56h.01M128.26 860.89h.01M135.24 860.28h.01M135.95 859.44h.01M139.43 860.99h.01M138.68 857.86h.01M131.77 854.5h.01M128.9 860.14h.01M133.46 861.41h.01M137.8 849.54h.01M129.85 852.47h.01M134.91 861.34h.01M132.19 860.79h.01M135.37 859.67h.01M128.93 859.79h.01M137.93 852.17h.01M128.39 859.34h.01M140.5 861.96h.01M138.56 857.59h.01M136.11 856.53h.01M136.94 860.54h.01M131.72 853.56h.01M129.94 850.42h.01M133.23 861.53h.01M135.82 861.82h.01M129.42 853.3h.01M128.97 860.48h.01M137.32 852.06h.01M129.75 853.06h.01M131.99 857.07h.01M134.17 861.92h.01M132.73 861.74h.01M136.76 860.52h.01M135.94 859.34h.01M139.41 860.35h.01M131.35 855.69h.01M131.24 853.22h.01M134.51 862.04h.01M130.99 856.89h.01M137.25 859.77h.01M136.96 855.57h.01M129.14 861.84h.01M129.63 849.64h.01M131.05 851.04h.01M134.06 861.95h.01M137.99 861.49h.01M137.1 861.36h.01M129.95 844.75h.01M136.55 860.1h.01M129.52 842.09h.01M136.36 856.37h.01M129.82 849.73h.01M132.49 860.52h.01M132.22 857.63h.01M132.42 859.5h.01M129.77 845.92h.01M136.14 857.22h.01M133.47 860.28h.01M134.52 861.87h.01M135.21 860.28h.01M133 861.64h.01M128.49 861.99h.01M139.15 851.29h.01M137.54 862.09h.01M133.93 861.43h.01M135.79 860h.01M133.87 861.99h.01M130 858.68h.01M132.74 860.07h.01M139.04 858.38h.01M131.24 858.47h.01M130.09 856.44h.01M131 855.53h.01M128.47 861.06h.01M139.75 860.2h.01M133.95 861.44h.01M129.54 847.91h.01M131.7 855.57h.01M137.15 860.05h.01M130.58 861.57h.01M130.94 860.79h.01M133.07 858.66h.01M132.61 860.24h.01M133.9 861.84h.01M137.19 854.17h.01M130.11 857.3h.01M136.44 855.25h.01M136.12 859.37h.01M140.22 861.93h.01M137.78 856.02h.01M128.63 859.31h.01M134.54 861.94h.01M129.24 859.56h.01M134.19 861.96h.01M128.74 861.96h.01M133.02 861.81h.01M131.26 857.01h.01M131.88 861.52h.01M128.54 861.59h.01M134.41 862.03h.01M134.69 862.01h.01M131.98 861.02h.01M134.82 861.03h.01M135.52 859.06h.01M130.74 861.74h.01M134.79 861.54h.01M135.19 861.14h.01M135.86 858.52h.01M139.44 860.83h.01M138.36 857.78h.01M129.52 854.9h.01M129.17 859.79h.01M131.97 860.82h.01M129.1 861.86h.01M133.41 860.7h.01M131.13 861.12h.01M136.8 861.53h.01M130.56 857.27h.01M132.73 861.5h.01M133.31 861.17h.01M137.44 855.09h.01M139.23 847.52h.01M137.53 854.6h.01M133.58 860.64h.01M124.59 861.59h.01M119.92 861.61h.01M132.89 861.83h.01M146.97 862.01h.01M138.19 861.91h.01M136.01 861.62h.01M133.74 861.56h.01M136.76 861.71h.01M136.51 862.01h.01M134.69 861.85h.01M145.13 861.67h.01M121.17 861.94h.01M128.33 861.87h.01M137.16 862.09h.01M123.04 861.59h.01M127.69 862.03h.01M130.1 861.6h.01M133.49 861.79h.01M145.79 862.02h.01M129.63 861.88h.01M140.97 861.79h.01M130.35 861.79h.01M136.1 861.72h.01M118.04 861.42h.01M131.62 861.53h.01M132.45 861.8h.01M152.53 862.08h.01M140.52 861.69h.01M119.98 861.82h.01M135.93 861.95h.01M133.51 861.7h.01M138.91 861.85h.01M134.34 861.85h.01M129.12 861.92h.01M147.57 861.5h.01M132.83 861.66h.01M131.15 861.51h.01M136.56 861.75h.01M138.43 862.03h.01M135.3 861.59h.01M138.06 861.54h.01M131.57 861.87h.01M128.61 861.66h.01M121.61 861.54h.01M133.59 861.74h.01M135 861.69h.01M137.06 861.88h.01M140.65 862.08h.01M131.7 861.76h.01M140.64 861.6h.01M118.33 861.52h.01M146.04 861.45h.01M130.65 861.72h.01M124.58 861.54h.01M128.21 861.62h.01M141.4 861.73h.01M133.7 862.04h.01M137.04 861.85h.01M124 861.6h.01M128.6 861.88h.01M139.34 861.59h.01M131.9 862.05h.01M134.52 861.42h.01M123.92 861.47h.01M129.22 861.58h.01" stroke="#dcdcdc" stroke-width="2.1" stroke-linecap="round" fill="none"/>
<path d="M118.31 793.91h.01M120.94 848.84h.01M109.98 860.85h.01M118.57 850.15h.01M124.64 847.56h.01M117.84 821.9h.01M115.01 854.05h.01M124.6 861.76h.01M101.72 832.85h.01M116.28 811.14h.01M128.47 855.62h.01M112.71 846.71h.01M114.49 748h.01M114.98 794.63h.01M111.93 782.52h.01M119.04 843.12h.01M129 861.42h.01M119.87 857.17h.01M115.91 859.89h.01M118.16 858.8h.01M118.74 858.45h.01M108.49 861.42h.01M116.35 798.42h.01M118.67 782.68h.01M125.61 847.2h.01M114.06 861.82h.01M121.05 829.58h.01M113.05 836.06h.01M114.84 861.99h.01M112.79 769.66h.01M107.75 861.96h.01M114.18 848.87h.01M123.38 862.1h.01M111.82 857.57h.01M111.39 714.2h.01M118.95 859.85h.01M126.32 846.76h.01M107.65 861.36h.01M124.31 862.1h.01M116.05 849.06h.01M117.35 813.21h.01M116.6 856.42h.01M121.94 812.79h.01M116.66 769.07h.01M117.75 862.1h.01M116.67 842.2h.01M112.42 861.91h.01M116.57 851.72h.01M119.53 805.79h.01M108.64 861.92h.01M114.98 849.26h.01M110.71 855.98h.01M118.02 794.86h.01M122.07 858.97h.01M116.63 808.98h.01" stroke="#ebcd8e" stroke-width="2.1" stroke-linecap="round" fill="none"/>
<path d="M121.02 833.51h.01M114.4 861.31h.01M112.85 861.97h.01M119.32 834.96h.01M118.46 861.97h.01M116.81 795.86h.01M116.13 803.52h.01M114.12 829.55h.01M127.16 857.27h.01M116.85 787.85h.01M116.88 810.66h.01M113.87 862.1h.01M116.27 793.91h.01M119.32 829.47h.01M115.06 847.72h.01M119.93 855.53h.01M120.04 799.77h.01M120.91 852.83h.01M122.95 862.03h.01M121.28 862.05h.01M119.58 862.03h.01M115.26 859.51h.01M126.67 862.1h.01M108.09 861.93h.01M116.71 788.02h.01M113.61 847.67h.01M122.14 861.73h.01M112.37 862.1h.01M114.62 855.95h.01M120.89 827.27h.01M109.15 862.1h.01M124.31 848.3h.01M114.12 861.7h.01M126.13 861.98h.01M120.36 846.04h.01M122.72 862.04h.01M115.26 782.15h.01M114.26 857.78h.01M112.8 861.13h.01M128.03 857.34h.01M107.79 861.51h.01M117.11 848.31h.01M111.57 861.37h.01M114.05 852.7h.01M123.19 850.2h.01M108.28 861.87h.01M114.13 861.8h.01M121.45 855.22h.01M107.05 862.1h.01M115.99 794.28h.01M113.87 862.1h.01M114.48 859.38h.01M88.52 823.48h.01M124.4 809.02h.01M129.18 861.42h.01M113.87 793.5h.01M119.75 839.48h.01M120.97 804.97h.01M127.78 861.63h.01M115.48 818.56h.01M114.17 814.75h.01M129.21 861.8h.01M120.39 796.4h.01M117.97 860.88h.01M115.37 834.78h.01M117.14 838.49h.01M121.52 839.47h.01M119.32 812.49h.01M108.04 862.08h.01M113.53 827.15h.01M108.81 862.1h.01M126.03 858.41h.01M123.83 847.63h.01M125.18 848.69h.01M127.68 855.32h.01M121.98 824.11h.01M118.6 793.71h.01M115.09 845.21h.01M119.73 858.72h.01" stroke="#b7cde6" stroke-width="2.1" stroke-linecap="round" fill="none"/>
<path d="M155.92 816.85h.01M152.9 860.11h.01M149.29 861.57h.01M148.38 861.45h.01M144.66 827.33h.01M146.88 861.74h.01M158.19 851.87h.01M159.32 862.09h.01M150.04 862.1h.01M148.55 851.26h.01M151.02 856.58h.01M194.06 851.75h.01M146.78 836.9h.01M140.97 848.79h.01M155.5 817.23h.01M141.7 861.76h.01M152.22 853.87h.01M152.25 860.54h.01M153.21 797.11h.01M151.66 792.1h.01M147.14 855.1h.01M150.63 854.28h.01M152.78 769.3h.01M154.66 782.8h.01M160.17 862.1h.01M153.22 835.67h.01M160.05 861.55h.01M151.01 794.51h.01M159.82 859.54h.01M159.35 858.26h.01M153.69 859.45h.01M146.74 841.45h.01M146.19 831.77h.01M155.73 861.75h.01M154.02 779.35h.01M153.83 844.29h.01M155.07 830.51h.01M160.43 854.94h.01M161.97 837.04h.01M153.32 791.92h.01M155.85 773.61h.01M155.9 859.83h.01M155.54 860.92h.01M147.37 847.24h.01M140.41 856.89h.01M154.64 819.66h.01M147.31 827.47h.01M152.81 802.23h.01M153.02 858.96h.01M154.03 799.16h.01M152.52 764.48h.01M150.92 800.85h.01" stroke="#dcc3e6" stroke-width="2.1" stroke-linecap="round" fill="none"/>
<path d="M157.91 843.18h.01M157.33 856.57h.01M150.17 779.81h.01M151.87 831.64h.01M158.47 862.1h.01M153.52 780.25h.01M150.38 861.59h.01M161.79 859.7h.01M155.27 772.21h.01M153.76 789.15h.01M150.14 801.85h.01M153.05 860.36h.01M149.92 843.75h.01M145.88 848.92h.01M149.37 804.56h.01M152.47 785.69h.01M155.81 846.81h.01M142.83 862.1h.01M156.45 860.72h.01M147.15 846.1h.01M154.61 783.61h.01M149.91 826.27h.01M155.23 812.14h.01M156.5 860.59h.01M155.67 833.47h.01M149.2 843.58h.01M154.06 816.8h.01M150.79 845.65h.01M150.58 802.05h.01M140.8 853.66h.01M153.08 773.75h.01M140.08 862.03h.01M151.31 785.59h.01M152.49 862.08h.01M151 806.77h.01M139.92 862.01h.01M150.37 852.41h.01M145.57 824.35h.01M143.38 857.86h.01M153.04 807.98h.01M204.02 847.99h.01M152.03 857.64h.01M159.93 861.04h.01M143.96 809.47h.01M145.17 855.46h.01M153.13 830.01h.01M144.92 861.64h.01M147.92 832.77h.01M150.96 840.88h.01M150.35 819.05h.01M149.69 859.2h.01M146.65 851.35h.01M147.94 842.2h.01M148.74 860.39h.01M154.98 859.15h.01M153.88 852.4h.01M154.78 839.29h.01M150.67 773.73h.01M144.28 843.8h.01M146.48 859.87h.01M145.35 836.34h.01M148.5 851.67h.01M161.76 861.74h.01M144.89 851.05h.01M147.87 861.99h.01M153.99 862.07h.01M157.57 836.92h.01M151.99 834.9h.01M146.74 861.79h.01M159.69 862.1h.01M152.16 832.26h.01M152.21 775.2h.01M144.94 849.6h.01M147.14 862.05h.01M149.04 832.02h.01M150.36 838.85h.01M153.45 798.03h.01M145.09 829.34h.01M148.13 811.59h.01M158.93 861.97h.01M152.05 782.38h.01M147.92 822.2h.01M149.27 811.34h.01M149.92 778.17h.01M151.43 860.4h.01M153.5 860.87h.01M153.1 862.03h.01M141.17 857.21h.01M152.64 778.26h.01M151.92 787.87h.01M157.2 849.9h.01M160.66 859.01h.01M209 846.57h.01M143.29 832.25h.01M141.07 861.62h.01M154.5 862.08h.01M143.05 852.41h.01M143.53 861.32h.01M158.45 855.35h.01M151.11 780.25h.01M149.76 781.14h.01M148.46 826.64h.01M158.05 848.96h.01M152.61 860.34h.01M148.27 813.17h.01M154.39 797.22h.01M150.23 780.61h.01M149.44 789.2h.01M152.16 819.86h.01M149.69 811.99h.01M155.27 844.79h.01M148.25 855.92h.01M160.06 856.81h.01" stroke="#ebcd8e" stroke-width="2.1" stroke-linecap="round" fill="none"/>
<path d="M119.12 861.96h.01M107.91 714.2h.01M114.84 832.71h.01M117.38 859.94h.01M109.73 854.73h.01M120.57 829.94h.01M124.95 862.04h.01M82.27 859.75h.01M116.87 780.85h.01M122.35 844.42h.01M115.65 770.99h.01M128.33 862.1h.01M117.19 787.65h.01M125.49 856.08h.01M108.94 855.57h.01M126.14 859.82h.01M125.59 849.52h.01M108.96 862.1h.01M113.42 788.53h.01M123.59 827h.01M117.04 811.28h.01M114.4 814.21h.01M118.72 848.25h.01M116.78 861.14h.01M110.05 858.82h.01M120.42 804.44h.01M116.73 840.82h.01M121.63 777.92h.01M121.1 861.99h.01M116.18 818.75h.01M109.3 858.41h.01M121.3 860.76h.01M116.83 850.06h.01M124.04 860.65h.01M116.64 785.64h.01M117.92 781h.01M117.86 833.14h.01M73.77 836.79h.01M115.54 858.45h.01M115.67 857.71h.01M122.18 804.78h.01M111.51 861.4h.01M106.6 861.7h.01M128.42 861.29h.01M117.72 818.65h.01M125.1 859.47h.01M109.09 861.99h.01M119.8 825.33h.01M126.12 859.55h.01M107.62 862.05h.01M111.92 862.1h.01M119.57 801.75h.01M112.61 857.35h.01M120.2 814.89h.01M119.6 800.07h.01" stroke="#ebcd8e" stroke-width="2.1" stroke-linecap="round" fill="none"/>
<path d="M127.53 861.52h.01M111.73 854.14h.01M110.86 846.32h.01M124.06 851.28h.01M113.19 855.42h.01M117.01 862.07h.01M114.43 852.16h.01M120.03 823.43h.01M119.66 861.66h.01M125.48 862.06h.01M117.32 862.07h.01M118.15 771.12h.01M114.9 859.6h.01M117.77 812.3h.01M118.89 853.35h.01M119.56 861.99h.01M113.82 860.74h.01M114.38 799.17h.01M126.57 861.18h.01M125.52 853.73h.01M121.18 844.93h.01M127.85 861.78h.01M117.38 787.13h.01M113.06 846.47h.01M117.31 856.94h.01M120.61 815.26h.01M116.43 772.93h.01M122.52 851.35h.01M119.55 862.09h.01M116.84 814.1h.01M118.8 862.1h.01M122.64 850.75h.01M116.78 847.6h.01M112.32 859.91h.01M124.37 831.68h.01M116.54 794.23h.01M114.26 796.55h.01M116.34 861.68h.01M112.75 771.86h.01M108.11 860.44h.01M114.06 856.26h.01M117.63 814.28h.01M120.91 844.48h.01M116.83 822.19h.01M64.58 848.93h.01M112.59 862.09h.01M115.03 861.21h.01M125.32 857.32h.01M119.68 825.77h.01M120.13 815.81h.01M86.91 842.56h.01M115.46 852.04h.01M123.65 862.09h.01M112.9 856.74h.01M116.13 794.68h.01M115.87 790.52h.01M118.7 845.39h.01M124.9 837.57h.01M121.34 832.6h.01M116.18 802.76h.01M107.65 857.01h.01M123.18 839.22h.01M113.33 862h.01M121.74 806.25h.01M113.87 860.69h.01M118.88 797.78h.01M122.91 860.97h.01M120.45 860.55h.01M118.08 799.55h.01M117.5 769.54h.01M124.37 858.36h.01M126 842.21h.01M122.29 862.1h.01M69.7 831.71h.01M120.13 857.53h.01M121.99 809.34h.01M114.42 772.49h.01M114.34 772.44h.01M107.86 858.78h.01" stroke="#b7cde6" stroke-width="2.1" stroke-linecap="round" fill="none"/>
<path d="M157.35 860.79h.01M155.29 797.93h.01M150.08 839.34h.01M153.79 819.26h.01M154.19 849.77h.01M158.94 856.3h.01M157 861.26h.01M151.33 841.36h.01M151.33 809.61h.01M148.4 830.41h.01M152.52 794.96h.01M160.76 861.42h.01M148.49 803.89h.01M152.07 828.3h.01M140.08 860.78h.01M149.57 862.1h.01M155.67 779.99h.01M151.96 859.07h.01M147.19 855.37h.01M154.04 818.54h.01M150.22 832.57h.01M150.24 857.52h.01M149.32 833.24h.01M144.32 844.47h.01M151.09 831.49h.01M146.52 819.33h.01M145.13 842.98h.01M155.76 861.46h.01M147.88 858.83h.01M151.08 858.32h.01M150.63 769.04h.01M153.1 820.51h.01M155.89 862.02h.01M143.91 861.94h.01M148.15 807.79h.01M139.44 862.1h.01M155.47 809.59h.01M155.91 862.1h.01M142.94 862.02h.01M161.86 861.64h.01M143.74 861.95h.01M153.72 861.89h.01M149.98 820.33h.01M149.39 793.49h.01M159.32 861.97h.01M156.45 857.65h.01M150.1 860.05h.01M154.39 843.21h.01M151.67 862.1h.01M147.76 845.06h.01M147.81 814.33h.01M156.65 860.64h.01" stroke="#dcc3e6" stroke-width="2.1" stroke-linecap="round" fill="none"/>
<path d="M141.68 861.9h.01M158.55 861.44h.01M140.77 856.78h.01M146.66 832.41h.01M151.05 862.01h.01M157.66 845.59h.01M152.4 774.35h.01M154.32 798.98h.01M158.12 778.02h.01M150.13 861.42h.01M158.08 802.38h.01M144.8 861.9h.01M149.29 861.94h.01M147.35 827.09h.01M150.83 862.1h.01M156.6 841.46h.01M154.77 860.58h.01M150.95 781.12h.01M154.04 771.95h.01M153.71 794.92h.01M144.48 825.22h.01M189.08 853.16h.01M154.33 845.3h.01M144.52 839.26h.01M148.78 821.44h.01M157.16 849.16h.01M141.9 861.15h.01M156.3 823.63h.01M145.69 828.77h.01M155.4 853.12h.01M151.23 820.39h.01M151.58 821h.01M142.11 861.27h.01M145.87 829.39h.01M149.92 783.7h.01M147.39 808.91h.01M146.81 813.49h.01M175.14 777.41h.01M153.5 823.63h.01M146.14 862.08h.01M158.24 861.58h.01M142.96 862.08h.01M158.3 854.75h.01M155.79 862.1h.01M157.44 862.1h.01M199.43 859.82h.01M159.17 862.06h.01M153.55 806.06h.01M146.99 823.67h.01M139.72 860.1h.01M148.33 837.29h.01M142.4 856.43h.01M142.44 860.84h.01M156.71 856.25h.01M154.03 772.17h.01M146.79 842.8h.01M150.05 844.96h.01M147.78 809.88h.01M149.57 859.12h.01M159.86 859.77h.01M147.92 831.3h.01M146.02 821.97h.01M143.19 853.41h.01M143.3 859.79h.01M199.04 849.87h.01M154.42 788.42h.01M151.96 768.54h.01M153.56 779.5h.01M154.89 801.63h.01M156.17 850.81h.01M152.73 796.96h.01M144.25 857.95h.01M144.75 844.19h.01M151.14 858.29h.01M155.08 770.12h.01M154.7 844.37h.01M156.78 828.4h.01M153.43 799.92h.01M154.38 837.02h.01M146.92 859.66h.01M149.31 830.7h.01M153.02 772.96h.01M144.04 860.73h.01M151.15 859.73h.01M147.54 861.36h.01M143.96 861.99h.01M154.56 855.02h.01M150.46 814.38h.01M156.62 845.38h.01M154.4 832.15h.01M177.26 847.37h.01M149.23 781.9h.01M151.59 801.4h.01M142.17 862.1h.01M152.82 824.49h.01M147.87 798.58h.01M151.85 818.48h.01M159.1 862.05h.01M147.18 826.21h.01M151.13 771.76h.01M145.54 853.87h.01M148.01 815.26h.01M143.75 855.31h.01M144.1 825.07h.01M155.03 791.19h.01M145.03 841.55h.01M156.84 861.45h.01M147.59 839.23h.01M157.77 862.1h.01M147.28 797.35h.01M144.46 851.96h.01M151.56 859.87h.01M155.28 857.79h.01" stroke="#ebcd8e" stroke-width="2.1" stroke-linecap="round" fill="none"/>
<path d="M115.53 862.1h.01M127.45 862.1h.01M109.8 747.14h.01M119.58 791.29h.01M117.6 855.66h.01M118.67 767.27h.01M122.34 862.1h.01M125.44 839.91h.01M114.28 754.44h.01M109.06 862.1h.01M125.45 861.11h.01M48.46 832.79h.01M122.51 840.3h.01M123.25 861.3h.01M119.17 847.28h.01M57.22 858.09h.01M123.88 819.69h.01M122.2 857.44h.01M119.02 844.93h.01M122.25 856.53h.01M114.91 815.69h.01M107.3 860.7h.01M116.72 862.1h.01M125.27 770.88h.01M122.11 862.03h.01M125.22 820.33h.01M88.62 856.85h.01M117.89 823.62h.01M115.31 847.22h.01M116.78 847.13h.01M112.98 828.35h.01M127.37 862.1h.01M118.23 843.59h.01M120.89 861.67h.01M122.63 849.88h.01M115.99 743.89h.01M115.15 861.47h.01M111.85 780.41h.01M110.42 861.7h.01M122.88 861.75h.01M125.66 839.58h.01M115.96 782.45h.01M119.36 809.38h.01M116.46 852.5h.01M116.13 774.8h.01M117.92 794.05h.01M119.43 860.2h.01M117.45 862.03h.01M119.89 861.98h.01M111.1 862.1h.01M128.8 862.1h.01M124.67 862.05h.01M125.42 846.33h.01M114.94 857.57h.01M126.62 859.56h.01" stroke="#ebcd8e" stroke-width="2.1" stroke-linecap="round" fill="none"/>
<path d="M119.46 789.53h.01M115.08 824.73h.01M123.33 857.87h.01M116.58 747.67h.01M122.26 850.2h.01M110.81 750.17h.01M111.34 862.04h.01M117.89 820.73h.01M114.96 826.99h.01M107.47 830.67h.01M117.53 800.01h.01M127.82 861.72h.01M113.25 857.73h.01M111.29 844.77h.01M119.5 804.47h.01M124.9 833.8h.01M122.86 837.28h.01M113.61 847.32h.01M115.84 814.53h.01M122.98 842.81h.01M118.39 830.77h.01M117.09 848.76h.01M113.28 847.25h.01M115.96 796.72h.01M121.3 809.06h.01M127.35 854.93h.01M127.33 854.3h.01M124.62 824.64h.01M125.73 850.52h.01M128.63 860.44h.01M112.42 861.31h.01M123.13 861.99h.01M117.13 784.61h.01M115.71 810.2h.01M119.58 834.05h.01M107.17 862.04h.01M118.78 857.85h.01M121.82 861.93h.01M115.45 862.09h.01M120.67 840.08h.01M114.94 779.34h.01M112.03 856.42h.01M118.07 861.77h.01M119.91 827.05h.01M118.83 862.08h.01M107.44 862.07h.01M121.24 862.09h.01M117.88 862.1h.01M117.07 795.59h.01M126.52 856.46h.01M125.43 856.95h.01M113.02 845.64h.01M110.92 861.15h.01M125.51 858.72h.01M120.95 828.24h.01M122.65 859.67h.01M117.04 843.05h.01M120.06 802.5h.01M121.44 860.4h.01M117.95 823.38h.01M125.87 862.09h.01M129.11 862.03h.01M116.67 837.01h.01M120.99 831.87h.01M117.81 831.45h.01M110.37 856.19h.01M113.96 861.01h.01M123.38 862.08h.01M112.8 855.21h.01M124.02 858.74h.01M109.73 852.15h.01M114.54 773.37h.01M110.4 722.36h.01M123.4 859.15h.01M110.49 848.13h.01M114.77 861.24h.01M126.55 862.1h.01M121.06 854.18h.01M111.18 744.11h.01" stroke="#b7cde6" stroke-width="2.1" stroke-linecap="round" fill="none"/>
<path d="M152.88 798.14h.01M149.79 832.21h.01M159.82 859.38h.01M151.22 861.57h.01M151.35 822.3h.01M153.34 833.96h.01M151.26 855.27h.01M143.04 846.48h.01M154.03 780.62h.01M150.66 855.83h.01M155.47 779.88h.01M142.55 853.02h.01M148.74 828.73h.01M142.96 860.82h.01M232.12 833.43h.01M141.77 861.59h.01M156.45 861.87h.01M145.91 850.41h.01M146.3 862.1h.01M154.3 831.63h.01M140.46 855.93h.01M150.16 844.57h.01M148.08 796.04h.01M151.41 821.74h.01M153.8 797.01h.01M144.66 861.46h.01M150.43 796.57h.01M143.42 860.38h.01M154.13 857.2h.01M151.12 825.8h.01M155.33 780.36h.01M157.7 842h.01M153.6 766.71h.01M141.17 846.22h.01M157.31 843.32h.01M149.25 862.08h.01M155.48 847.84h.01M188.58 819.75h.01M149.98 858.97h.01M168.43 841.89h.01M150.46 813.97h.01M157.87 838.38h.01M151.94 855.08h.01M147.78 838.85h.01M153.04 792.34h.01M146.61 818.6h.01M155.69 861.92h.01M144.72 840.67h.01M146.55 835.95h.01M194.3 846.7h.01M146.54 861.64h.01M150.45 768.29h.01" stroke="#dcc3e6" stroke-width="2.1" stroke-linecap="round" fill="none"/>
<path d="M142.34 841.34h.01M149.03 836.9h.01M149.65 858.26h.01M139.96 862.04h.01M145.42 861.98h.01M153.39 855.12h.01M154.91 862.09h.01M140.65 851.44h.01M145.21 849.42h.01M156.71 840.68h.01M145 813.56h.01M147 821.73h.01M153.16 843.59h.01M153.53 842.65h.01M150.66 823.83h.01M152.22 787.92h.01M155.89 846.56h.01M175.44 834.26h.01M148.86 819.05h.01M149.49 856.47h.01M155.89 857.77h.01M158.68 844.11h.01M141.15 862.09h.01M150.99 860.17h.01M148.93 844.29h.01M150.81 770.32h.01M151.78 861.85h.01M155.73 838.27h.01M142.27 845.18h.01M156.15 861.66h.01M156.79 765.28h.01M156.99 851.19h.01M153.71 799.42h.01M154.01 791.14h.01M154.72 825.84h.01M141.77 847.45h.01M145.71 849.15h.01M158.87 860.44h.01M141.47 862.03h.01M150.42 815.16h.01M155.75 846.85h.01M152.24 860.4h.01M141.63 861.98h.01M142.37 859.41h.01M147.64 799.01h.01M147.79 820.44h.01M144.94 862h.01M153.96 802.26h.01M156.66 857.99h.01M152.69 841.77h.01M152.17 857.87h.01M160.68 861.82h.01M144.5 843.48h.01M149.32 859.89h.01M155.22 821.46h.01M152.92 772.04h.01M141.79 861.75h.01M142.47 861.88h.01M143.45 862.08h.01M153.58 838.92h.01M142.97 859.05h.01M144.99 842.11h.01M142.49 861.54h.01M158.22 839.6h.01M147.3 861.93h.01M156.7 856.26h.01M152.79 862.09h.01M152.29 862.1h.01M151.89 786.07h.01M151.35 788.89h.01M143.89 842.53h.01M142.01 861.99h.01M156.93 860.45h.01M145.68 826.22h.01M144.34 859.87h.01M153.6 862.1h.01M150.18 859.51h.01M160.64 858.5h.01M154.69 860.17h.01M161.87 861.29h.01M152.29 854.9h.01M139.8 862.02h.01M153.65 819.31h.01M140.66 860.64h.01M161.69 714.2h.01M157.97 848.12h.01M154.24 858.98h.01M147.09 862.08h.01M149.17 791.41h.01M142.66 850.66h.01M154.24 763.53h.01M155.43 845.79h.01M149.26 846.76h.01M158.97 858.05h.01M146.16 862.01h.01M150.98 772.79h.01M153.98 862.09h.01M154.95 787.42h.01M150.3 846.65h.01M144.78 828.84h.01M150.5 861.13h.01M152.27 796.08h.01M159.05 860.89h.01M152.38 860.72h.01M150.85 854.81h.01M153.74 791.43h.01M150.82 860.95h.01M152.3 792.88h.01M149.28 861.71h.01M170.65 714.2h.01M152.13 788.87h.01M155.6 859.13h.01M159.1 861.34h.01" stroke="#ebcd8e" stroke-width="2.1" stroke-linecap="round" fill="none"/>
<path d="M119.04 862.09h.01M119.91 861.48h.01M110.35 862.1h.01M114.69 858.74h.01M110.45 861.52h.01M126.63 857.11h.01M115.7 835.62h.01M126.7 854.32h.01M114.75 843.24h.01M100.48 747.31h.01M118.78 829.23h.01M118.94 833.37h.01M118.64 800.13h.01M107.06 861.88h.01M112.75 860.28h.01M118.47 855.67h.01M122.47 850.37h.01M124.35 833.79h.01M115.18 853.57h.01M111.85 746.43h.01M117.03 862.1h.01M116.77 861.43h.01M116.98 856.71h.01M128.48 862.08h.01M120.63 853.75h.01M114.56 806.49h.01M114.29 779.67h.01M120.08 840.45h.01M128.77 862.1h.01M128.99 862.1h.01M122.29 858.13h.01M117.54 798.82h.01M124.47 860.5h.01M113.41 861.75h.01M115.4 791.99h.01M121.61 861.18h.01M117.85 841.85h.01M127.06 851.58h.01M114.03 795.33h.01M112.02 862.08h.01M111.79 859.94h.01M107.51 862h.01M122.06 859.4h.01M115.12 857.17h.01M117.96 790.58h.01M124.92 834.97h.01M122.92 862.1h.01M126.52 856.93h.01M118.83 838.68h.01M116.64 829.72h.01M82.01 765.65h.01M117.73 841.07h.01M116.31 807.81h.01" stroke="#ebcd8e" stroke-width="2.1" stroke-linecap="round" fill="none"/>
<path d="M120.86 862.09h.01M125.1 839.87h.01M115.3 821.24h.01M127.16 861.24h.01M119 854.64h.01M121.82 856.46h.01M112.52 844.57h.01M114.17 850.12h.01M123.06 818.53h.01M109.97 853.48h.01M121.76 806.75h.01M124.69 858.36h.01M116.23 770.07h.01M112.9 862.1h.01M114.87 840.13h.01M125.22 839.02h.01M112.63 861.76h.01M109.38 861.51h.01M118.77 784.97h.01M119.5 861.95h.01M110.5 855.89h.01M87.57 839.23h.01M118.16 790.35h.01M114.12 835.66h.01M128.71 860.14h.01M118.87 861.54h.01M127.79 861.89h.01M114.75 838.25h.01M121.28 829.87h.01M120.68 857.25h.01M125.58 861.45h.01M117.04 847.54h.01M111.82 853.46h.01M116.69 797.69h.01M114.54 760.55h.01M121.8 858.97h.01M119.05 821.24h.01M118.03 819.9h.01M124.83 841.96h.01M112.53 857.97h.01M117.52 861.77h.01M117.05 785.91h.01M121.58 847.52h.01M109.56 770.05h.01M122.51 855.41h.01M107.7 862.1h.01M115.92 854.23h.01M116.51 823.73h.01M109.85 861.85h.01M121.34 817.26h.01M115.76 858.04h.01M115.53 861.1h.01M120.56 852.79h.01M122.48 861.55h.01M127.31 862.1h.01M124.98 791.65h.01M127.38 853.91h.01M116.67 771.85h.01M127.06 861.44h.01M127.84 862.08h.01M110.19 861.53h.01M115.83 797.02h.01M116.92 857.72h.01M119.83 795.76h.01M110.79 855.63h.01M129.15 861.76h.01M115.28 768.96h.01M121.16 825.74h.01M112.81 862.1h.01M116.13 848.5h.01M127.19 862.02h.01M118.6 861.44h.01M106.82 861.92h.01M66.57 849.4h.01M114.6 799.73h.01M129.06 860.08h.01" stroke="#b7cde6" stroke-width="2.1" stroke-linecap="round" fill="none"/>
<path d="M160.32 860.32h.01M151.97 771.76h.01M153.47 821.45h.01M145.39 861.91h.01M148.32 811.43h.01M150.75 856.14h.01M155.12 816.19h.01M144.57 853.87h.01M149.97 844.03h.01M170.93 846.88h.01M146.98 851.9h.01M161.59 862.1h.01M149.76 857.11h.01M149.34 820.86h.01M175.65 847.47h.01M151.85 806.03h.01M160.46 832.31h.01M146.77 828.23h.01M151.79 788.84h.01M140.47 860.03h.01M172.66 861.08h.01M147.57 840.49h.01M157.48 840.88h.01M161.28 861.9h.01M149.16 803.84h.01M150.42 772.48h.01M151.87 781.29h.01M150.59 859.98h.01M149.02 792.8h.01M150.31 775.93h.01M144.1 861.3h.01M160.57 861.81h.01M146.29 861.93h.01M153.24 796.69h.01M145.56 830.75h.01M141.54 860.25h.01M149.93 813.37h.01M160.01 859.37h.01M145.79 814.09h.01M149.53 824.9h.01M153.85 841.26h.01M155.57 814.89h.01M148.04 856.53h.01M142.11 849.9h.01M141.44 856.82h.01M149.58 845.16h.01M149.1 779.91h.01M153.94 773.09h.01M158.75 845.62h.01M156.02 833.55h.01M156.1 854.15h.01M151.01 861.9h.01" stroke="#dcc3e6" stroke-width="2.1" stroke-linecap="round" fill="none"/>
<path d="M145.04 823.14h.01M150.44 784.19h.01M143.62 853.3h.01M153.02 798.86h.01M153.34 812.78h.01M169.07 852.32h.01M148.48 800.49h.01M154.25 857.3h.01M160.84 857.32h.01M141.63 861.33h.01M159.05 848.94h.01M151.32 786.42h.01M168.16 714.2h.01M143.17 862.01h.01M144.08 859.81h.01M154.9 860.97h.01M149.44 854.14h.01M150.99 862.01h.01M212.25 845.57h.01M149.53 794.14h.01M151.8 775.09h.01M161.01 859.81h.01M151.31 768.02h.01M143.77 862.1h.01M151.93 798.95h.01M143.69 859.35h.01M146.9 861.92h.01M157.95 852.55h.01M142.11 858.02h.01M143.52 852.18h.01M149.52 852.36h.01M147.32 857.49h.01M171.65 807.99h.01M149.71 792.19h.01M142.24 861.13h.01M159.25 861.98h.01M147.1 858.45h.01M156.04 860.41h.01M141.2 861.84h.01M147.08 806.99h.01M155.74 775.98h.01M154.12 822.14h.01M143.89 830.98h.01M150.63 855.84h.01M146.46 829.23h.01M156.21 714.2h.01M154.56 859.02h.01M153.49 850.91h.01M148.91 842.38h.01M156.32 858.64h.01M153.98 775.02h.01M155.39 784.04h.01M160.47 860.16h.01M147.99 861.6h.01M152.38 790.77h.01M149.99 842.25h.01M142.83 848.77h.01M144.45 861.98h.01M154.28 858.25h.01M141.17 862.1h.01M149.8 827.19h.01M155.47 857.62h.01M152.79 827.34h.01M151.69 810.57h.01M156.18 860.6h.01M153.12 861.91h.01M144.94 808.98h.01M157.35 861.83h.01M159.45 859.99h.01M148.01 840.06h.01M143.94 836.29h.01M169.08 861.81h.01M148.69 861.38h.01M153.12 801.3h.01M147.19 862.09h.01M143.69 846.52h.01M153.9 850.64h.01M168.6 837.44h.01M153.1 860.37h.01M153.23 830.97h.01M208.22 834.66h.01M151.6 859.47h.01M147.77 832.06h.01M152.75 793.32h.01M152.08 809.51h.01M154.29 793.9h.01M155.57 861.79h.01M142.82 846.51h.01M146.3 808.87h.01M157.95 843.93h.01M149.41 800.48h.01M148.15 832.98h.01M158.29 839.37h.01M151.02 805.4h.01M147.18 848.56h.01M144.05 861.12h.01M151.76 768.08h.01M155.09 826.32h.01M149.78 830.3h.01M143 861.98h.01M148.04 809.37h.01M157.83 861.24h.01M141.56 860.33h.01M155.13 804.85h.01M155.88 857.2h.01M155.41 817.84h.01M144.04 834.25h.01M153.23 861.65h.01M146.68 833.31h.01M155.16 856.67h.01" stroke="#ebcd8e" stroke-width="2.1" stroke-linecap="round" fill="none"/>
</g>
<rect x="57.6" y="714.2" width="155.4" height="155" fill="none" stroke="#4d4d4d" stroke-width="0.9"/>
<line x1="56" y1="862.1" x2="57.6" y2="862.1" stroke="#4d4d4d" stroke-width="0.8"/>
<text x="54.7" y="864.3" font-size="8.6" text-anchor="end" fill="#4d4d4d" stroke="#4d4d4d">0</text>
<line x1="56" y1="815.05" x2="57.6" y2="815.05" stroke="#4d4d4d" stroke-width="0.8"/>
<text x="55.89" y="817.25" font-size="8.6" text-anchor="end" fill="#4d4d4d" stroke="#4d4d4d">100</text>
<line x1="56" y1="768" x2="57.6" y2="768" stroke="#4d4d4d" stroke-width="0.8"/>
<text x="55.89" y="770.2" font-size="8.6" text-anchor="end" fill="#4d4d4d" stroke="#4d4d4d">200</text>
<line x1="56" y1="720.95" x2="57.6" y2="720.95" stroke="#4d4d4d" stroke-width="0.8"/>
<text x="55.89" y="723.15" font-size="8.6" text-anchor="end" fill="#4d4d4d" stroke="#4d4d4d">300</text>
<line x1="59.6" y1="869.2" x2="59.6" y2="870.8" stroke="#4d4d4d" stroke-width="0.8"/>
<text x="61.1" y="878.2" font-size="8.6" text-anchor="middle" fill="#4d4d4d" stroke="#4d4d4d">−15</text>
<line x1="84.5" y1="869.2" x2="84.5" y2="870.8" stroke="#4d4d4d" stroke-width="0.8"/>
<text x="86" y="878.2" font-size="8.6" text-anchor="middle" fill="#4d4d4d" stroke="#4d4d4d">−10</text>
<line x1="109.4" y1="869.2" x2="109.4" y2="870.8" stroke="#4d4d4d" stroke-width="0.8"/>
<text x="110.9" y="878.2" font-size="8.6" text-anchor="middle" fill="#4d4d4d" stroke="#4d4d4d">−5</text>
<line x1="134.3" y1="869.2" x2="134.3" y2="870.8" stroke="#4d4d4d" stroke-width="0.8"/>
<text x="134.3" y="878.2" font-size="8.6" text-anchor="middle" fill="#4d4d4d" stroke="#4d4d4d">0</text>
<line x1="159.2" y1="869.2" x2="159.2" y2="870.8" stroke="#4d4d4d" stroke-width="0.8"/>
<text x="159.2" y="878.2" font-size="8.6" text-anchor="middle" fill="#4d4d4d" stroke="#4d4d4d">5</text>
<line x1="184.1" y1="869.2" x2="184.1" y2="870.8" stroke="#4d4d4d" stroke-width="0.8"/>
<text x="184.1" y="878.2" font-size="8.6" text-anchor="middle" fill="#4d4d4d" stroke="#4d4d4d">10</text>
<line x1="209" y1="869.2" x2="209" y2="870.8" stroke="#4d4d4d" stroke-width="0.8"/>
<text x="209" y="878.2" font-size="8.6" text-anchor="middle" fill="#4d4d4d" stroke="#4d4d4d">15</text>
<text x="135.5" y="707.9" font-size="8.9" text-anchor="middle" fill="#000">SC5314 SD vs. SC5314 YC</text>
<text x="128.2" y="890.4" font-size="9" text-anchor="middle" fill="#000">log<tspan font-size="5.6" dy="2.2">2</tspan><tspan dy="-2.2">(Fold Change)</tspan></text>
<text transform="translate(33.4,800.8) rotate(-90)" font-size="9.2" text-anchor="middle" fill="#000">-log<tspan font-size="5.4" dy="2.4">10</tspan><tspan dy="-2.4">(adj.  </tspan><tspan font-style="italic">p</tspan>- value)</text>
<text x="145" y="782.6" font-size="8.6" text-anchor="start" fill="#1a1a1a" stroke="#1a1a1a" font-style="italic">PUT2</text>
<line x1="153.2" y1="775.2" x2="156.1" y2="772.7" stroke="#1a1a1a" stroke-width="0.8"/>
<circle cx="156.1" cy="772.7" r="1.1" fill="#1a1a1a"/>
<text x="143.2" y="810.4" font-size="8.5" text-anchor="start" fill="#1a1a1a" stroke="#1a1a1a" font-style="italic">GDH2</text>
<line x1="151" y1="811.6" x2="153.4" y2="814.3" stroke="#1a1a1a" stroke-width="0.8"/>
<circle cx="153.4" cy="814.3" r="1.1" fill="#1a1a1a"/>
<text x="154.6" y="828" font-size="8.4" text-anchor="start" fill="#1a1a1a" stroke="#1a1a1a" font-style="italic">CAR1</text>
<line x1="155.3" y1="821" x2="152.6" y2="818.2" stroke="#1a1a1a" stroke-width="0.8"/>
<circle cx="152.6" cy="818.2" r="1.1" fill="#1a1a1a"/>
<text x="127.5" y="850.5" font-size="8.1" text-anchor="start" fill="#1a1a1a" stroke="#1a1a1a" font-style="italic">MIG1</text>
<line x1="141.7" y1="843.2" x2="144.6" y2="840.3" stroke="#1a1a1a" stroke-width="0.8"/>
<circle cx="144.6" cy="840.3" r="1.1" fill="#1a1a1a"/>
<text x="99.7" y="867.2" font-size="8.6" text-anchor="start" fill="#1a1a1a" stroke="#1a1a1a" font-style="italic">STP2</text>
<line x1="120.9" y1="863.6" x2="124.2" y2="860.7" stroke="#1a1a1a" stroke-width="0.8"/>
<circle cx="124.2" cy="860.7" r="1.1" fill="#1a1a1a"/>
<text x="150.8" y="864.8" font-size="8.2" text-anchor="start" fill="#1a1a1a" stroke="#1a1a1a" font-style="italic">PUT1</text>
<line x1="160.4" y1="857.8" x2="162.7" y2="854.9" stroke="#1a1a1a" stroke-width="0.8"/>
<circle cx="162.7" cy="854.9" r="1.1" fill="#1a1a1a"/>
<clipPath id="v2"><rect x="258.6" y="713" width="155.4" height="156.1"/></clipPath>
<g clip-path="url(#v2)">
<line x1="335.4" y1="714.2" x2="335.4" y2="869.1" stroke="#c8c8c8" stroke-width="0.7" stroke-dasharray="2.6 2.5"/>
<line x1="347.4" y1="714.2" x2="347.4" y2="869.1" stroke="#c8c8c8" stroke-width="0.7" stroke-dasharray="2.6 2.5"/>
<line x1="258.6" y1="861.8" x2="414" y2="861.8" stroke="#c8c8c8" stroke-width="0.7" stroke-dasharray="2.6 2.5"/>
<path d="M339.44 860.26h.01M342.76 853.29h.01M340.38 859.29h.01M343.8 843.86h.01M339.22 860.6h.01M344.03 858.89h.01M336.02 859.52h.01M339.61 859.44h.01M339.64 859.98h.01M342.46 856.5h.01M340.81 856.34h.01M337.82 861.17h.01M331.07 859.77h.01M341.22 860.68h.01M338.57 861.54h.01M341.46 852.91h.01M332.5 856.66h.01M340.79 861.4h.01M337.4 861.68h.01M340.28 858.44h.01M332.42 858.12h.01M335.91 859.54h.01M338.15 861.69h.01M335.72 861.58h.01M331.73 861.27h.01M344.92 861.33h.01M339.35 861.58h.01M334.5 854.42h.01M336.32 861.26h.01M340.59 860.03h.01M345.21 861.33h.01M335.07 853.91h.01M343.93 845.51h.01M334.19 856.05h.01M338.89 861.21h.01M344.78 860.39h.01M332.95 843.38h.01M345.66 859.7h.01M342.02 850.9h.01M342.06 854.64h.01M338.95 861.04h.01M331.61 861.52h.01M343.82 859.22h.01M335 854.23h.01M333.14 857.82h.01M338.16 861.65h.01M345.43 861.75h.01M333.4 848.39h.01M340.52 856.77h.01M338.41 861.74h.01M343.25 854.97h.01M343.11 851.97h.01M332.4 860.96h.01M338.06 861.68h.01M345.54 860.46h.01M342 857.76h.01M340.99 858.6h.01M334.12 860.5h.01M339.62 859.72h.01M339.14 861.18h.01M332.32 857.32h.01M343.82 853.75h.01M339.88 861.03h.01M334.44 860.74h.01M345.63 860.6h.01M333.22 853.56h.01M345.37 861.79h.01M336.95 859.82h.01M335.92 861.45h.01M340.99 858.23h.01M344.25 841.1h.01M339.96 858.65h.01M341.9 860.72h.01M339.8 859h.01M342.56 853.33h.01M341.96 852.55h.01M343.15 857.48h.01M345.56 861.54h.01M335.29 860.83h.01M338.69 861.69h.01M337.4 861.08h.01M339.52 860.84h.01M332.48 861.74h.01M344.31 860.01h.01M331.9 860.31h.01M340.36 856.81h.01M334.78 852.29h.01M345.37 860.2h.01M332.14 859.58h.01M343.25 851.14h.01M335.77 860.61h.01M337.2 860.25h.01M331.4 859.41h.01M339.83 858.45h.01M332.55 850.76h.01M334.43 853.71h.01M345.31 859.13h.01M342.22 858.8h.01M343.25 850.09h.01M340.79 855.5h.01M332.77 846.59h.01M343.61 861.68h.01M339.51 860.34h.01M337.47 861.2h.01M332.23 859.4h.01M342.56 861.45h.01M339.51 860.76h.01M344.17 844.53h.01M336.62 860.56h.01M331.25 861.33h.01M342.39 854.68h.01M338.39 861.79h.01M332.75 857.45h.01M333.25 859.32h.01M335.72 857.67h.01M338.47 861.7h.01M338.38 861.79h.01M336.93 859.65h.01M331.14 859.25h.01M345.41 860.92h.01M335.4 860.92h.01M331.74 860.46h.01M331.45 859.45h.01M340.32 859.51h.01M335.84 861.37h.01M334.64 850.63h.01M343.54 858.19h.01M343.67 861.2h.01M333.59 855.36h.01M333.47 848.36h.01M342.6 850.76h.01M339.95 859.11h.01M344.64 859.93h.01M345.77 860.59h.01M338.53 861.57h.01M332.83 852.46h.01M338.82 861.22h.01M342.57 854.84h.01M345.21 859.4h.01M339.51 859.68h.01M344.38 859.38h.01M337.02 861.13h.01M337.28 860.68h.01M338.92 861.01h.01M344.85 861.43h.01M334.44 856.89h.01M336.09 861.66h.01M333.62 858.02h.01M339.03 861.33h.01M343.45 861.58h.01M341.39 858.18h.01M342.71 858.05h.01M344.73 861.38h.01M344.24 846.81h.01M342.32 855.69h.01M344.56 859.51h.01M342.85 847.76h.01M333.11 846.77h.01M333.16 849.69h.01M334.87 857.33h.01M334.88 860.23h.01M338.72 861.21h.01M336.15 860.58h.01M342.9 857.28h.01M332.36 860.39h.01M341.29 853.46h.01M341.12 856.92h.01M341.42 854.72h.01M345.65 861.38h.01M345.78 860.69h.01M344.25 842.66h.01M336.7 860.04h.01M333.16 845.06h.01M341.36 855.69h.01M334.07 851.34h.01M344.98 860.52h.01M332.11 861.65h.01M337.24 860.77h.01M344.78 861.46h.01M338.96 860.97h.01M334.49 854.5h.01M331.58 860.15h.01M344.56 860.97h.01M331.64 859.9h.01M341.9 857.87h.01M336.91 859.17h.01M339.82 860.67h.01M332.54 846.82h.01M335.28 853.53h.01M343.38 853.51h.01M334.03 861.31h.01M338.86 861.07h.01M332.17 860.76h.01M337.9 861.4h.01M337.6 860.85h.01M334.2 851.9h.01M338.03 861.56h.01M340.06 857.83h.01M345.4 859.82h.01M338.8 861.23h.01M334.34 855.82h.01M337.06 860.56h.01M344.52 860.55h.01M331.5 861.1h.01M336.67 861.05h.01M335.19 858.36h.01M337.74 861.31h.01M340.37 858.2h.01M337.91 861.52h.01M338.53 861.59h.01M336.15 856.23h.01M342.9 848.76h.01M332.96 857.09h.01M340.07 857.93h.01M337.56 860.62h.01M339.82 861.78h.01M345.38 860.74h.01M342.98 858.08h.01M340.47 857.98h.01M336.67 858.38h.01M332.73 857.65h.01M339.34 860.16h.01M331.16 861.18h.01M338.64 861.53h.01M341.81 857.08h.01M342.47 857.19h.01M345.01 861.34h.01M335.64 854.75h.01M341.18 858.81h.01M332.42 846.88h.01M341.56 860.18h.01M336.29 857.49h.01M340.03 857.67h.01M339.96 860.97h.01M338.49 861.62h.01M345.77 861.39h.01M343.29 849.37h.01M332.76 851.9h.01M345.1 860.29h.01M332.26 860.76h.01M338.95 861.39h.01M344.92 859.99h.01M342.93 849.07h.01M338.34 861.77h.01M341.33 858.42h.01M338.17 861.71h.01M339.22 860.49h.01M337.04 859.41h.01M343.81 857.91h.01M342.23 859.34h.01M336.28 857.75h.01M331.26 861.19h.01M343.59 850.8h.01M338.84 860.91h.01M336.03 855.97h.01M341.9 855.95h.01M337.93 861.33h.01M331.59 860.82h.01M341.31 853.63h.01M340.85 860.5h.01M352.96 861.25h.01M320.13 861.59h.01M339.22 861.4h.01M334.14 861.3h.01M331.09 861.41h.01M336.53 861.37h.01M331.74 861.67h.01M340.48 861.13h.01M342.42 861.67h.01M336.62 861.42h.01M343.11 861.11h.01M328.27 861.56h.01M334.04 861.26h.01M341.14 861.64h.01M339.39 861.68h.01M357.08 861.57h.01M342.43 861.65h.01M333.33 861.18h.01M344.81 861.33h.01M333.95 861.37h.01M340.01 861.7h.01M326.09 861.32h.01M346.76 861.75h.01M351.5 861.67h.01M322.74 861.55h.01M338.1 861.53h.01M345.72 861.59h.01M348.8 861.58h.01M344.63 861.69h.01M339.08 861.72h.01M342.05 861.45h.01M353.82 861.16h.01M329.17 861.4h.01M334.9 861.31h.01M339.74 861.35h.01M344.62 861.34h.01M329.36 861.22h.01M338.02 861.7h.01M347.87 861.25h.01M346.12 861.57h.01M345.1 861.62h.01M336.63 861.35h.01M336.44 861.74h.01M337.46 861.72h.01M337.19 861.28h.01M339.83 861.35h.01M332.24 861.69h.01M335.77 861.15h.01M331.56 861.48h.01M340.28 861.42h.01M346.34 861.61h.01M331.94 861.74h.01M348.49 861.31h.01M326.92 861.65h.01M345.67 861.31h.01M331.92 861.78h.01M323.62 861.24h.01M337.22 861.24h.01M332.53 861.2h.01M340.93 861.17h.01M347.53 861.16h.01M333.9 861.79h.01M342.6 861.66h.01M334.97 861.5h.01M334.5 861.66h.01" stroke="#dcdcdc" stroke-width="2.1" stroke-linecap="round" fill="none"/>
<path d="M320.94 861.77h.01M311.77 852.7h.01M326.58 816.89h.01M321.42 777.78h.01M322.74 836.49h.01M314.61 861.76h.01M313.03 860.25h.01M322.87 822.16h.01M327.5 849.7h.01M305.71 861.71h.01M310.9 854.12h.01M308 774.43h.01M329.73 861.32h.01M322.48 843.27h.01M318.45 825.1h.01M321.35 855.63h.01M329.43 852.86h.01M308.73 854.72h.01M329.54 858.99h.01M312.81 861.52h.01M319.09 834.34h.01M318.17 751.03h.01M319.9 848.85h.01M324.73 816.82h.01M331.54 861.61h.01M320.35 714.2h.01M327.96 821.46h.01M328.31 853.64h.01M325.5 819.55h.01M324.56 791.3h.01M311.93 814.35h.01M325.18 856.35h.01M326.54 854.88h.01M322.85 857.86h.01M326.6 860.74h.01M318.09 832.15h.01M316.26 850.36h.01M316.63 829.75h.01M308.92 860.65h.01M329.99 861.44h.01M308.43 861.79h.01M324.52 842.62h.01M316.18 839.73h.01M306.67 860.77h.01M325.57 852.44h.01M322.42 839.74h.01M325.23 834.63h.01M325.27 847.1h.01M322.75 823.96h.01M307.57 855.79h.01M319.58 857.57h.01M320.75 776.1h.01M328.16 861.33h.01M313.15 846.9h.01M330.33 861.59h.01M316.85 772.77h.01M315.71 861.66h.01M322.58 817.59h.01M318.77 842.86h.01M310.6 772.35h.01M319.72 827.93h.01M323.91 821.75h.01M328.83 860.87h.01M315.49 860.41h.01M308.89 861.78h.01M327.56 859.48h.01M329.66 857.76h.01M324.15 861.42h.01" stroke="#ebcd8e" stroke-width="2.1" stroke-linecap="round" fill="none"/>
<path d="M324.81 849.42h.01M306.45 791.44h.01M316.44 858.96h.01M318.01 848.3h.01M324.18 854.4h.01M298.88 860.55h.01M327.86 859.55h.01M311.32 861.55h.01M305.15 861.28h.01M318.53 846.79h.01M323.61 847.93h.01M320.05 831.34h.01M298.74 847.31h.01M328.51 861.79h.01M320.41 762.25h.01M323.91 837.28h.01M319.16 767.95h.01M330.44 861.7h.01M331.41 861.29h.01M326.32 854.62h.01M322.91 852.78h.01M310.6 860.89h.01M323.11 853.72h.01M323.27 824.81h.01M305.76 861.69h.01M323.71 846.43h.01M327.35 840.59h.01M325.31 860.13h.01M319.59 823.64h.01M317.96 857.81h.01M328.44 861.72h.01M329.95 860.62h.01M320.92 822.96h.01M326.14 854.81h.01M309.31 849.34h.01M305.52 861.55h.01M311.9 858.18h.01M329.74 845h.01M314.66 842.75h.01M315.44 840.83h.01M326.86 852.65h.01" stroke="#b7cde6" stroke-width="2.1" stroke-linecap="round" fill="none"/>
<path d="M359.31 856.31h.01M356.82 861.58h.01M349.05 836.32h.01M360.69 860.37h.01M351.55 806.65h.01M349.13 861.63h.01M365.5 855.37h.01M358.25 840.23h.01M364.84 861.24h.01M361.55 839.57h.01M349.26 846.42h.01M347.98 838.16h.01M364.17 856.46h.01M356.31 810.54h.01M357.77 845.7h.01M357.33 857.38h.01M353.75 811.53h.01M364.88 849.77h.01M345.93 861.79h.01M357.46 840.2h.01M349.34 837.99h.01M346.13 861.53h.01M364.32 861.8h.01M352.48 814.45h.01M350.17 859.85h.01M344.81 858.48h.01M365.91 859h.01M348.59 836.03h.01M362.43 858.25h.01M350.4 861.49h.01M353.86 860.32h.01M353.96 850.35h.01M354.48 847.63h.01M358.28 837.03h.01M350.87 845.03h.01M357.73 861.13h.01M362.76 856.74h.01M355.84 852.37h.01M364.56 861.73h.01M383.19 736.38h.01M356.42 853.88h.01M358.95 858.49h.01M350.76 827.38h.01M355.24 861.34h.01M386.18 745.67h.01M346.3 858.69h.01M357.13 823.65h.01M346.1 859.04h.01M356.5 832.78h.01M349.49 852.98h.01M354.41 861.8h.01M349.2 841.23h.01M361.21 827.85h.01M364.4 860.75h.01M350.47 829.65h.01M358.81 861.01h.01M353.5 806.14h.01M351.32 860.37h.01M368.03 756.79h.01M354.18 807.77h.01M357.68 860.1h.01" stroke="#dcc3e6" stroke-width="2.1" stroke-linecap="round" fill="none"/>
<path d="M349.41 861.7h.01M349.86 831.07h.01M352.47 834.32h.01M352.13 815.7h.01M351.62 859h.01M362.71 861.32h.01M354.52 820.83h.01M351.66 812.7h.01M355.91 860.24h.01M348.12 813.95h.01M355.28 725.57h.01M355.4 861.69h.01M352.4 825.93h.01M360.27 848.95h.01M354.34 858.95h.01M354.21 812.4h.01M349.14 859.73h.01M360.37 845.7h.01M366.24 860.9h.01M362.36 856.11h.01M351.57 807.01h.01M363.75 859.27h.01M368.73 774.45h.01M361.45 861.62h.01M354.87 818.42h.01M351.84 860.22h.01M348.86 861.78h.01M364.2 857.54h.01M349.91 860.7h.01M356.53 853.39h.01M347.29 861.77h.01M353.34 811.44h.01M355.24 836.06h.01M359.03 841.6h.01M355.24 831.86h.01M361.86 834.41h.01M357.09 855.03h.01M366.16 861.77h.01M352.8 842.2h.01M353.14 819.17h.01M350.49 858.64h.01M351.72 861.64h.01M348.31 837.34h.01M360.22 858.24h.01M348.64 810.76h.01M346.93 836.65h.01M355.8 837.98h.01M360.54 827.69h.01M354.1 853.65h.01M351.5 856.64h.01M350.49 861.12h.01M365.07 861.69h.01M348.33 827.51h.01M353.92 820.86h.01M355.59 823.29h.01M360.81 860.36h.01M362.3 859.67h.01M353.22 855.71h.01M356.46 855.78h.01M349.26 824.33h.01M353.62 861.65h.01M359.37 839.19h.01M357.35 831.82h.01M352.2 860.53h.01M353.16 809.89h.01M352.39 820.22h.01M344.95 853.98h.01M345.6 859.35h.01M353.15 846.29h.01M350.74 820.57h.01M350.1 860.54h.01M346.85 847h.01M354.37 804.87h.01M363.86 788.84h.01M362.45 854.2h.01M370.43 772.11h.01M359.49 861.38h.01M356.11 854.02h.01M358.83 858.86h.01M347.34 847.63h.01M351.66 854.96h.01M347.2 819.05h.01M355.14 857.36h.01M347.34 838.29h.01M345.68 860.17h.01M356.39 861.69h.01M353.94 860.85h.01M366.18 861.66h.01M363.42 860.14h.01M355.57 860.15h.01M360.59 858.56h.01M358.74 833.01h.01M348.28 859.27h.01M354.65 814.37h.01M358.38 835.04h.01M350.9 836.77h.01M359.29 861.58h.01M348 857.63h.01M354.74 855.41h.01M350.14 854.7h.01M350.15 858.12h.01M359.2 859.17h.01M355.56 821.37h.01M354.85 861.2h.01M356.72 827.26h.01M351.4 811.73h.01M366.76 861.5h.01M360.41 842.56h.01M357.19 812.8h.01M360.61 833.71h.01M360.24 845.11h.01M346.83 846.84h.01M348.38 830.73h.01M361.83 861.8h.01M360.5 834.16h.01M357.46 835.81h.01M363.82 856.45h.01M349.83 840.95h.01M362.83 860.59h.01M357.12 852.35h.01M376.47 837.5h.01M357.84 825.32h.01M350.39 811.57h.01M352.32 812.14h.01M362.37 850.39h.01M396.35 714.2h.01M407.13 714.2h.01M356.09 814.01h.01M356.43 846.34h.01M345.48 843.26h.01M353.23 842.34h.01M365.44 777.91h.01M364.67 848.87h.01M360.41 846.42h.01M361.35 861.75h.01M363.08 854.85h.01M351.44 861.79h.01M360.99 855.45h.01M352.37 853h.01M358.44 847.54h.01M350.49 828.8h.01M361.6 832.44h.01M356.23 829.02h.01M352.87 847.67h.01M351.56 830.87h.01M351.18 835.69h.01M353.4 808.35h.01M348.03 853.23h.01M350.09 861.8h.01M359.31 859.33h.01M353.54 854.81h.01M347.3 861.72h.01M365.88 861.78h.01M362.21 852.49h.01M364.82 861.8h.01M356.71 859.4h.01M356.84 855.35h.01M353.88 860.01h.01M359.63 841.89h.01M349.22 861.8h.01M349.26 861.79h.01M347.8 856.58h.01M347.05 828.41h.01M345.58 861.78h.01M362.17 847.3h.01M357.9 823.21h.01M350.19 831.35h.01M345.95 851.25h.01M358.88 818.62h.01M349.68 804.95h.01M364.69 861.33h.01M358.36 858.03h.01M362.95 844.03h.01M358.38 856.87h.01M380.19 714.2h.01M368.63 846.64h.01M348.7 830.97h.01M365.3 861.78h.01M352.36 851.08h.01M363.77 850.98h.01M375.06 821.94h.01M356.06 776.74h.01M345.75 847.85h.01M347.87 814.31h.01M352.95 860.29h.01M353.51 825.69h.01M349.36 857.63h.01M356.77 826.47h.01M349.44 803.19h.01M347.45 839.58h.01M357.23 834.75h.01M353.31 811.72h.01M353.1 854.53h.01M348.9 809.44h.01M348.46 854.02h.01M352.55 859.47h.01M347.64 843.15h.01M352.75 829.83h.01M361.29 851.04h.01M359.47 726.27h.01M363.09 750.69h.01M351.57 815.22h.01M352.32 836.5h.01M358.34 861.57h.01M363.22 860.23h.01M353.62 794.7h.01M349.13 828.55h.01" stroke="#ebcd8e" stroke-width="2.1" stroke-linecap="round" fill="none"/>
<path d="M322.95 860.11h.01M315.06 841.26h.01M327.51 857.8h.01M324.91 817.11h.01M307.93 861.55h.01M314.5 841.79h.01M316.19 747.56h.01M313.59 855.25h.01M311.66 859.3h.01M315.08 861.73h.01M306.61 860.44h.01M311.55 843.92h.01M331.01 855.83h.01M321.09 830.63h.01M315.73 838.34h.01M312.98 855.99h.01M320.75 836.56h.01M306.68 856.81h.01M309 859.61h.01M313.78 852.31h.01M309.69 859.36h.01M326.03 848.83h.01M325.86 853.28h.01M321.77 835.96h.01M329.17 834.31h.01M329.29 843.57h.01M317.71 830.59h.01M309.25 849.61h.01M329.01 841.28h.01M311.17 846.87h.01M310.83 860.73h.01M317.61 841.46h.01M325.22 818.87h.01M263.49 850.19h.01M323.75 801.4h.01M322.55 829.18h.01M327.44 857.79h.01M325.39 856.22h.01M312.02 861.52h.01M317.06 859.64h.01M317.54 848.69h.01M315.26 860.95h.01M313.76 847.89h.01M309.57 731.74h.01M307.24 848.48h.01M317.64 843.68h.01M325.42 854.11h.01M320.51 857.21h.01M317.21 830.26h.01M319.39 844.45h.01M319.27 811.84h.01M327.19 857.68h.01M326.78 860.53h.01M307.27 854.99h.01M322.12 825.01h.01M315.72 833.84h.01M319.09 838.54h.01M320.16 786.04h.01M323.02 861.13h.01M306.58 856.73h.01M309.4 851.63h.01M323.55 835.02h.01M323.68 861.8h.01M326.73 859.76h.01M319.87 834.75h.01M315.99 852.49h.01M308.38 766.58h.01M328.36 859.36h.01" stroke="#ebcd8e" stroke-width="2.1" stroke-linecap="round" fill="none"/>
<path d="M323.71 843.53h.01M324.07 841.38h.01M326.03 859.05h.01M329.43 845.69h.01M329.63 853.24h.01M327.1 824.63h.01M315.66 861.58h.01M316.08 841h.01M309.15 860.79h.01M312.74 858.6h.01M327.8 860.23h.01M320.81 824.49h.01M327.95 840.38h.01M323.23 820.19h.01M308.88 858.82h.01M318.46 858.94h.01M321.28 861.8h.01M321.32 817.55h.01M314.26 778.73h.01M315.64 846.78h.01M320.98 854.68h.01M313.63 760.1h.01M323.63 848.66h.01M315.65 834.36h.01M315.51 859.93h.01M314.49 852.31h.01M319.58 855.99h.01M313.55 837.7h.01M326.03 756.84h.01M323.92 861.71h.01M313.23 858.77h.01M327.89 861.76h.01M316 840.06h.01M316.79 860.85h.01M322.55 802.78h.01M326.49 828.86h.01M326.59 806.36h.01M328.9 853.87h.01M324.02 820.12h.01M322.79 859.45h.01M324.34 821.1h.01" stroke="#b7cde6" stroke-width="2.1" stroke-linecap="round" fill="none"/>
<path d="M357.18 855.63h.01M355.07 852.84h.01M352.1 842.36h.01M356.92 861.7h.01M364.5 858.32h.01M393.85 857.21h.01M360.44 842.84h.01M349.56 850.54h.01M360.23 855.26h.01M356.92 857.07h.01M355.34 860.23h.01M352.66 818.17h.01M348.25 847.03h.01M360.3 824.35h.01M348.46 823.57h.01M366.34 858.56h.01M357.36 858.43h.01M358.65 858.67h.01M346.47 860.82h.01M357.76 819.52h.01M353.72 861.79h.01M348.62 820.42h.01M364.49 859.65h.01M358.23 838.03h.01M362.04 860.69h.01M350.79 831.84h.01M363.57 861.76h.01M372.41 856.99h.01M351.22 825.18h.01M357.01 853.3h.01M353.87 846.56h.01M360.71 861.34h.01M357.89 856.17h.01M371.93 808.49h.01M363.6 858.19h.01M367.55 738.91h.01M359.2 861.79h.01M349.57 849.89h.01M349.63 831.05h.01M351.17 816.45h.01M348.49 821.77h.01M357.3 853.29h.01M350.75 850.94h.01M365.07 861.65h.01M354.6 860.16h.01M350.08 839.46h.01M350.53 829.7h.01M344.35 861.78h.01M360 861.67h.01M359.48 844.55h.01M361.48 848.19h.01M357.14 831.81h.01M369.8 820.26h.01M372.21 779.36h.01M353.35 855.65h.01M352.87 838.08h.01M350.48 860.94h.01M350.01 839.8h.01M349.47 805.99h.01M356.53 771.48h.01M361.57 861.73h.01" stroke="#dcc3e6" stroke-width="2.1" stroke-linecap="round" fill="none"/>
<path d="M362.79 840.68h.01M352.93 825.34h.01M349.97 861.74h.01M348.29 861.13h.01M349.5 817.75h.01M345.33 855.35h.01M356.27 854.8h.01M354.16 858.15h.01M350.84 845.93h.01M355.95 843.47h.01M361.71 860.3h.01M346.2 860.92h.01M351.23 861.76h.01M351.35 858.92h.01M349.65 852.74h.01M358.68 826.3h.01M350.06 855.63h.01M363.83 859.75h.01M364.32 859.27h.01M360.36 825.97h.01M361.33 855.46h.01M349.66 812.18h.01M345.46 859.4h.01M349.81 735.31h.01M345.4 852.82h.01M350.78 857.36h.01M348.14 830.18h.01M359.13 851.97h.01M357.63 831.05h.01M362.7 841.93h.01M350.79 809.04h.01M360.1 834.69h.01M345.5 850.72h.01M365.1 861.46h.01M350.99 856.48h.01M360.48 861.37h.01M363.24 861.76h.01M350.5 836.73h.01M360.66 860.94h.01M350.69 860.65h.01M355.64 848.02h.01M363.49 841.17h.01M362.52 770.07h.01M349.67 845.35h.01M358.16 848.06h.01M353.66 836.54h.01M348.28 859.17h.01M360.14 758.31h.01M356.24 856.36h.01M358.95 841.45h.01M348.96 854.82h.01M351.95 830.5h.01M355.22 861.74h.01M373.8 773.41h.01M356.73 861.79h.01M366.47 861.27h.01M357.75 845.1h.01M345.79 858.59h.01M358.82 861.79h.01M370.76 770.12h.01M357.11 850.33h.01M361.35 837.55h.01M355.76 810.65h.01M354.55 859.09h.01M348.14 861.8h.01M366.42 860.97h.01M348.03 859.5h.01M347.61 849.08h.01M352.23 853.26h.01M356.58 815.77h.01M353.52 840.54h.01M360.53 855.54h.01M349.7 853.92h.01M349.37 857.49h.01M348.21 816.91h.01M360.51 850.24h.01M350.16 814.96h.01M346.9 859.2h.01M353.35 808.99h.01M346.82 823.19h.01M356.12 858.99h.01M356.3 848.98h.01M352.18 860.71h.01M357.1 857.47h.01M358.38 853.52h.01M362.69 839.17h.01M344.5 861.78h.01M350.06 812.11h.01M346.49 847.81h.01M357.91 826.2h.01M355.06 861.37h.01M365.03 861.78h.01M349.69 851.07h.01M358.67 843.84h.01M360.42 846.72h.01M353.14 830.11h.01M359 859.73h.01M349.73 810.47h.01M352.24 858.8h.01M346.58 855.58h.01M362 850.75h.01M352.67 812.13h.01M362.66 753.84h.01M349.65 823.4h.01M362.58 859.02h.01M347.91 859h.01M365.3 799.81h.01M360.84 861.01h.01M360.17 858.62h.01M347.72 857.55h.01M353.96 839.18h.01M364.02 853.17h.01M349.63 835.49h.01M349.34 852.37h.01M348.58 861.22h.01M369.48 796.53h.01M366.14 861.07h.01M361.09 861.56h.01M371.65 755.54h.01M349.44 851.66h.01M364.7 858.96h.01M346.02 861.74h.01M356.07 861.65h.01M363.99 854h.01M351.27 857.44h.01M355.45 859.04h.01M347.24 861.7h.01M350.09 834.08h.01M356.53 858.2h.01M361.25 853.06h.01M353.78 848.89h.01M365.72 861.18h.01M362.22 843.8h.01M349.45 861.39h.01M358.83 826.87h.01M359.8 849h.01M353.5 843.89h.01M371.99 724.82h.01M351.72 832.31h.01M357.1 857.01h.01M356.05 814.88h.01M362.89 838.55h.01M362.75 860.8h.01M356.93 837.54h.01M358.82 848.81h.01M353.41 861.8h.01M349.94 854.82h.01M355.85 827.86h.01M351.13 810.44h.01M360.01 734.72h.01M358.14 826.29h.01M353.9 822.4h.01M349.84 857.81h.01M349.9 814.06h.01M355.63 819.5h.01M377.2 714.2h.01M361.66 849.62h.01M353.93 849.46h.01M345.77 861.8h.01M360.73 856.2h.01M353.34 855.57h.01M353.34 857.25h.01M352.52 861.79h.01M346.94 861.78h.01M364.12 858.91h.01M359.39 858.08h.01M348.33 814.32h.01M361.86 846.27h.01M352.18 813.52h.01M353.86 832.42h.01M354.5 848.19h.01M354.69 825.57h.01M353.99 853.11h.01M358.95 803.33h.01M358 821.41h.01M351.73 841.5h.01M347.96 818.36h.01M362.03 857.68h.01M349.57 861.8h.01M365.79 856.61h.01M345.61 854.35h.01M363.47 847.5h.01M357.07 835.78h.01M350.22 861.39h.01M349.84 836.64h.01M349.86 818.71h.01M351.01 856.46h.01M350.09 853.76h.01M364.55 856h.01M354.33 857.57h.01M345.03 858.52h.01M366.21 857.14h.01M352.47 841.65h.01M350.5 861.77h.01M353.46 861.8h.01M349.33 825.78h.01M362.2 837.85h.01M353.01 861.42h.01M367.34 730.67h.01M358.55 853.04h.01M355.71 858.1h.01M349.88 861.52h.01M353.42 861.8h.01M348.52 819.15h.01M348.87 845.47h.01M349.31 811h.01M354.48 813.61h.01" stroke="#ebcd8e" stroke-width="2.1" stroke-linecap="round" fill="none"/>
<path d="M330.54 861.75h.01M305.38 714.2h.01M320.16 861.74h.01M318.44 860.14h.01M314.51 841.22h.01M330.21 851.5h.01M315.81 757.82h.01M310.15 849.98h.01M319.44 850.31h.01M313.25 852.63h.01M319.16 806.25h.01M327.26 798.27h.01M328.27 849.43h.01M320.86 827.73h.01M322.07 828.26h.01M324.71 861.66h.01M321.46 859.03h.01M316.57 861.33h.01M317.7 853.76h.01M329.25 837.48h.01M324.19 853.29h.01M330.73 856.89h.01M310.13 855.67h.01M318.64 838.74h.01M321.36 856.2h.01M314.53 845.55h.01M323.22 834.09h.01M323.76 859.56h.01M319.73 832.09h.01M330.6 855.18h.01M318.69 760.96h.01M309.26 859.94h.01M315.23 847.94h.01M325.5 841.09h.01M325.49 861.79h.01M315.4 842.02h.01M324.8 820.33h.01M312.14 849.07h.01M312.7 843.53h.01M318.72 831.32h.01M316.72 787.19h.01M320.04 820.5h.01M317.17 840.63h.01M308.57 857.22h.01M309.22 856.74h.01M316.35 850.82h.01M327.65 832.12h.01M312.02 844.23h.01M325.52 821.13h.01M331.16 858.96h.01M319.19 857.27h.01M316.27 838.34h.01M312.04 851.22h.01M323.86 859.05h.01M325.81 827.16h.01M320.71 839.69h.01M321.14 817.74h.01M309.27 853.85h.01M321.76 842.09h.01M329.68 848.57h.01M328.55 826.51h.01M316.91 780.06h.01M324.39 846.54h.01M322.46 861.49h.01M311.47 850.59h.01M326.71 861.79h.01M320.88 806.06h.01M325.1 846.99h.01" stroke="#ebcd8e" stroke-width="2.1" stroke-linecap="round" fill="none"/>
<path d="M319.86 823.13h.01M322.45 852.36h.01M307.62 861.65h.01M312.47 789.66h.01M327.49 827.65h.01M322.57 804.97h.01M319.51 831.96h.01M315.51 848.31h.01M326.19 816.34h.01M318.9 860.98h.01M328.45 847.78h.01M319.06 838.91h.01M328.62 861.79h.01M315.73 829h.01M322.17 838.69h.01M311.5 845h.01M332.11 861.36h.01M327.72 860.68h.01M317.08 838.74h.01M322.46 859.38h.01M328.42 858.27h.01M321 837.3h.01M326.86 849.7h.01M310.68 849.86h.01M325.11 828.61h.01M328.01 859.93h.01M326.12 818.91h.01M328.69 860.15h.01M320.67 860.97h.01M326.9 851.29h.01M321.79 855.22h.01M330.67 860.09h.01M308.4 856.63h.01M320.05 751.18h.01M317.91 851.26h.01M317.53 854.96h.01M321.54 749h.01M322.43 853.49h.01M328.86 844.21h.01M314.07 835.09h.01M327.83 854.58h.01" stroke="#b7cde6" stroke-width="2.1" stroke-linecap="round" fill="none"/>
<path d="M385.76 859.12h.01M359.09 823.47h.01M347.1 837.81h.01M357.62 825.33h.01M355.08 857.25h.01M351.9 861.57h.01M351.94 804.33h.01M345.92 854.56h.01M362.82 837.2h.01M345.92 860.83h.01M347.62 859.26h.01M351.67 856.96h.01M354.29 809.52h.01M352.45 860.54h.01M360.82 844.88h.01M354.06 849.31h.01M351.14 846.09h.01M346.63 834.15h.01M352.37 854.1h.01M356.41 861.73h.01M349.62 804.15h.01M349.06 810.14h.01M345.36 855.48h.01M350.85 817.78h.01M348.22 858.57h.01M361.3 848.49h.01M377.3 844.49h.01M366.36 861.78h.01M349.68 832.38h.01M350.08 839.64h.01M356.79 859.89h.01M345.89 846.81h.01M357.96 850.59h.01M363.96 844.26h.01M351.48 860.24h.01M358.58 861.59h.01M349.69 804.88h.01M360.77 856.64h.01M350.02 861.19h.01M366.18 861.66h.01M352.59 837.19h.01M359.9 839.64h.01M348.44 809.18h.01M357.5 794.9h.01M346.35 842.84h.01M347.72 860.98h.01M355.66 845.06h.01M350.19 811.42h.01M364.43 860.75h.01M353.91 808.7h.01M350.6 848.17h.01M355.36 828.7h.01M353.65 838.97h.01M351.25 810.7h.01M344.87 860.06h.01M348.1 861.8h.01M358.16 852.7h.01M358.56 858.67h.01M356.43 821.95h.01M358.61 723.13h.01M352.89 859.27h.01" stroke="#dcc3e6" stroke-width="2.1" stroke-linecap="round" fill="none"/>
<path d="M351.22 806.22h.01M347.38 849.46h.01M346.33 861.55h.01M361.05 757.88h.01M346.66 848.74h.01M354.28 843.39h.01M349.95 839.85h.01M352.9 860.21h.01M351.75 809.51h.01M357.35 856.34h.01M358.05 832.02h.01M350.82 860.9h.01M356.25 814h.01M346.5 861.28h.01M353.54 815.7h.01M348.36 824.84h.01M356.64 853.34h.01M352.79 757.78h.01M346.19 808.78h.01M371.61 810.75h.01M356.78 805.69h.01M352.66 860.29h.01M346.8 852.8h.01M349.47 811.63h.01M365.57 860.63h.01M355.69 819.27h.01M351.45 802.82h.01M348.23 829.41h.01M365.73 858.55h.01M361.75 837.02h.01M360.09 855.33h.01M354.26 849.72h.01M364.96 859.2h.01M358.26 861.24h.01M357.02 812.84h.01M352.84 846.7h.01M356.87 861.46h.01M358.7 830.41h.01M362.03 848.45h.01M347.88 846.59h.01M361.6 816.19h.01M351.63 822.29h.01M365.43 857.62h.01M367.12 848.62h.01M362.52 859.53h.01M358.42 851.68h.01M354.55 848.43h.01M358.57 832.38h.01M359.07 861.79h.01M354.36 806.61h.01M365.35 860.47h.01M360.83 854.23h.01M348.44 809.37h.01M370.21 796.46h.01M360.41 861.48h.01M347.33 861.11h.01M348.51 851.33h.01M353.71 812.56h.01M361.7 859.82h.01M353.55 837.92h.01M352.43 854.67h.01M353.01 807.19h.01M355.02 861.72h.01M351.06 832.24h.01M354.99 859.85h.01M355.63 841.07h.01M350.29 851.16h.01M356.04 809.42h.01M357.78 855.72h.01M362.4 861.62h.01M355.76 808.61h.01M350.98 829.55h.01M354.05 812.61h.01M347.95 839.87h.01M362.54 845.07h.01M355.11 832.07h.01M357.54 859.58h.01M349.26 856.23h.01M348.16 847.72h.01M362.4 858.49h.01M381.23 751.15h.01M358.15 849.95h.01M363.35 861.63h.01M356.46 858.75h.01M355.17 827.54h.01M360.12 860.85h.01M349.28 850.9h.01M364.04 813.86h.01M356.89 860.95h.01M347.26 832.29h.01M351.66 806.21h.01M351.77 860.95h.01M356.82 841.65h.01M350.48 857.35h.01M347.83 861.67h.01M357.54 845.79h.01M354.12 856.94h.01M348.59 833.79h.01M353.56 815.59h.01M356.04 836.38h.01M344.32 861.68h.01M395.16 722.45h.01M354.75 859.57h.01M353.25 834.09h.01M355.37 861.36h.01M364.95 857.01h.01M353.15 851.68h.01M356.6 813.05h.01M354.26 858.6h.01M347.65 856.27h.01M350.99 845.98h.01M362.29 853.22h.01M401.14 815.35h.01M368.83 849.12h.01M351.81 848.81h.01M363.53 858.67h.01M350.92 858.32h.01M353.19 809.53h.01M349.62 859.22h.01M352.92 811.3h.01M348.99 829.98h.01M374.84 808.97h.01M348.94 791.04h.01M347.09 828.33h.01M359.41 855.74h.01M353.31 856.4h.01M355.55 848.86h.01M361.19 861.52h.01M352.76 827.18h.01M359.37 857.84h.01M348.66 860.18h.01M346.82 845.35h.01M354.96 858.69h.01M363.44 852.51h.01M352.66 827.93h.01M363.72 861.77h.01M362.14 847.69h.01M357.88 861.69h.01M349.28 820.94h.01M360.86 861.8h.01M355.4 822.39h.01M349.37 840.66h.01M349.47 824.37h.01M354.9 861.36h.01M350.94 819.95h.01M347.4 861h.01M349.62 861.72h.01M346.3 849.62h.01M366.75 828.43h.01M354.78 825.94h.01M345.62 861.79h.01M349.92 861.77h.01M351.35 845.08h.01M365.71 857.46h.01M348.64 833.67h.01M363.02 861.1h.01M357.81 736.23h.01M357.02 860.5h.01M361.57 856.82h.01M349.39 856.45h.01M346.68 836.57h.01M361.83 845.28h.01M347.69 820.97h.01M344.62 858.35h.01M367.06 813.89h.01M346.91 861.54h.01M363.81 845.66h.01M355.96 831.6h.01M349.01 859.25h.01M355.76 804.96h.01M358.08 856.99h.01M362.75 858.2h.01M348.32 861.28h.01M368.23 714.2h.01M410.4 839.69h.01M353.3 859.45h.01M356.65 818.23h.01M349.19 832.7h.01M348.12 861.38h.01M355.48 861.62h.01M356.8 838.94h.01M352.16 861.8h.01M357.61 851.3h.01M348.53 817.81h.01M354.43 861.72h.01M363.42 846.43h.01M364.19 857.81h.01M360.68 858.84h.01M345.06 859.34h.01M347.57 828.93h.01M355.53 807.94h.01M359.47 849.89h.01M352.08 858.66h.01M353.81 853.06h.01M352.26 854.1h.01M359.75 793.98h.01M346.95 860.37h.01M355.3 813.53h.01M358.61 756.52h.01M353.64 823.02h.01M360.27 847.94h.01M355.48 824.83h.01M358.84 766.92h.01M353.6 842.21h.01M356.12 861.07h.01M352.17 858.93h.01M350.81 842.51h.01" stroke="#ebcd8e" stroke-width="2.1" stroke-linecap="round" fill="none"/>
<path d="M308.13 861.74h.01M325.83 859.46h.01M314.17 854.02h.01M318.94 822.71h.01M303.36 746.51h.01M318.43 826.54h.01M325.13 861.63h.01M315.87 854.07h.01M322.64 816.55h.01M326.57 855.58h.01M305.38 860.43h.01M329.11 845.95h.01M320.3 860.74h.01M311.01 852.7h.01M319.41 826.21h.01M328.83 841.52h.01M318.64 857.71h.01M283.24 714.2h.01M318.46 861.28h.01M327.83 861.6h.01M338.27 804.74h.01M326.68 816.81h.01M329.03 855.49h.01M320.81 846.94h.01M320 833.01h.01M328.28 834.55h.01M315.53 841h.01M327.75 857.02h.01M329.13 846.45h.01M313.09 853.83h.01M306.75 859.79h.01M322.28 840.95h.01M306.94 860.33h.01M321.29 828.99h.01M325.04 843.05h.01M314.39 784.91h.01M307.69 859.39h.01M327.18 852.92h.01M320.09 855.82h.01M328.35 826.18h.01M325.99 818.85h.01M323.7 835.99h.01M320.51 845.07h.01M315.28 753.57h.01M323.42 844.66h.01M312.52 837.7h.01M307.47 856.43h.01M325.72 826.65h.01M320.56 821.11h.01M321.54 757.29h.01M308.87 849.76h.01M319.15 746.6h.01M307.5 861.29h.01M306.74 861.75h.01M306.95 861.72h.01M326.48 847.96h.01M324.97 850.66h.01M327.36 840.28h.01M321.18 827.97h.01M319.16 844.71h.01M305.27 860.53h.01M327.43 860.73h.01M317.35 750.32h.01M314.04 812.81h.01M315.8 848.78h.01M309.77 856.39h.01M317.56 834.07h.01M317.49 858.85h.01" stroke="#ebcd8e" stroke-width="2.1" stroke-linecap="round" fill="none"/>
<path d="M324.34 861.56h.01M318.87 803.44h.01M309.38 861.17h.01M319.12 852.34h.01M318.08 861.67h.01M324.2 861.73h.01M317.02 833.53h.01M313.96 861.76h.01M305.15 861.53h.01M323.38 820.34h.01M317.96 858.91h.01M314.44 855.45h.01M308.62 856.9h.01M317.28 858.95h.01M309.61 852.83h.01M320.33 846.39h.01M331.63 861.8h.01M323.78 824.93h.01M316.82 801.15h.01M318 844.68h.01M317.55 834.53h.01M319 838.9h.01M314.47 861.31h.01M316.91 861.44h.01M321.68 816.96h.01M309.9 857.16h.01M328.56 859.19h.01M312.18 860.41h.01M318.78 837.52h.01M327.06 843h.01M320.27 830.42h.01M321.44 861.77h.01M321.99 824.42h.01M332.17 861.68h.01M326.75 826.99h.01M321.94 826.56h.01M316.51 839.15h.01M316.88 840.22h.01M321.38 846.6h.01M317.8 857.59h.01" stroke="#b7cde6" stroke-width="2.1" stroke-linecap="round" fill="none"/>
<path d="M353.41 849.04h.01M374 848.55h.01M348.83 858.34h.01M357.38 817.87h.01M351.68 802.95h.01M362.67 847.66h.01M353.03 859.17h.01M360.66 808.94h.01M347.69 814.97h.01M350.28 840.94h.01M349.83 860.93h.01M358.94 821.48h.01M360.75 852.96h.01M363.58 861.11h.01M364.01 848.54h.01M351.53 861.42h.01M352.34 858.12h.01M362.63 860.54h.01M360.32 842.99h.01M360.9 860.04h.01M360.52 858.82h.01M345.52 854.59h.01M347.76 836.82h.01M363.13 861.8h.01M363.7 857.47h.01M361.8 860.85h.01M355.49 855.99h.01M354.57 841.03h.01M349.64 813.51h.01M359.05 840.6h.01M359.95 858.39h.01M366.26 858.32h.01M357.05 833.45h.01M363.18 860.57h.01M351.79 808.11h.01M362.98 860.1h.01M358.62 838.36h.01M352.45 827.41h.01M365.05 858.41h.01M347.7 737.28h.01M358.32 861.49h.01M349.18 856.16h.01M358.85 840.03h.01M361.35 861.8h.01M355.03 809.67h.01M359.8 843.35h.01M359.64 861.7h.01M348.91 848.59h.01M352.6 857.66h.01M358.87 840.38h.01M368.03 745.5h.01M346.43 847.22h.01M350.35 837.01h.01M354.4 830.04h.01M355.22 833.11h.01M348.27 816.31h.01M354.47 835.62h.01M361.71 838.44h.01M358.63 860.58h.01M356.75 842h.01M353.5 818.32h.01" stroke="#dcc3e6" stroke-width="2.1" stroke-linecap="round" fill="none"/>
<path d="M350.58 817.84h.01M350.59 857.71h.01M356.04 827h.01M355.22 734.33h.01M361.73 847.69h.01M346.57 861.79h.01M355.1 852.75h.01M353.6 805.13h.01M348.71 807.53h.01M356.08 804.33h.01M344.37 861.78h.01M360.17 856.65h.01M350.92 861.72h.01M350.71 838.54h.01M351.11 821.56h.01M356.28 842.68h.01M360.8 841.21h.01M348.42 831.15h.01M351.4 845.99h.01M355.56 806.98h.01M358.15 817.98h.01M364.62 774.33h.01M353.44 849.95h.01M348.34 833.57h.01M353.12 850.99h.01M359 827.25h.01M356.57 824.08h.01M358.58 859.68h.01M361.2 860.21h.01M352.16 828.06h.01M345.64 843.83h.01M357.07 814.94h.01M360.08 860.14h.01M350.64 861.61h.01M351.77 804.05h.01M356.67 848.17h.01M349.35 855.14h.01M359.81 852.36h.01M356.8 860.56h.01M347.68 838.12h.01M363.61 858.93h.01M365.69 854.57h.01M358.1 855.27h.01M352.15 840.91h.01M354.08 825.85h.01M356.79 861.35h.01M358.86 849.15h.01M369.63 815.77h.01M356.93 851.26h.01M360.67 861.8h.01M356.61 755.62h.01M358.5 858.89h.01M353.41 817.76h.01M353.55 860.47h.01M360.38 850.24h.01M353.68 861.73h.01M351.71 860.36h.01M363.56 859.3h.01M349.78 839.05h.01M346.66 858.93h.01M363.88 834.57h.01M350.78 803.76h.01M351.59 857.46h.01M373.53 756.3h.01M359.55 827.59h.01M358.2 825.01h.01M355.28 821.9h.01M364.91 848.38h.01M360.76 861.33h.01M356.8 853.94h.01M351.02 768.24h.01M352.84 861.4h.01M360.21 838.47h.01M359.49 825.01h.01M361.1 861.8h.01M346.16 856.48h.01M355.13 835.23h.01M360.35 861.72h.01M363.43 847.28h.01M364.86 860.19h.01M345.31 859.21h.01M362.13 857.23h.01M353.01 853.63h.01M346.61 857.03h.01M357.11 858.48h.01M345.26 861.45h.01M349.03 824.24h.01M354.37 832.06h.01M360.76 840.92h.01M356.25 714.2h.01M355.93 860.54h.01M349.34 860.88h.01M354.15 833.58h.01M359.72 861.8h.01M360.49 861.13h.01M358.37 831.75h.01M353.01 860.2h.01M352.01 837.65h.01M345.98 857.71h.01M352.58 855.62h.01M355.12 860.69h.01M352.24 803.97h.01M353.85 806.5h.01M363.57 856.83h.01M354.15 776.4h.01M358.63 816.68h.01M360.5 816.27h.01M359.96 835.36h.01M350.16 861.8h.01M360.75 861.62h.01M348.4 849.17h.01M363.2 840.63h.01M350.25 823.88h.01M391.24 841.29h.01M357.37 857.56h.01M349.33 842.44h.01M346.75 826.76h.01M346.95 851.56h.01M359.6 858.06h.01M350.11 855.08h.01M362.24 714.2h.01M349.34 819.04h.01M348.41 849.15h.01M348.77 840.74h.01M365.08 859.61h.01M352.3 857.18h.01M353.41 815.19h.01M364.35 857.45h.01M348.21 822.2h.01M358.73 860.57h.01M354.89 841.05h.01M356.72 858.46h.01M348.48 853.58h.01M356.45 813.69h.01M360 845.79h.01M349 853.63h.01M351.73 843.21h.01M362.8 853.11h.01M352.67 835.55h.01M349.85 840.23h.01M354.72 860.35h.01M361.92 838.11h.01M363.24 859.41h.01M349.81 813.21h.01M365.53 797.8h.01M359.86 834.26h.01M347.57 826.61h.01M350.68 832.54h.01M361.38 858.09h.01M352.16 806.96h.01M356.23 859.18h.01M368.81 764.14h.01M355.25 861.5h.01M352.73 849.84h.01M358.34 819.96h.01M361.58 833.39h.01M348.24 856.69h.01M351.14 856.38h.01M356.66 860.79h.01M358.74 860.47h.01M360.98 831.82h.01M347.66 849.74h.01M349.02 805.08h.01M347.37 856.06h.01M349.85 859.64h.01M352.54 812.49h.01M360.25 826.08h.01M365.94 856.38h.01M347.09 827.86h.01M356.55 855.47h.01M347.76 856.58h.01M346.26 851.48h.01M361.65 850.41h.01M364.59 846.27h.01M363.59 847.83h.01M358.67 802.17h.01M349.53 829.25h.01M353.77 860.62h.01M349.91 787.35h.01M351.24 832.51h.01M360.32 859.72h.01M363.08 858.74h.01M354.48 805.43h.01M354.56 822.75h.01M346.75 840.16h.01M361.23 861.8h.01M347.92 855.1h.01M364.21 838.93h.01M351.22 854.21h.01M356.52 810.72h.01M366.02 859.65h.01M347.7 853.94h.01M353.29 853.66h.01M347.53 861.65h.01M355.56 851.02h.01M348.24 855.01h.01M357.67 851.05h.01M349.05 816.93h.01M355.03 825.76h.01M359.72 837.27h.01M351.27 832.66h.01M350.86 806.2h.01M357.43 837.57h.01M349.6 814.9h.01M349.17 804.77h.01" stroke="#ebcd8e" stroke-width="2.1" stroke-linecap="round" fill="none"/>
</g>
<rect x="258.6" y="714.2" width="155.4" height="154.9" fill="none" stroke="#4d4d4d" stroke-width="0.9"/>
<line x1="257" y1="861.8" x2="258.6" y2="861.8" stroke="#4d4d4d" stroke-width="0.8"/>
<text x="255.7" y="864" font-size="8.6" text-anchor="end" fill="#4d4d4d" stroke="#4d4d4d">0</text>
<line x1="257" y1="815.35" x2="258.6" y2="815.35" stroke="#4d4d4d" stroke-width="0.8"/>
<text x="256.89" y="817.55" font-size="8.6" text-anchor="end" fill="#4d4d4d" stroke="#4d4d4d">100</text>
<line x1="257" y1="768.9" x2="258.6" y2="768.9" stroke="#4d4d4d" stroke-width="0.8"/>
<text x="256.89" y="771.1" font-size="8.6" text-anchor="end" fill="#4d4d4d" stroke="#4d4d4d">200</text>
<line x1="257" y1="722.45" x2="258.6" y2="722.45" stroke="#4d4d4d" stroke-width="0.8"/>
<text x="256.89" y="724.65" font-size="8.6" text-anchor="end" fill="#4d4d4d" stroke="#4d4d4d">300</text>
<line x1="278.45" y1="869.1" x2="278.45" y2="870.7" stroke="#4d4d4d" stroke-width="0.8"/>
<text x="279.95" y="878.2" font-size="8.6" text-anchor="middle" fill="#4d4d4d" stroke="#4d4d4d">−10</text>
<line x1="308.38" y1="869.1" x2="308.38" y2="870.7" stroke="#4d4d4d" stroke-width="0.8"/>
<text x="309.88" y="878.2" font-size="8.6" text-anchor="middle" fill="#4d4d4d" stroke="#4d4d4d">−5</text>
<line x1="338.3" y1="869.1" x2="338.3" y2="870.7" stroke="#4d4d4d" stroke-width="0.8"/>
<text x="338.3" y="878.2" font-size="8.6" text-anchor="middle" fill="#4d4d4d" stroke="#4d4d4d">0</text>
<line x1="368.23" y1="869.1" x2="368.23" y2="870.7" stroke="#4d4d4d" stroke-width="0.8"/>
<text x="368.23" y="878.2" font-size="8.6" text-anchor="middle" fill="#4d4d4d" stroke="#4d4d4d">5</text>
<line x1="398.15" y1="869.1" x2="398.15" y2="870.7" stroke="#4d4d4d" stroke-width="0.8"/>
<text x="398.15" y="878.2" font-size="8.6" text-anchor="middle" fill="#4d4d4d" stroke="#4d4d4d">10</text>
<text x="339.6" y="708.1" font-size="8.85" text-anchor="middle" fill="#000"><tspan font-style="italic">dal81Δ/Δ</tspan> YC vs. SN250 YC</text>
<text x="333.3" y="890.4" font-size="9" text-anchor="middle" fill="#000">log<tspan font-size="5.6" dy="2.2">2</tspan><tspan dy="-2.2">(Fold Change)</tspan></text>
<text transform="translate(237.3,798.4) rotate(-90)" font-size="9.2" text-anchor="middle" fill="#000">-log<tspan font-size="5.4" dy="2.4">10</tspan><tspan dy="-2.4">(adj.  </tspan><tspan font-style="italic">p</tspan>- value)</text>
<text x="306.7" y="721.7" font-size="7.3" text-anchor="start" fill="#1a1a1a" stroke="#1a1a1a" font-style="italic">CAR1</text>
<circle cx="310" cy="714.4" r="1.1" fill="#1a1a1a"/>
<text x="324" y="789.4" font-size="7.2" text-anchor="start" fill="#1a1a1a" stroke="#1a1a1a" font-style="italic">GDH2</text>
<line x1="326" y1="792.9" x2="323.6" y2="795.6" stroke="#1a1a1a" stroke-width="0.8"/>
<circle cx="323.6" cy="795.6" r="1.1" fill="#1a1a1a"/>
<text x="327.1" y="821" font-size="7.1" text-anchor="start" fill="#1a1a1a" stroke="#1a1a1a" font-style="italic">ACH1</text>
<line x1="328.9" y1="822.9" x2="326.3" y2="825.3" stroke="#1a1a1a" stroke-width="0.8"/>
<circle cx="326.3" cy="825.3" r="1.1" fill="#1a1a1a"/>
<text x="349" y="839.3" font-size="7.1" text-anchor="start" fill="#1a1a1a" stroke="#1a1a1a" font-style="italic">MIG1</text>
<line x1="356.3" y1="832.6" x2="359.2" y2="830.3" stroke="#1a1a1a" stroke-width="0.8"/>
<circle cx="359.2" cy="830.3" r="1.1" fill="#1a1a1a"/>
<text x="331.4" y="847.2" font-size="7.0" text-anchor="start" fill="#1a1a1a" stroke="#1a1a1a" font-style="italic">PUT1</text>
<line x1="332.6" y1="849" x2="330.6" y2="851.7" stroke="#1a1a1a" stroke-width="0.8"/>
<circle cx="330.6" cy="851.7" r="1.1" fill="#1a1a1a"/>
<text x="313.5" y="864.7" font-size="7.4" text-anchor="start" fill="#1a1a1a" stroke="#1a1a1a" font-style="italic">ATO5</text>
<line x1="323.6" y1="857.2" x2="326" y2="854" stroke="#1a1a1a" stroke-width="0.8"/>
<circle cx="326" cy="854" r="1.1" fill="#1a1a1a"/>
<clipPath id="v3"><rect x="458.6" y="712.2" width="155.4" height="155.8"/></clipPath>
<g clip-path="url(#v3)">
<line x1="531" y1="713.4" x2="531" y2="868" stroke="#c8c8c8" stroke-width="0.7" stroke-dasharray="2.6 2.5"/>
<line x1="541.1" y1="713.4" x2="541.1" y2="868" stroke="#c8c8c8" stroke-width="0.7" stroke-dasharray="2.6 2.5"/>
<line x1="458.6" y1="860.8" x2="614" y2="860.8" stroke="#c8c8c8" stroke-width="0.7" stroke-dasharray="2.6 2.5"/>
<path d="M531.32 849.18h.01M531.71 852.4h.01M542.19 859.64h.01M536.79 860.1h.01M530.84 859.06h.01M540.22 850.21h.01M540.09 857.87h.01M541.93 858.43h.01M531.78 847.07h.01M541.11 858.76h.01M535.41 860.39h.01M534.85 857.75h.01M540.48 850.22h.01M533.38 854.54h.01M530.06 859h.01M530.72 858.48h.01M532.52 849.27h.01M538.74 858.69h.01M542.14 858.57h.01M532.96 852.85h.01M539.99 845.47h.01M541.54 858.68h.01M537.18 859.74h.01M538.26 856.34h.01M530.85 859.86h.01M536.97 859.07h.01M537.35 858.19h.01M538.32 860.58h.01M532.31 845.25h.01M533.57 854.29h.01M540.66 850.92h.01M532.3 858.15h.01M531.28 856.24h.01M533.48 855.13h.01M538.11 857.39h.01M535.52 860.32h.01M537.53 860.49h.01M540.29 843.51h.01M537.74 859.5h.01M533.02 849.63h.01M530.81 859.03h.01M533.09 855.26h.01M530.38 860.16h.01M532.46 858.11h.01M534.45 858.02h.01M531.01 860.77h.01M531.38 852.25h.01M530.13 858.15h.01M537.94 859.71h.01M534.89 860.73h.01M540.61 844.72h.01M530.04 860.25h.01M541.03 859.52h.01M534.26 855.42h.01M534.95 859.66h.01M539.5 855.77h.01M538 857.43h.01M541.21 858.6h.01M537.84 860.14h.01M535.54 860.07h.01M532.48 848.62h.01M532.88 860.02h.01M541.69 859.72h.01M539.04 856.92h.01M530.5 859.85h.01M531.41 854.33h.01M532.53 856.77h.01M531.2 858.91h.01M536.31 860.64h.01M530.45 860.59h.01M536.13 860.79h.01M536.94 860.11h.01M537.53 856.84h.01M537.17 858.32h.01M533.57 858.54h.01M541.28 859.37h.01M532.73 851.89h.01M530.35 860.15h.01M539.62 847.06h.01M530.36 860.15h.01M539.87 845.58h.01M535.91 860.57h.01M534.57 856.49h.01M536.01 860.71h.01M532.63 850.17h.01M530.89 860.33h.01M538.72 860.04h.01M542.18 860.07h.01M530.82 859.18h.01M540.57 845.06h.01M531.58 847.5h.01M539.11 854.99h.01M535.76 860.39h.01M535.89 860.44h.01M538.1 855.01h.01M535.3 859.72h.01M530.33 860.17h.01M533.32 855.71h.01M533.25 851.63h.01M530.2 858.85h.01M541.4 860.65h.01M533.7 852.25h.01M538.41 853.37h.01M542.02 859.78h.01M534.6 860.32h.01M530.49 858.48h.01M535.41 859.25h.01M530.53 860.25h.01M541.32 860.47h.01M531.13 859.5h.01M530.48 859.78h.01M541.34 858.57h.01M540.14 855.3h.01M539.17 856.59h.01M534.8 857.26h.01M540.65 841.01h.01M537.72 856.07h.01M534.35 860.63h.01M531.76 842.83h.01M536.19 860.8h.01M531.95 852.68h.01M541.73 859.68h.01M532.26 854.81h.01M532.01 843.5h.01M541.67 858.12h.01M540.99 859.54h.01M540.23 851.39h.01M538.68 853.75h.01M539.48 850.53h.01M537.43 860.58h.01M542.17 859.02h.01M535.86 860.37h.01M530.06 858.59h.01M540.28 844.41h.01M538.68 856.07h.01M530.36 859.2h.01M533.69 853.73h.01M534.29 859.92h.01M535.84 860.7h.01M536.74 859.87h.01M531.95 848.46h.01M539.93 850.57h.01M533.97 860.57h.01M538.08 859.02h.01M533.1 854.92h.01M537.84 855.47h.01M536.04 860.75h.01M539.85 847.3h.01M538.27 855.06h.01M540.01 847.91h.01M538.45 854.3h.01M540.94 843.19h.01M538.14 854.65h.01M530.6 858.61h.01M532.48 857.59h.01M535.89 860.55h.01M532.47 848.95h.01M540.63 847.94h.01M541.53 858.1h.01M534.8 857.47h.01M537.32 858.79h.01M540.12 848.4h.01M537.26 859.19h.01M530.56 858.34h.01M534.49 856.04h.01M536.56 860.12h.01M530.22 858.01h.01M533.12 854.91h.01M537.57 860.66h.01M531.91 848.21h.01M530.01 859.29h.01M539.52 847.4h.01M530.37 859.73h.01M536.64 860.19h.01M541.96 859.41h.01M540.25 846.04h.01M536.58 859.99h.01M541.77 858.27h.01M538.59 857.58h.01M531.14 858.46h.01M541.35 859.49h.01M542.07 860.42h.01M536.93 859.89h.01M532.59 859.4h.01M532.16 858.41h.01M536.62 860.62h.01M535.74 860.45h.01M539.15 860.76h.01M532.19 854.26h.01M533.65 856.42h.01M540.62 848.24h.01M530.82 860.35h.01M533.18 853.77h.01M536.71 859.78h.01M530.23 859.82h.01M538.03 856.68h.01M530.52 858.91h.01M539.9 847.17h.01M536.98 859.37h.01M538.42 857.17h.01M534.28 856.16h.01M535.9 860.79h.01M531.39 857.41h.01M532.98 849.41h.01M541.94 859.74h.01M539.82 850.16h.01M535.94 860.72h.01M535.18 860.01h.01M539.6 851.67h.01M530.48 859.37h.01M533.02 853.67h.01M542.2 858.91h.01M538.3 857.64h.01M537.8 857.38h.01M532.71 853.7h.01M532.41 856.8h.01M539.28 848.98h.01M535.21 859.88h.01M539.68 849.75h.01M540.61 842.74h.01M536.17 860.72h.01M540.59 856.74h.01M535.47 859.32h.01M542.04 860.12h.01M538.73 854.7h.01M541.49 859.88h.01M531.58 850.77h.01M540.1 851.9h.01M535.51 859.94h.01M537.44 858.19h.01M541.12 859.63h.01M538.21 858.54h.01M539.81 845.69h.01M540.7 845.85h.01M537.39 858.12h.01M541.5 858.27h.01M538.3 858.36h.01M533.33 857.98h.01M540.01 849.27h.01M541.98 858.22h.01M530.89 858.66h.01M531.39 858.75h.01M537.42 856.94h.01M540.68 850.16h.01M540.24 843.47h.01M533.41 852.13h.01M532.74 852.57h.01M535.44 859.43h.01M540.5 847.99h.01M532.33 853.22h.01M538.87 859.16h.01M539.49 848.05h.01M540.88 856.88h.01M531.06 859.57h.01M541.21 860.01h.01M542.11 858.55h.01M538.43 860.22h.01M533.13 851.48h.01M533.8 854.91h.01M530.72 858.23h.01M540.88 860.5h.01M533.92 860.69h.01M541.65 860.68h.01M543.86 860.48h.01M537.55 860.48h.01M525.5 860.34h.01M538.67 860.61h.01M539.39 860.5h.01M535.05 860.79h.01M537.23 860.46h.01M539.34 860.49h.01M542.81 860.43h.01M534.82 860.66h.01M527.27 860.33h.01M536.85 860.52h.01M553.63 860.16h.01M540.05 860.32h.01M531.51 860.57h.01M534.87 860.29h.01M521.82 860.76h.01M533.5 860.26h.01M540.19 860.54h.01M528.19 860.47h.01M528.15 860.48h.01M552.08 860.55h.01M551.17 860.57h.01M542.25 860.3h.01M543.67 860.63h.01M523.22 860.25h.01M545.26 860.66h.01M534.31 860.63h.01M544.71 860.48h.01M532.83 860.48h.01M541.77 860.76h.01M524.26 860.49h.01M536.88 860.59h.01M551.92 860.74h.01M544.99 860.7h.01M544.61 860.67h.01M535.45 860.21h.01M526.26 860.68h.01M528.83 860.22h.01M540.18 860.27h.01M540.72 860.79h.01M529.47 860.65h.01M537.19 860.6h.01M530.81 860.23h.01M529.61 860.36h.01M537.96 860.7h.01M521.56 860.14h.01M542.83 860.37h.01M537.16 860.61h.01M532.44 860.79h.01M542.79 860.75h.01M530.37 860.28h.01M539.74 860.79h.01M540.95 860.63h.01M530.84 860.46h.01M531.23 860.54h.01M537.85 860.7h.01M534.01 860.43h.01M535.89 860.32h.01M528.09 860.71h.01M540.11 860.25h.01M516.04 860.66h.01" stroke="#dcdcdc" stroke-width="2.1" stroke-linecap="round" fill="none"/>
<path d="M517.22 860.8h.01M518.03 778.68h.01M527.87 838.46h.01M515.01 837.49h.01M520.97 799.55h.01M524.37 854.69h.01M519.48 821.85h.01M523.52 846.45h.01M513.64 859.22h.01M516.14 806.13h.01M527.32 857.42h.01M515.04 856.54h.01M529.09 851.81h.01M521.02 859.17h.01M509.77 860.8h.01M518.92 860.78h.01M519.09 798.48h.01M511.54 860.79h.01M513.03 858.11h.01M508.26 742.37h.01M523.82 860.58h.01M524.91 854.89h.01M524.2 834.18h.01M521.22 858.35h.01M513.16 860.79h.01M513.04 860.65h.01M528.59 859.24h.01M518.04 800.71h.01M517.61 786.69h.01M524.39 807.97h.01M513.65 713.4h.01M530.36 860.34h.01M520.84 860.75h.01M511.12 860.8h.01M527.74 860.79h.01M520.71 860.8h.01M526.51 856.21h.01M514.41 845.5h.01M523.86 848.76h.01M513.22 859.4h.01M513.03 857.33h.01M525.79 860.74h.01M519.23 857.1h.01M512.71 756.42h.01M519.5 860.79h.01M525.78 844.42h.01M517.89 840.95h.01M492.48 853.35h.01M516.65 743.28h.01M512.41 855.45h.01M515.24 860.24h.01" stroke="#ebcd8e" stroke-width="2.1" stroke-linecap="round" fill="none"/>
<path d="M522.1 843.03h.01M516.24 762.37h.01M520.16 860.19h.01M525.11 831.12h.01M519.65 835.35h.01M512.55 857.48h.01M510.87 860.71h.01M524.36 858.87h.01M521.26 814.79h.01M523.92 825.42h.01M519.47 792.3h.01M524.92 841.24h.01M512.31 860.64h.01M519.64 748.26h.01M526 820.85h.01M525.79 859.72h.01M513.76 858.5h.01M513.21 860.8h.01M513.87 860.65h.01M515.91 822.34h.01M523.95 837.45h.01M522.7 857.29h.01M511.18 853.67h.01M517.54 839.52h.01M517.4 853.39h.01M516.17 799.77h.01M525.59 850.95h.01M524.44 860.06h.01M521.16 838.05h.01M520.53 847.29h.01M518.59 827.38h.01M514.01 860.76h.01M520.85 857.33h.01M468.76 848.02h.01M526.76 829.51h.01M524.06 840.56h.01M518.14 830.29h.01M512.59 860.8h.01M517.89 842.29h.01M519.31 794.93h.01M514.2 839.87h.01M520.15 833.7h.01M519.57 770.7h.01M523.03 858.26h.01M515.95 762.91h.01M529.14 860.8h.01M510.54 859.21h.01M521.5 789.33h.01M519.86 860.46h.01M520.13 841.66h.01M512.43 850.68h.01M515.58 773.19h.01M514.91 854.28h.01M509.04 763.3h.01M519.22 849.49h.01M511.78 858.51h.01M512.92 860.69h.01M513.12 858.41h.01M516.45 840.81h.01M523.6 836.27h.01M526.36 860.74h.01M530.48 859.57h.01M518.72 860.74h.01M522.03 809.54h.01M524.23 859.46h.01M517.77 807.92h.01M518.49 856.13h.01M512.42 746.36h.01M525.34 860.8h.01M518.55 860.78h.01M518.1 769.49h.01M516.36 825.82h.01M527.28 857.04h.01M518.82 824.41h.01M521.39 844.4h.01M511.51 853.01h.01M511.45 766.02h.01M516.95 787.15h.01M516.6 850.52h.01M510.96 860.77h.01M525.62 826.29h.01M509.52 860.8h.01M520.28 858.37h.01" stroke="#b7cde6" stroke-width="2.1" stroke-linecap="round" fill="none"/>
<path d="M547.43 835.89h.01M591.1 847.3h.01M544.16 845.59h.01M552.49 854h.01M547.53 848.11h.01M552.06 770.11h.01M545.84 838.2h.01M547.62 803.96h.01M552.2 860.7h.01M558.64 857.71h.01M544.23 860.74h.01M550.11 852.49h.01M553.48 792.79h.01M542.99 853.85h.01M560.46 848.64h.01M546.2 833.75h.01M560.34 859.85h.01M559.81 842.01h.01M551.2 812.87h.01M561.85 858.87h.01M547.1 839.63h.01M541.5 858.92h.01M589.29 818.18h.01M548.46 857.41h.01M551.03 860.38h.01M559.46 856.51h.01M555.85 850.39h.01M561.46 858.92h.01M562.45 860.53h.01M543.19 842.76h.01M548.98 858.62h.01M553.87 767.89h.01M554.52 829.79h.01M543.25 848.36h.01M551.78 822.96h.01M542.58 859.51h.01M561.2 860.8h.01M560.76 859.02h.01M556.81 860.75h.01M576.67 860.7h.01M554.68 836.29h.01M552.29 838.41h.01M549.06 815.16h.01M561.41 860.79h.01M549.62 773.72h.01M555.18 762.72h.01M563.13 860.8h.01M548.12 851.07h.01M555.16 860.8h.01M547.63 820.8h.01" stroke="#dcc3e6" stroke-width="2.1" stroke-linecap="round" fill="none"/>
<path d="M555.97 810.84h.01M555.33 772.25h.01M554.52 781.53h.01M549.53 840.22h.01M562.48 860.54h.01M551.52 785.72h.01M551.89 816.25h.01M552.2 844.29h.01M555.3 858.99h.01M553.36 801.82h.01M550.57 778.12h.01M561.01 851.6h.01M546.93 829.31h.01M558.4 860.68h.01M543.04 843.48h.01M551.38 819.36h.01M581.67 845.08h.01M599.54 848.49h.01M546.35 835.69h.01M552.63 795.61h.01M548.08 860.76h.01M543.18 858.2h.01M552.01 770.42h.01M552.1 785.85h.01M554.3 860.71h.01M556.87 772.15h.01M551.42 850.88h.01M546.18 860.22h.01M556.07 822.91h.01M558.97 763.58h.01M553.36 776.06h.01M544.78 858.79h.01M554.5 805.55h.01M547.55 850.03h.01M549.01 860.01h.01M559.19 857.44h.01M551.17 789.97h.01M553.38 788.27h.01M555.37 831.68h.01M543.08 860.58h.01M545.8 859.8h.01M554.22 800.64h.01M549.1 860.79h.01M557.79 859.16h.01M560.41 850.24h.01M558.97 833.78h.01M541.98 859.35h.01M570.81 854.75h.01M552.61 860.79h.01M548.86 841.95h.01M576.12 775.57h.01M563.73 860.71h.01M548.34 842.61h.01M549.59 847.29h.01M554.93 768.55h.01M555.56 774.4h.01M547.48 808.38h.01M549.35 823.3h.01M548.61 837.32h.01M547.25 860.8h.01M552.79 853.33h.01M569.28 713.4h.01M548.98 860.71h.01M551.55 860.72h.01M549.56 858.9h.01M549 856.69h.01M544.89 836.47h.01M547.67 848.44h.01M546.68 837.24h.01M555.56 860.75h.01M545.8 859.75h.01M557.57 713.4h.01M559.18 857.75h.01M559.89 858.3h.01M549.63 809.67h.01M542.84 859.85h.01M543.85 860.63h.01M542.51 860.08h.01M550.06 860.8h.01M544.82 846.8h.01M549.76 844.17h.01M551.41 856.06h.01M554.52 858.64h.01M547.74 856.81h.01M550.9 791.74h.01M553.84 781.51h.01M548.7 805.38h.01M553.02 791.04h.01M551.36 805.95h.01M549.13 822.02h.01M557.04 830.74h.01M551.67 816.43h.01M553.89 858.31h.01M543.07 849.81h.01M544.72 830.32h.01M555.52 820.65h.01M560.89 855.83h.01M597.47 854.46h.01M541.86 858.3h.01M557.65 860.76h.01M561.03 843.11h.01M562.04 856.86h.01M555.92 777.31h.01M550.97 860.79h.01M554.58 859.89h.01M556.64 782.43h.01M552.18 789.14h.01M546.77 815.9h.01M561.66 857.1h.01M553.66 790.36h.01M558.3 859.57h.01M547.94 799.26h.01M544.35 852.4h.01M550.22 860.76h.01M544.43 855.08h.01" stroke="#ebcd8e" stroke-width="2.1" stroke-linecap="round" fill="none"/>
<path d="M515.38 859.08h.01M531.04 860.28h.01M527.57 860.26h.01M518.14 821.48h.01M519.56 770.66h.01M515.24 847.66h.01M524.05 860.28h.01M517.16 855.89h.01M520.95 790.89h.01M529.33 854.05h.01M515.71 860.07h.01M512.88 858.94h.01M522.51 841.18h.01M520.74 820.85h.01M519.64 801.4h.01M518.39 788.33h.01M513.41 858.59h.01M519.77 786.49h.01M512.2 819.08h.01M517.37 776.03h.01M512.39 854.18h.01M517.25 765.76h.01M490.89 832h.01M524.8 811.19h.01M531 860.78h.01M523.37 854.16h.01M521.9 858.79h.01M524.8 855.86h.01M515.89 857.75h.01M522.25 821.29h.01M519.44 767.71h.01M483.56 860.19h.01M530.13 859.18h.01M528.95 860.65h.01M459.25 858.66h.01M521.53 829.6h.01M523.13 856.86h.01M525.02 860.8h.01M508.86 860.63h.01M517.57 858.56h.01M515.86 854.49h.01M524.44 848.63h.01M513.52 852.76h.01M525.73 850.56h.01M529.51 860.8h.01M521.37 843.77h.01M521.94 858.87h.01M525.72 848.93h.01M529.57 860.11h.01M519.42 846.9h.01M524.88 834.68h.01" stroke="#ebcd8e" stroke-width="2.1" stroke-linecap="round" fill="none"/>
<path d="M515.91 859.61h.01M524.59 818.41h.01M511.46 860.72h.01M520.97 802.12h.01M519.58 858.14h.01M525.15 813.17h.01M526.17 812.56h.01M525.88 854.07h.01M516.06 839.99h.01M512.9 860.76h.01M524.34 853.22h.01M512.92 859.47h.01M509.71 860.41h.01M528.22 853.45h.01M516 849.01h.01M518.76 789.53h.01M522.47 860.73h.01M524.15 823.21h.01M524.8 848.19h.01M514.07 860.04h.01M520.23 860.76h.01M523.34 860.8h.01M518.55 802.07h.01M513.73 748.61h.01M514.78 838.01h.01M524.74 860.8h.01M512.96 858.49h.01M524.51 844.51h.01M520.26 858.75h.01M510.29 857.93h.01M515.72 773.91h.01M521.35 795.98h.01M524.33 858.26h.01M523.51 840.8h.01M526.28 849.01h.01M515.97 770.96h.01M524.68 837.08h.01M519.24 778.16h.01M520.27 858.28h.01M528.7 858.45h.01M510.37 858.86h.01M524.13 860.46h.01M518.44 775.55h.01M522.95 860.43h.01M529.58 860.17h.01M519.24 860.79h.01M513.38 858.23h.01M505.86 860.17h.01M529.31 851.96h.01M530.73 858.58h.01M524.91 859.55h.01M517.58 834.53h.01M526.57 853.81h.01M522.6 843.09h.01M516.02 859.04h.01M516.45 860.76h.01M523.01 837.68h.01M523.5 829.6h.01M523.84 859.55h.01M520.09 816.22h.01M530.25 860.8h.01M513.44 776.4h.01M518.52 853.22h.01M529.41 857.14h.01M512.2 860.12h.01M528.05 837.63h.01M526.62 859.74h.01M522.21 806.43h.01M516.07 833.05h.01M530.88 860.77h.01M517.12 779.74h.01M510.1 860.15h.01M521.01 860.7h.01M528.11 854.73h.01M526.11 859.73h.01M520.44 835.77h.01M510.61 766.96h.01M525.6 855.46h.01M518.14 771.46h.01M524.79 839.08h.01M484.27 843.21h.01M530.17 855.79h.01M523.8 857.65h.01" stroke="#b7cde6" stroke-width="2.1" stroke-linecap="round" fill="none"/>
<path d="M549.59 786.32h.01M549.34 860.49h.01M546.14 860.27h.01M546.56 853.44h.01M557.03 853.73h.01M555.86 774.94h.01M556.77 773.14h.01M554.38 787.57h.01M557.44 800.56h.01M550.51 780.34h.01M557.81 845.32h.01M545.39 840.96h.01M554.42 834.19h.01M551.02 828.02h.01M545.24 853.12h.01M560.14 859h.01M558.61 835.11h.01M550.44 854.53h.01M552.78 850.69h.01M548.73 794.58h.01M546.84 854.53h.01M557.06 783.96h.01M549.67 786.15h.01M551.26 852.4h.01M559.36 841.61h.01M556.33 860.63h.01M618.41 854.08h.01M562.35 860.79h.01M558.65 860.77h.01M557.93 854.03h.01M562.49 860.52h.01M553.72 859.63h.01M561.38 858.76h.01M549.62 860.79h.01M555.31 847.87h.01M543.71 857.1h.01M547 854.61h.01M549.43 860.8h.01M546.97 859.57h.01M554.69 860.22h.01M555.26 840.67h.01M550.68 848.9h.01M554.26 859.33h.01M548.74 816.52h.01M551.59 848.83h.01M557.88 843.19h.01M556.31 837.32h.01M551.74 778.76h.01M554.71 856.91h.01M553.69 839.64h.01" stroke="#dcc3e6" stroke-width="2.1" stroke-linecap="round" fill="none"/>
<path d="M558.52 856.82h.01M562.13 860.71h.01M548.89 815.19h.01M560.45 774.46h.01M551.15 778.84h.01M561.1 856.29h.01M547.23 825.79h.01M552.94 827.7h.01M552.86 818.85h.01M552.81 860.32h.01M551.15 850.73h.01M559.92 860.79h.01M545.61 836.83h.01M553.36 847.3h.01M554.46 805.18h.01M542.4 860.79h.01M556.11 839.61h.01M560.41 846.81h.01M543.34 854.39h.01M554.51 850.01h.01M556.61 850.04h.01M552.24 798.03h.01M545.65 845.13h.01M548.21 860.25h.01M548.98 860.79h.01M549.36 860.26h.01M556.33 774.06h.01M552.9 830.26h.01M551.12 777.42h.01M554.08 860.44h.01M543.04 856.88h.01M561.93 828.36h.01M559.73 860.29h.01M550.76 823.84h.01M548.83 848.84h.01M552.21 848.64h.01M589.78 851.8h.01M553.86 838.4h.01M560.01 840.29h.01M562.04 860.23h.01M559.1 859.57h.01M545.04 852.77h.01M545.37 855.28h.01M553.42 768.71h.01M554.1 853.14h.01M546.28 860.8h.01M554.07 860.33h.01M550.34 848.69h.01M544.96 838.81h.01M552.17 858.47h.01M546.67 859.1h.01M555.97 858.15h.01M550.97 774.41h.01M553.87 783.23h.01M554.56 848.97h.01M549.11 836.78h.01M544.76 860.76h.01M555.9 860.37h.01M549.35 860.79h.01M552.39 780.95h.01M546.67 840.76h.01M555.27 793.07h.01M545.35 852.28h.01M558.91 851.36h.01M551.9 810.68h.01M557.01 847.61h.01M556.83 830.88h.01M553.42 830.37h.01M545.94 860.2h.01M561.29 860.51h.01M556.56 806.16h.01M548.1 856.08h.01M555.71 801.36h.01M553.19 857.79h.01M544.68 856.56h.01M554.68 858.91h.01M547.73 810.02h.01M558.08 856.34h.01M548.86 828.55h.01M551.8 814.64h.01M548.78 847.24h.01M550.94 824.2h.01M551.44 807.19h.01M547.8 851.32h.01M550.73 803.61h.01M561.08 858.68h.01M546.39 814h.01M551.38 800.82h.01M553.6 860.63h.01M550.09 855.38h.01M553.08 851.38h.01M552.38 859.51h.01M555.03 860.8h.01M556.95 816.13h.01M553.98 851.52h.01M554.35 793.66h.01M546.36 836.17h.01M552.58 809.15h.01M543.05 850.54h.01M552.24 849.31h.01M548.62 852.92h.01M550.53 853.72h.01M541.78 857.57h.01M553.31 859.84h.01M548.97 852.97h.01M544.61 851.84h.01M552.38 777.6h.01M555.05 855.38h.01M549.54 819.65h.01M544.47 860.8h.01M550.5 785.64h.01M548.69 854.44h.01M549.91 823.04h.01M543.38 860.8h.01M552.67 859.98h.01" stroke="#ebcd8e" stroke-width="2.1" stroke-linecap="round" fill="none"/>
<path d="M522.09 820.82h.01M517.64 833.21h.01M528.55 860.72h.01M516.84 854.82h.01M514.04 765.05h.01M512.64 860.75h.01M530.1 860.63h.01M521.78 808.95h.01M524.39 860.79h.01M521.28 775.42h.01M517.3 858.08h.01M510.68 860.8h.01M528.31 860.8h.01M512.35 860.8h.01M522.31 832.73h.01M510.47 855.37h.01M517.58 854.71h.01M523.42 855.68h.01M516.83 808.68h.01M518.38 842.79h.01M525.17 824.31h.01M513.57 860.51h.01M527.51 830.94h.01M509.24 859.87h.01M528.16 846.26h.01M517.92 819.21h.01M524.64 858.37h.01M517.57 780.27h.01M517.13 842.31h.01M518.53 768.73h.01M519.23 811.44h.01M523.78 860.58h.01M514.75 859.85h.01M517.44 798.48h.01M510.72 713.4h.01M529.8 860.8h.01M517.74 814.42h.01M525.8 853.38h.01M528.93 860.55h.01M484.86 763.73h.01M527.27 851.39h.01M526.5 860.8h.01M523.04 860.47h.01M509.92 860.78h.01M513.85 860.74h.01M515.82 848.01h.01M513.67 765.34h.01M522.08 819.54h.01M516.63 827.31h.01M526.42 851.43h.01M517.56 827.21h.01" stroke="#ebcd8e" stroke-width="2.1" stroke-linecap="round" fill="none"/>
<path d="M512.06 848.06h.01M526.89 859.64h.01M526.55 860.77h.01M512.83 848.78h.01M515.12 829.05h.01M513.83 857h.01M509.67 860.67h.01M520.21 860.77h.01M512.68 720.17h.01M526.2 860.72h.01M518.89 772.37h.01M510.28 829.15h.01M529.99 860.8h.01M510.88 850.14h.01M513.33 860.8h.01M523.45 802.22h.01M515.1 840.58h.01M518.22 858.62h.01M514.08 748.96h.01M509.82 860.8h.01M512.19 755.61h.01M520.61 860.79h.01M520.05 821.79h.01M521.17 799.81h.01M514.82 768.71h.01M514.44 840.51h.01M518.23 785.22h.01M522.25 809.71h.01M519.53 766.38h.01M525.37 859.6h.01M523.61 860.8h.01M517.71 860.78h.01M509.42 748.54h.01M528.45 844.36h.01M512.99 859.46h.01M513.64 853.28h.01M512.93 859.35h.01M528.38 859.94h.01M512.21 859.84h.01M510.02 860.8h.01M527.67 860.68h.01M522.75 860.66h.01M516.36 860.14h.01M523.02 849.44h.01M518.47 847.77h.01M511.02 857.46h.01M514.07 747.82h.01M525.01 855.34h.01M518.13 768.57h.01M521.19 853.03h.01M522.52 860.73h.01M517.6 860.79h.01M508.75 853.02h.01M513.77 859.05h.01M512.27 860.73h.01M522.31 811.98h.01M529.81 856.55h.01M515.99 860.8h.01M519.23 860.37h.01M514.85 786.49h.01M519.29 860.2h.01M514.32 860.72h.01M523.51 804.98h.01M519.94 770.76h.01M513.09 859.19h.01M517.56 831.33h.01M520.86 827.48h.01M522.44 860.78h.01M520.31 856.04h.01M515.95 860.14h.01M523.02 793.59h.01M513.87 860.8h.01M528.6 854.8h.01M516.57 805.54h.01M530.02 859.79h.01M516.37 833.42h.01M521.65 854.6h.01M525.41 859.99h.01M521.87 860.42h.01M526.54 859.85h.01M519.26 858.31h.01M512.59 860.78h.01M515.24 860.58h.01" stroke="#b7cde6" stroke-width="2.1" stroke-linecap="round" fill="none"/>
<path d="M562.35 856.29h.01M550.84 801.98h.01M542.54 860.77h.01M550.43 810.75h.01M541.76 860.68h.01M541.16 860.65h.01M555.55 817.23h.01M555.25 856.91h.01M542.62 860.79h.01M553.51 794.85h.01M545.91 838.29h.01M557.18 827.33h.01M553.08 792.71h.01M561.67 852.77h.01M552.81 835.33h.01M547.26 851.53h.01M552.28 860.8h.01M551.59 786.54h.01M555.45 860.8h.01M553.99 834.12h.01M548.59 827.83h.01M555.7 786.33h.01M559.92 860.8h.01M551.49 860.8h.01M551.65 835.48h.01M555.8 806.07h.01M547.77 799.75h.01M556.56 785.93h.01M548.92 841.8h.01M550.5 791.5h.01M557.78 822.91h.01M547.28 860.51h.01M543.57 843.8h.01M557.15 859.56h.01M557.92 860.52h.01M552.28 783.94h.01M555.81 860.76h.01M541.14 860.22h.01M557.31 855.82h.01M554.56 823.09h.01M594.66 850.38h.01M548.22 810.06h.01M550.27 847.76h.01M559.09 852.88h.01M552.45 860.72h.01M558.48 858.31h.01M549.39 800.61h.01M557.6 841.94h.01M550.66 847.94h.01M557.8 839.16h.01" stroke="#dcc3e6" stroke-width="2.1" stroke-linecap="round" fill="none"/>
<path d="M555.64 842.39h.01M542.22 860.1h.01M609.3 845.17h.01M559.34 860.74h.01M556.07 860.49h.01M560.56 860.57h.01M548.19 810.74h.01M556.37 783.78h.01M549.23 834.8h.01M552.93 804.32h.01M559.25 860.8h.01M557.59 860.77h.01M557.44 860.65h.01M547.13 853.34h.01M553.39 768.97h.01M553.31 793.07h.01M550.59 786.24h.01M554.91 777.52h.01M547.27 858.68h.01M554.08 777.01h.01M547.3 839.38h.01M549.25 852.63h.01M553.76 846.57h.01M555.25 820.33h.01M541.54 857.46h.01M579.75 842.9h.01M558.74 859.43h.01M550.41 792.79h.01M546.73 826.1h.01M557.48 853.38h.01M560.21 858.82h.01M543.59 858.43h.01M546.38 849.17h.01M550.88 858.03h.01M571.92 858.55h.01M556.64 828.27h.01M549.07 842.98h.01M562.43 860.8h.01M545.96 855.14h.01M545.73 841.36h.01M555.27 860.01h.01M554.78 825.98h.01M562.08 859.44h.01M548.18 807.79h.01M558.86 858.81h.01M549.19 794.32h.01M552.68 833.63h.01M543.56 860.41h.01M549.48 818.8h.01M549.92 808.54h.01M545.04 860.76h.01M570.56 830.29h.01M556.45 854.14h.01M551.95 840.46h.01M552.17 855.01h.01M551.73 860.72h.01M544.93 855.63h.01M547.28 847.22h.01M545.51 860.78h.01M548.84 859.42h.01M556.85 845.01h.01M554.05 795.79h.01M556.71 767.14h.01M551.76 806.71h.01M546.52 840.5h.01M559.41 845.83h.01M541.19 860.78h.01M549.19 848.5h.01M549.44 796.26h.01M557.63 860.8h.01M547.53 859.76h.01M548.99 829.41h.01M560.15 787.13h.01M550.51 781.06h.01M555.59 855.43h.01M541.03 860.4h.01M558.18 849.89h.01M554.34 790.9h.01M556.81 780.73h.01M552.55 810.43h.01M556.86 860.5h.01M553.49 787.29h.01M544.39 846.74h.01M557.4 817.51h.01M550.5 822.79h.01M555.62 856.73h.01M550.11 783.09h.01M554.93 796.47h.01M551.16 799.26h.01M560.1 857.39h.01M550.72 860.78h.01M550.92 860.4h.01M546.55 853.8h.01M557.33 786.29h.01M542.2 852.49h.01M549.35 793.68h.01M554.66 852.37h.01M548.62 831.68h.01M558.03 857.43h.01M582.15 840.63h.01M541.24 860.8h.01M604.42 846.59h.01M557.21 860.69h.01M552.18 860.8h.01M557.27 824.29h.01M560.25 860.8h.01M547.19 860.78h.01M554.99 787.34h.01M571.89 849.15h.01M555.22 860.6h.01M552.49 858.52h.01M557.27 828.12h.01M554.55 860.76h.01M546.3 849.27h.01M548.28 838.41h.01" stroke="#ebcd8e" stroke-width="2.1" stroke-linecap="round" fill="none"/>
<path d="M526.36 853.43h.01M509.12 860.76h.01M518.01 792.25h.01M509.98 860.43h.01M506.38 840.65h.01M514.16 859.67h.01M524.52 808.97h.01M513.85 857.6h.01M526.92 834.07h.01M525.74 817.33h.01M521.95 808.64h.01M520.47 771.51h.01M515.76 860.79h.01M530.66 860.78h.01M528.7 859.23h.01M518.03 781.56h.01M520.4 860.7h.01M527.17 860.8h.01M523.37 859.27h.01M518.07 859.91h.01M522.71 859.17h.01M508.84 860.8h.01M524.44 852.23h.01M519.36 773.17h.01M528.31 857.67h.01M515.77 769.75h.01M521.84 860.79h.01M516.53 858.03h.01M512.02 860.3h.01M521.96 860.8h.01M527.59 850.87h.01M521.46 860.79h.01M518.45 860.7h.01M512.95 858.97h.01M521.3 860.8h.01M522.09 857.95h.01M521.33 814.98h.01M516.29 786.41h.01M520.45 810.95h.01M520.95 849.59h.01M517.97 828.76h.01M517.39 860.33h.01M517.2 813.21h.01M517.57 828.75h.01M530.51 859.68h.01M510.21 860.41h.01M512.79 858.4h.01M514.99 860.14h.01M515.03 765.2h.01" stroke="#ebcd8e" stroke-width="2.1" stroke-linecap="round" fill="none"/>
<path d="M527.74 860.64h.01M525.58 859.84h.01M524.39 860.8h.01M522.58 801.72h.01M517.3 751.49h.01M511.47 850.91h.01M526.44 854.84h.01M518.13 860.8h.01M520.02 825.71h.01M510.68 860.78h.01M517.6 860.72h.01M525.31 846.31h.01M515.5 860.55h.01M523.85 849.2h.01M517.73 744.12h.01M528.75 860.75h.01M512.88 860.72h.01M522.05 786.57h.01M517.59 860.13h.01M521.25 784.94h.01M518.58 779.37h.01M519.58 829.62h.01M519.68 830.85h.01M515.63 859.09h.01M511.67 860.58h.01M527.56 860.78h.01M522.97 838.38h.01M512.87 857.85h.01M514.16 767.28h.01M522.1 801h.01M511.07 860.59h.01M523.75 859.59h.01M515.61 780.71h.01M520.54 860.13h.01M519.21 795.39h.01M519.09 812.23h.01M525.49 816.07h.01M514.21 772.72h.01M521.7 820.59h.01M529.54 860.8h.01M521.66 860.23h.01M520.49 859.72h.01M523.39 849.84h.01M521.3 788.74h.01M519.27 808.79h.01M521.91 837.71h.01M525.3 856.37h.01M523.62 853.26h.01M516.33 859.02h.01M511.66 858.43h.01M521.43 785.81h.01M522.7 823.11h.01M519.03 779.87h.01M466.32 847.54h.01M519.46 777.27h.01M517.99 858.18h.01M518 854.99h.01M512.72 860.78h.01M518.32 849.55h.01M521.08 851.83h.01M529.79 860.35h.01M530.18 860.78h.01M519.16 854.23h.01M520.36 860.66h.01M519.44 847.43h.01M414.09 841.19h.01M521.81 768.27h.01M526.83 854.38h.01M525.33 831.39h.01M500.59 859.69h.01M522.48 860.54h.01M524.09 859.94h.01M517.15 859.11h.01M519.69 860.8h.01M511.61 743.12h.01M521.41 821.77h.01M509.21 860.67h.01M524.22 807.21h.01M521.52 855.18h.01M521.65 852.22h.01" stroke="#b7cde6" stroke-width="2.1" stroke-linecap="round" fill="none"/>
<path d="M548.28 860.04h.01M554.97 813.53h.01M554.97 832.08h.01M543.22 860.71h.01M556.87 855.76h.01M552.68 798.17h.01M548.58 818.78h.01M562.19 860.8h.01M543.5 853.68h.01M547.78 860.8h.01M556.98 858.24h.01M571.03 830.64h.01M553.33 860.76h.01M556.19 790.9h.01M557.58 840.87h.01M557.57 840.03h.01M558.98 781.29h.01M546.23 826.46h.01M559.28 842.84h.01M558.06 854.23h.01M562.77 860.59h.01M546.52 834.58h.01M544.66 859.01h.01M544.64 860.79h.01M545.17 851.15h.01M554.2 807.06h.01M557.43 848.64h.01M562.54 860.73h.01M555.57 860.8h.01M554.98 842.05h.01M556.12 793.69h.01M545.18 849.18h.01M541.49 858.18h.01M548.07 844.81h.01M560.07 860.72h.01M556.62 826.13h.01M551.47 781.72h.01M555.42 804.57h.01M543.64 860.73h.01M554 860.78h.01M542.8 858.4h.01M551.23 843.02h.01M558.87 851.29h.01M565.41 848.43h.01M548.87 853.57h.01M552.01 854.83h.01M549.01 824.06h.01M549.71 849.85h.01M554.17 821.12h.01" stroke="#dcc3e6" stroke-width="2.1" stroke-linecap="round" fill="none"/>
<path d="M554.68 798.68h.01M565.34 832.02h.01M544.04 839h.01M560.23 844.07h.01M555.77 860.31h.01M561.12 856.97h.01M562.94 713.4h.01M547.92 860.49h.01M558.59 835.18h.01M555.02 773.73h.01M549.88 830.28h.01M552.39 830.61h.01M554.36 807.89h.01M556.87 859.24h.01M550.46 821.92h.01M557.7 859.75h.01M559.8 854.48h.01M546.78 844.32h.01M550.78 799.56h.01M552.26 768.41h.01M547.2 854.78h.01M566.52 860.67h.01M547.46 860.75h.01M551.16 858.24h.01M552.77 858.59h.01M542.3 860.77h.01M548.76 817.12h.01M559.38 856.51h.01M548.02 802.09h.01M618.37 853.74h.01M557.18 836.81h.01M544.26 860.75h.01M560.83 857.06h.01M555.81 848.1h.01M550.68 856.86h.01M556.65 766.78h.01M542.23 859.07h.01M546.65 851.65h.01M558.75 841.22h.01M555.69 845.7h.01M552.27 776.27h.01M561.39 850.56h.01M549.92 827.61h.01M552.51 787.51h.01M558.5 860.8h.01M549.59 847.94h.01M542.14 860.79h.01M554.62 852.71h.01M555.2 783.42h.01M556.28 767h.01M553.7 802.36h.01M553.63 852.64h.01M558.96 849.98h.01M541.47 860.8h.01M557.61 856.31h.01M544.5 860.62h.01M555.48 788.41h.01M551.49 787.25h.01M559.95 860.79h.01M558.53 853.03h.01M558.51 847.94h.01M544.55 846.04h.01M546.2 846.87h.01M554.97 800.77h.01M574.71 845.38h.01M550.68 856.12h.01M546.35 860.79h.01M562.15 860.77h.01M556.36 818.17h.01M555.58 829.94h.01M567.16 833.88h.01M560.7 860.33h.01M557.91 860.24h.01M557.23 831.21h.01M557.21 849.57h.01M553.47 852.57h.01M551.9 768.3h.01M551.97 775.99h.01M556.01 839.45h.01M555.94 838.8h.01M553.96 860.8h.01M549.75 858.21h.01M553.35 860.79h.01M541.27 859.07h.01M551.66 850.5h.01M559.19 860.12h.01M550.89 825.75h.01M550.26 826.45h.01M560.22 860.76h.01M550.84 858.5h.01M556.33 858.73h.01M549.2 842.8h.01M548.45 796.55h.01M549.7 818.74h.01M572.7 806.35h.01M545.49 829.51h.01M551.99 818.06h.01M550.16 819.84h.01M544.02 847.21h.01M548.26 807.5h.01M549.76 858.48h.01M635.21 847.93h.01M549.52 825.67h.01M547.15 858.85h.01M553.46 777.91h.01M552.4 860.47h.01M548.9 794.68h.01M559.01 854.12h.01M550.9 832.2h.01M555.45 856.9h.01M550.14 808.74h.01M563.15 860.78h.01" stroke="#ebcd8e" stroke-width="2.1" stroke-linecap="round" fill="none"/>
</g>
<rect x="458.6" y="713.4" width="155.4" height="154.6" fill="none" stroke="#4d4d4d" stroke-width="0.9"/>
<line x1="457" y1="860.8" x2="458.6" y2="860.8" stroke="#4d4d4d" stroke-width="0.8"/>
<text x="455.7" y="863" font-size="8.6" text-anchor="end" fill="#4d4d4d" stroke="#4d4d4d">0</text>
<line x1="457" y1="813.45" x2="458.6" y2="813.45" stroke="#4d4d4d" stroke-width="0.8"/>
<text x="456.89" y="815.65" font-size="8.6" text-anchor="end" fill="#4d4d4d" stroke="#4d4d4d">100</text>
<line x1="457" y1="766.1" x2="458.6" y2="766.1" stroke="#4d4d4d" stroke-width="0.8"/>
<text x="456.89" y="768.3" font-size="8.6" text-anchor="end" fill="#4d4d4d" stroke="#4d4d4d">200</text>
<line x1="457" y1="718.75" x2="458.6" y2="718.75" stroke="#4d4d4d" stroke-width="0.8"/>
<text x="456.89" y="720.95" font-size="8.6" text-anchor="end" fill="#4d4d4d" stroke="#4d4d4d">300</text>
<line x1="462.9" y1="868" x2="462.9" y2="869.6" stroke="#4d4d4d" stroke-width="0.8"/>
<text x="464.4" y="878.2" font-size="8.6" text-anchor="middle" fill="#4d4d4d" stroke="#4d4d4d">−15</text>
<line x1="487.3" y1="868" x2="487.3" y2="869.6" stroke="#4d4d4d" stroke-width="0.8"/>
<text x="488.8" y="878.2" font-size="8.6" text-anchor="middle" fill="#4d4d4d" stroke="#4d4d4d">−10</text>
<line x1="511.7" y1="868" x2="511.7" y2="869.6" stroke="#4d4d4d" stroke-width="0.8"/>
<text x="513.2" y="878.2" font-size="8.6" text-anchor="middle" fill="#4d4d4d" stroke="#4d4d4d">−5</text>
<line x1="536.1" y1="868" x2="536.1" y2="869.6" stroke="#4d4d4d" stroke-width="0.8"/>
<text x="536.1" y="878.2" font-size="8.6" text-anchor="middle" fill="#4d4d4d" stroke="#4d4d4d">0</text>
<line x1="560.5" y1="868" x2="560.5" y2="869.6" stroke="#4d4d4d" stroke-width="0.8"/>
<text x="560.5" y="878.2" font-size="8.6" text-anchor="middle" fill="#4d4d4d" stroke="#4d4d4d">5</text>
<line x1="584.9" y1="868" x2="584.9" y2="869.6" stroke="#4d4d4d" stroke-width="0.8"/>
<text x="584.9" y="878.2" font-size="8.6" text-anchor="middle" fill="#4d4d4d" stroke="#4d4d4d">10</text>
<line x1="609.3" y1="868" x2="609.3" y2="869.6" stroke="#4d4d4d" stroke-width="0.8"/>
<text x="609.3" y="878.2" font-size="8.6" text-anchor="middle" fill="#4d4d4d" stroke="#4d4d4d">15</text>
<text x="538" y="707.7" font-size="8.85" text-anchor="middle" fill="#000"><tspan font-style="italic">stp2Δ/Δ</tspan> YC vs. SN250 YC</text>
<text x="536.3" y="890.4" font-size="9" text-anchor="middle" fill="#000">log<tspan font-size="5.6" dy="2.2">2</tspan><tspan dy="-2.2">(Fold Change)</tspan></text>
<text transform="translate(437.8,798) rotate(-90)" font-size="9.2" text-anchor="middle" fill="#000">-log<tspan font-size="5.4" dy="2.4">10</tspan><tspan dy="-2.4">(adj.  </tspan><tspan font-style="italic">p</tspan>- value)</text>
<text x="547.3" y="780.4" font-size="7.3" text-anchor="start" fill="#1a1a1a" stroke="#1a1a1a" font-style="italic">PUT2</text>
<line x1="555.1" y1="773.1" x2="557.2" y2="771.3" stroke="#1a1a1a" stroke-width="0.8"/>
<circle cx="557.2" cy="771.3" r="1.1" fill="#1a1a1a"/>
<text x="544.1" y="809" font-size="7.2" text-anchor="start" fill="#1a1a1a" stroke="#1a1a1a" font-style="italic">GDH2</text>
<line x1="551.4" y1="810.2" x2="554.3" y2="813.1" stroke="#1a1a1a" stroke-width="0.8"/>
<circle cx="554.3" cy="813.1" r="1.1" fill="#1a1a1a"/>
<text x="554.7" y="826.6" font-size="7.2" text-anchor="start" fill="#1a1a1a" stroke="#1a1a1a" font-style="italic">CAR1</text>
<line x1="556.6" y1="820.7" x2="553.5" y2="817.5" stroke="#1a1a1a" stroke-width="0.8"/>
<circle cx="553.5" cy="817.5" r="1.1" fill="#1a1a1a"/>
<text x="535" y="848" font-size="7.2" text-anchor="start" fill="#1a1a1a" stroke="#1a1a1a" font-style="italic">MIG1</text>
<line x1="543" y1="841" x2="545" y2="838.9" stroke="#1a1a1a" stroke-width="0.8"/>
<circle cx="545" cy="838.9" r="1.1" fill="#1a1a1a"/>
<text x="554" y="864.4" font-size="7.0" text-anchor="start" fill="#1a1a1a" stroke="#1a1a1a" font-style="italic">PUT1</text>
<line x1="561.9" y1="856.2" x2="564" y2="853.9" stroke="#1a1a1a" stroke-width="0.8"/>
<circle cx="564" cy="853.9" r="1.1" fill="#1a1a1a"/>
<text x="507" y="867.6" font-size="7.2" text-anchor="start" fill="#1a1a1a" stroke="#1a1a1a" font-style="italic">STP2</text>
<line x1="523.4" y1="861.5" x2="525.1" y2="859.7" stroke="#1a1a1a" stroke-width="0.8"/>
<circle cx="525.1" cy="859.7" r="1.1" fill="#1a1a1a"/>
<circle cx="634" cy="751.5" r="2.7" fill="#c6dbef" stroke="#000" stroke-width="1.2"/>
<text x="643.3" y="755.8" font-size="8.75" text-anchor="start" fill="#222" stroke="#222">Decreased</text>
<circle cx="634" cy="776.7" r="2.7" fill="#e2c8e6" stroke="#000" stroke-width="1.2"/>
<text x="643.3" y="781" font-size="8.75" text-anchor="start" fill="#222" stroke="#222">Increased</text>
<circle cx="634" cy="801.9" r="3.1" fill="#e0e0e0"/>
<text x="643.3" y="806.2" font-size="8.75" text-anchor="start" fill="#222" stroke="#222">NS</text>
<circle cx="634" cy="827.5" r="2.7" fill="#f4d590" stroke="#000" stroke-width="1.2"/>
<text x="643.3" y="831.8" font-size="8.75" text-anchor="start" fill="#222" stroke="#222">Shared</text>
</svg>
</body></html>
